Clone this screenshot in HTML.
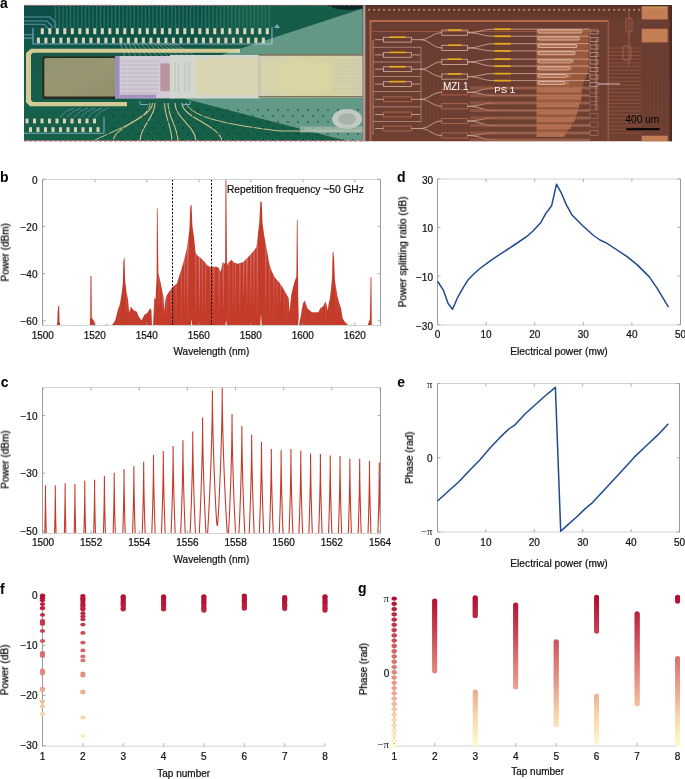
<!DOCTYPE html><html><head><meta charset="utf-8"><style>html,body{margin:0;padding:0;background:#fff;}svg{display:block;}text{will-change:transform;}</style></head><body>
<svg width="685" height="779" viewBox="0 0 685 779" font-family="'Liberation Sans', sans-serif">
<rect width="685" height="779" fill="#fff"/>
<defs>
<linearGradient id="pcbg" x1="0" y1="0" x2="0" y2="1"><stop offset="0" stop-color="#0f4b46"/><stop offset="0.25" stop-color="#10554a"/><stop offset="0.6" stop-color="#18604b"/><stop offset="1" stop-color="#185f4a"/></linearGradient>
<linearGradient id="chipg" x1="0" y1="0" x2="0" y2="1"><stop offset="0" stop-color="#5a3228"/><stop offset="0.12" stop-color="#6a3c31"/><stop offset="1" stop-color="#6d3f32"/></linearGradient>
<linearGradient id="fiberg" x1="0" y1="0" x2="1" y2="0"><stop offset="0" stop-color="#cfcdb9"/><stop offset="0.35" stop-color="#d8d3a6"/><stop offset="0.7" stop-color="#d6d1a2"/><stop offset="1" stop-color="#d2cfb0"/></linearGradient>
<linearGradient id="olive" x1="0" y1="0" x2="1" y2="1"><stop offset="0" stop-color="#939370"/><stop offset="0.5" stop-color="#999772"/><stop offset="1" stop-color="#91906a"/></linearGradient>
<filter id="soft" x="0" y="0" width="1" height="1"><feGaussianBlur stdDeviation="0.55"/></filter>
<clipPath id="pcbclip"><rect x="24" y="5.3" width="338.8" height="135.5"/></clipPath>
<clipPath id="chipclip"><rect x="362.5" y="5.3" width="309.5" height="136"/></clipPath>
</defs>
<g filter="url(#soft)">
<g clip-path="url(#pcbclip)">
<rect x="24" y="5" width="339" height="136.5" fill="url(#pcbg)"/>
<defs><linearGradient id="urg" x1="0" y1="0" x2="1" y2="0"><stop offset="0" stop-color="#175d48" stop-opacity="0"/><stop offset="0.3" stop-color="#175d48" stop-opacity="1"/></linearGradient></defs>
<rect x="200" y="5" width="163" height="50" fill="url(#urg)"/>
<line x1="55.5" y1="5" x2="55.5" y2="28" stroke="#2a7a68" stroke-width="1.3" stroke-opacity="0.8"/>
<line x1="59.2" y1="5" x2="59.2" y2="28" stroke="#2a7a68" stroke-width="1.3" stroke-opacity="0.8"/>
<line x1="63.0" y1="5" x2="63.0" y2="28" stroke="#2a7a68" stroke-width="1.3" stroke-opacity="0.8"/>
<line x1="66.8" y1="5" x2="66.8" y2="28" stroke="#2a7a68" stroke-width="1.3" stroke-opacity="0.8"/>
<line x1="70.5" y1="5" x2="70.5" y2="28" stroke="#2a7a68" stroke-width="1.3" stroke-opacity="0.8"/>
<line x1="74.2" y1="5" x2="74.2" y2="28" stroke="#2a7a68" stroke-width="1.3" stroke-opacity="0.8"/>
<line x1="78.0" y1="5" x2="78.0" y2="28" stroke="#2a7a68" stroke-width="1.3" stroke-opacity="0.8"/>
<line x1="81.8" y1="5" x2="81.8" y2="28" stroke="#2a7a68" stroke-width="1.3" stroke-opacity="0.8"/>
<line x1="85.5" y1="5" x2="85.5" y2="28" stroke="#2a7a68" stroke-width="1.3" stroke-opacity="0.8"/>
<line x1="89.2" y1="5" x2="89.2" y2="28" stroke="#2a7a68" stroke-width="1.3" stroke-opacity="0.8"/>
<line x1="93.0" y1="5" x2="93.0" y2="28" stroke="#2a7a68" stroke-width="1.3" stroke-opacity="0.8"/>
<line x1="96.8" y1="5" x2="96.8" y2="28" stroke="#2a7a68" stroke-width="1.3" stroke-opacity="0.8"/>
<line x1="100.5" y1="5" x2="100.5" y2="28" stroke="#2a7a68" stroke-width="1.3" stroke-opacity="0.8"/>
<line x1="104.2" y1="5" x2="104.2" y2="28" stroke="#2a7a68" stroke-width="1.3" stroke-opacity="0.8"/>
<line x1="108.0" y1="5" x2="108.0" y2="28" stroke="#2a7a68" stroke-width="1.3" stroke-opacity="0.8"/>
<line x1="111.8" y1="5" x2="111.8" y2="28" stroke="#2a7a68" stroke-width="1.3" stroke-opacity="0.8"/>
<line x1="115.5" y1="5" x2="115.5" y2="28" stroke="#2a7a68" stroke-width="1.3" stroke-opacity="0.8"/>
<line x1="119.2" y1="5" x2="119.2" y2="28" stroke="#2a7a68" stroke-width="1.3" stroke-opacity="0.8"/>
<line x1="123.0" y1="5" x2="123.0" y2="28" stroke="#2a7a68" stroke-width="1.3" stroke-opacity="0.8"/>
<line x1="126.8" y1="5" x2="126.8" y2="28" stroke="#2a7a68" stroke-width="1.3" stroke-opacity="0.8"/>
<line x1="130.5" y1="5" x2="130.5" y2="28" stroke="#2a7a68" stroke-width="1.3" stroke-opacity="0.8"/>
<line x1="134.2" y1="5" x2="134.2" y2="28" stroke="#2a7a68" stroke-width="1.3" stroke-opacity="0.8"/>
<line x1="138.0" y1="5" x2="138.0" y2="28" stroke="#2a7a68" stroke-width="1.3" stroke-opacity="0.8"/>
<line x1="141.8" y1="5" x2="141.8" y2="28" stroke="#2a7a68" stroke-width="1.3" stroke-opacity="0.8"/>
<line x1="145.5" y1="5" x2="145.5" y2="28" stroke="#2a7a68" stroke-width="1.3" stroke-opacity="0.8"/>
<line x1="149.2" y1="5" x2="149.2" y2="28" stroke="#2a7a68" stroke-width="1.3" stroke-opacity="0.8"/>
<line x1="153.0" y1="5" x2="153.0" y2="28" stroke="#2a7a68" stroke-width="1.3" stroke-opacity="0.8"/>
<line x1="156.8" y1="5" x2="156.8" y2="28" stroke="#2a7a68" stroke-width="1.3" stroke-opacity="0.8"/>
<line x1="160.5" y1="5" x2="160.5" y2="28" stroke="#2a7a68" stroke-width="1.3" stroke-opacity="0.8"/>
<line x1="164.2" y1="5" x2="164.2" y2="28" stroke="#2a7a68" stroke-width="1.3" stroke-opacity="0.8"/>
<line x1="168.0" y1="5" x2="168.0" y2="28" stroke="#2a7a68" stroke-width="1.3" stroke-opacity="0.8"/>
<line x1="171.8" y1="5" x2="171.8" y2="28" stroke="#2a7a68" stroke-width="1.3" stroke-opacity="0.8"/>
<line x1="175.5" y1="5" x2="175.5" y2="28" stroke="#2a7a68" stroke-width="1.3" stroke-opacity="0.8"/>
<line x1="179.2" y1="5" x2="179.2" y2="28" stroke="#2a7a68" stroke-width="1.3" stroke-opacity="0.8"/>
<line x1="183.0" y1="5" x2="183.0" y2="28" stroke="#2a7a68" stroke-width="1.3" stroke-opacity="0.8"/>
<line x1="186.8" y1="5" x2="186.8" y2="28" stroke="#2a7a68" stroke-width="1.3" stroke-opacity="0.8"/>
<line x1="190.5" y1="5" x2="190.5" y2="28" stroke="#2a7a68" stroke-width="1.3" stroke-opacity="0.8"/>
<line x1="194.2" y1="5" x2="194.2" y2="28" stroke="#2a7a68" stroke-width="1.3" stroke-opacity="0.8"/>
<line x1="198.0" y1="5" x2="198.0" y2="28" stroke="#2a7a68" stroke-width="1.3" stroke-opacity="0.8"/>
<line x1="201.8" y1="5" x2="201.8" y2="28" stroke="#2a7a68" stroke-width="1.3" stroke-opacity="0.8"/>
<line x1="205.5" y1="5" x2="205.5" y2="28" stroke="#2a7a68" stroke-width="1.3" stroke-opacity="0.8"/>
<line x1="209.2" y1="5" x2="209.2" y2="28" stroke="#2a7a68" stroke-width="1.3" stroke-opacity="0.8"/>
<line x1="213.0" y1="5" x2="213.0" y2="28" stroke="#2a7a68" stroke-width="1.3" stroke-opacity="0.8"/>
<line x1="216.8" y1="5" x2="216.8" y2="28" stroke="#2a7a68" stroke-width="1.3" stroke-opacity="0.8"/>
<line x1="220.5" y1="5" x2="220.5" y2="28" stroke="#2a7a68" stroke-width="1.3" stroke-opacity="0.8"/>
<line x1="224.2" y1="5" x2="224.2" y2="28" stroke="#2a7a68" stroke-width="1.3" stroke-opacity="0.8"/>
<line x1="228.0" y1="5" x2="228.0" y2="28" stroke="#2a7a68" stroke-width="1.3" stroke-opacity="0.8"/>
<line x1="231.8" y1="5" x2="231.8" y2="28" stroke="#2a7a68" stroke-width="1.3" stroke-opacity="0.8"/>
<line x1="235.5" y1="5" x2="235.5" y2="28" stroke="#2a7a68" stroke-width="1.3" stroke-opacity="0.8"/>
<line x1="239.2" y1="5" x2="239.2" y2="28" stroke="#2a7a68" stroke-width="1.3" stroke-opacity="0.8"/>
<line x1="243.0" y1="5" x2="243.0" y2="28" stroke="#2a7a68" stroke-width="1.3" stroke-opacity="0.8"/>
<line x1="246.8" y1="5" x2="246.8" y2="28" stroke="#2a7a68" stroke-width="1.3" stroke-opacity="0.8"/>
<line x1="250.5" y1="5" x2="250.5" y2="28" stroke="#2a7a68" stroke-width="1.3" stroke-opacity="0.8"/>
<line x1="254.2" y1="5" x2="254.2" y2="28" stroke="#2a7a68" stroke-width="1.3" stroke-opacity="0.8"/>
<line x1="258.0" y1="5" x2="258.0" y2="28" stroke="#2a7a68" stroke-width="1.3" stroke-opacity="0.8"/>
<line x1="261.8" y1="5" x2="261.8" y2="28" stroke="#2a7a68" stroke-width="1.3" stroke-opacity="0.8"/>
<line x1="265.5" y1="5" x2="265.5" y2="28" stroke="#2a7a68" stroke-width="1.3" stroke-opacity="0.8"/>
<line x1="269.2" y1="5" x2="269.2" y2="28" stroke="#2a7a68" stroke-width="1.3" stroke-opacity="0.8"/>
<polyline points="24,17 50,17 55,22 55,28" fill="none" stroke="#5f8fa8" stroke-width="1.1"/>
<polyline points="24,21 47,21 52,26 52,28" fill="none" stroke="#5f8fa8" stroke-width="1.1"/>
<polyline points="24,24.3 44,24.3 49,29.3 49,28" fill="none" stroke="#5f8fa8" stroke-width="1.1"/>
<polyline points="24,34.8 33,34.8" fill="none" stroke="#5f8fa8" stroke-width="1.1"/>
<polyline points="24,38.1 33,38.1" fill="none" stroke="#5f8fa8" stroke-width="1.1"/>
<polyline points="33,28 33,44 272,44 272,27" fill="none" stroke="#7fa7c4" stroke-width="1.2"/>
<path d="M274,28 l3,-4 l3,4z" fill="#7fa7c4"/>
<rect x="40.8" y="28.2" width="3" height="6" fill="#ddd8bc"/>
<rect x="48.3" y="28.2" width="3" height="6" fill="#ddd8bc"/>
<rect x="55.8" y="28.2" width="3" height="6" fill="#ddd8bc"/>
<rect x="63.3" y="28.2" width="3" height="6" fill="#ddd8bc"/>
<rect x="70.8" y="28.2" width="3" height="6" fill="#ddd8bc"/>
<rect x="78.3" y="28.2" width="3" height="6" fill="#ddd8bc"/>
<rect x="85.8" y="28.2" width="3" height="6" fill="#ddd8bc"/>
<rect x="93.3" y="28.2" width="3" height="6" fill="#ddd8bc"/>
<rect x="100.8" y="28.2" width="3" height="6" fill="#ddd8bc"/>
<rect x="108.3" y="28.2" width="3" height="6" fill="#ddd8bc"/>
<rect x="115.8" y="28.2" width="3" height="6" fill="#ddd8bc"/>
<rect x="123.3" y="28.2" width="3" height="6" fill="#ddd8bc"/>
<rect x="130.8" y="28.2" width="3" height="6" fill="#ddd8bc"/>
<rect x="138.3" y="28.2" width="3" height="6" fill="#ddd8bc"/>
<rect x="145.8" y="28.2" width="3" height="6" fill="#ddd8bc"/>
<rect x="153.3" y="28.2" width="3" height="6" fill="#ddd8bc"/>
<rect x="160.8" y="28.2" width="3" height="6" fill="#ddd8bc"/>
<rect x="168.3" y="28.2" width="3" height="6" fill="#ddd8bc"/>
<rect x="175.8" y="28.2" width="3" height="6" fill="#ddd8bc"/>
<rect x="183.3" y="28.2" width="3" height="6" fill="#ddd8bc"/>
<rect x="190.8" y="28.2" width="3" height="6" fill="#ddd8bc"/>
<rect x="198.3" y="28.2" width="3" height="6" fill="#ddd8bc"/>
<rect x="205.8" y="28.2" width="3" height="6" fill="#ddd8bc"/>
<rect x="213.3" y="28.2" width="3" height="6" fill="#ddd8bc"/>
<rect x="220.8" y="28.2" width="3" height="6" fill="#ddd8bc"/>
<rect x="228.3" y="28.2" width="3" height="6" fill="#ddd8bc"/>
<rect x="235.8" y="28.2" width="3" height="6" fill="#ddd8bc"/>
<rect x="243.3" y="28.2" width="3" height="6" fill="#ddd8bc"/>
<rect x="250.8" y="28.2" width="3" height="6" fill="#ddd8bc"/>
<rect x="258.3" y="28.2" width="3" height="6" fill="#ddd8bc"/>
<rect x="265.8" y="28.2" width="3" height="6" fill="#ddd8bc"/>
<rect x="36.9" y="37.6" width="3" height="5.6" fill="#d9d4b6"/>
<rect x="44.4" y="37.6" width="3" height="5.6" fill="#d9d4b6"/>
<rect x="51.9" y="37.6" width="3" height="5.6" fill="#d9d4b6"/>
<rect x="59.4" y="37.6" width="3" height="5.6" fill="#d9d4b6"/>
<rect x="66.9" y="37.6" width="3" height="5.6" fill="#d9d4b6"/>
<rect x="74.4" y="37.6" width="3" height="5.6" fill="#d9d4b6"/>
<rect x="81.9" y="37.6" width="3" height="5.6" fill="#d9d4b6"/>
<rect x="89.4" y="37.6" width="3" height="5.6" fill="#d9d4b6"/>
<rect x="96.9" y="37.6" width="3" height="5.6" fill="#d9d4b6"/>
<rect x="104.4" y="37.6" width="3" height="5.6" fill="#d9d4b6"/>
<rect x="111.9" y="37.6" width="3" height="5.6" fill="#d9d4b6"/>
<rect x="119.4" y="37.6" width="3" height="5.6" fill="#d9d4b6"/>
<rect x="126.9" y="37.6" width="3" height="5.6" fill="#d9d4b6"/>
<rect x="134.4" y="37.6" width="3" height="5.6" fill="#d9d4b6"/>
<rect x="141.9" y="37.6" width="3" height="5.6" fill="#d9d4b6"/>
<rect x="149.4" y="37.6" width="3" height="5.6" fill="#d9d4b6"/>
<rect x="156.9" y="37.6" width="3" height="5.6" fill="#d9d4b6"/>
<rect x="164.4" y="37.6" width="3" height="5.6" fill="#d9d4b6"/>
<rect x="171.9" y="37.6" width="3" height="5.6" fill="#d9d4b6"/>
<rect x="179.4" y="37.6" width="3" height="5.6" fill="#d9d4b6"/>
<rect x="186.9" y="37.6" width="3" height="5.6" fill="#d9d4b6"/>
<rect x="194.4" y="37.6" width="3" height="5.6" fill="#d9d4b6"/>
<rect x="201.9" y="37.6" width="3" height="5.6" fill="#d9d4b6"/>
<rect x="209.4" y="37.6" width="3" height="5.6" fill="#d9d4b6"/>
<rect x="216.9" y="37.6" width="3" height="5.6" fill="#d9d4b6"/>
<rect x="224.4" y="37.6" width="3" height="5.6" fill="#d9d4b6"/>
<rect x="231.9" y="37.6" width="3" height="5.6" fill="#d9d4b6"/>
<rect x="239.4" y="37.6" width="3" height="5.6" fill="#d9d4b6"/>
<rect x="246.9" y="37.6" width="3" height="5.6" fill="#d9d4b6"/>
<rect x="254.4" y="37.6" width="3" height="5.6" fill="#d9d4b6"/>
<rect x="261.9" y="37.6" width="3" height="5.6" fill="#d9d4b6"/>
<path d="M31,48.8 L240,48.8 L240,52.8 L33,52.8 L31,54.8 L31,100 L33,102 L127,102 L127,106.2 L30,106.2 L26,102.2 L26,53 Z" fill="#d4ca94"/>
<line x1="120.0" y1="42" x2="125.0" y2="57" stroke="#e8e4d0" stroke-width="0.5" stroke-opacity="0.7"/>
<line x1="124.0" y1="42" x2="130.5" y2="57" stroke="#e8e4d0" stroke-width="0.5" stroke-opacity="0.7"/>
<line x1="128.0" y1="42" x2="136.0" y2="57" stroke="#e8e4d0" stroke-width="0.5" stroke-opacity="0.7"/>
<line x1="132.0" y1="42" x2="141.5" y2="57" stroke="#e8e4d0" stroke-width="0.5" stroke-opacity="0.7"/>
<line x1="136.0" y1="42" x2="147.0" y2="57" stroke="#e8e4d0" stroke-width="0.5" stroke-opacity="0.7"/>
<line x1="140.0" y1="42" x2="152.5" y2="57" stroke="#e8e4d0" stroke-width="0.5" stroke-opacity="0.7"/>
<line x1="144.0" y1="42" x2="158.0" y2="57" stroke="#e8e4d0" stroke-width="0.5" stroke-opacity="0.7"/>
<line x1="148.0" y1="42" x2="163.5" y2="57" stroke="#e8e4d0" stroke-width="0.5" stroke-opacity="0.7"/>
<line x1="152.0" y1="42" x2="169.0" y2="57" stroke="#e8e4d0" stroke-width="0.5" stroke-opacity="0.7"/>
<line x1="156.0" y1="42" x2="174.5" y2="57" stroke="#e8e4d0" stroke-width="0.5" stroke-opacity="0.7"/>
<line x1="160.0" y1="42" x2="180.0" y2="57" stroke="#e8e4d0" stroke-width="0.5" stroke-opacity="0.7"/>
<line x1="164.0" y1="42" x2="185.5" y2="57" stroke="#e8e4d0" stroke-width="0.5" stroke-opacity="0.7"/>
<line x1="168.0" y1="42" x2="191.0" y2="57" stroke="#e8e4d0" stroke-width="0.5" stroke-opacity="0.7"/>
<line x1="172.0" y1="42" x2="196.5" y2="57" stroke="#e8e4d0" stroke-width="0.5" stroke-opacity="0.7"/>
<rect x="42.3" y="56.5" width="74" height="42.5" rx="2.5" fill="#262a1c"/>
<rect x="44.3" y="58" width="71" height="38.6" rx="1.5" fill="url(#olive)"/>
<polygon points="200,55 221,55 362.8,8.5 362.8,141 347,141 182,98 182,55" fill="#cfeadb" fill-opacity="0.42"/>
<polygon points="328,5 363,5 363,8.5 350,10 336,9" fill="#0d1d22" fill-opacity="0.85"/>
<rect x="115.1" y="56" width="60" height="42.4" fill="#d2cad6"/>
<rect x="115.1" y="56" width="4.5" height="42.4" fill="#9a8fbb"/>
<line x1="121" y1="61.0" x2="158" y2="61.0" stroke="#b0a8b8" stroke-width="0.6"/>
<line x1="121" y1="65.0" x2="158" y2="65.0" stroke="#b0a8b8" stroke-width="0.6"/>
<line x1="121" y1="69.0" x2="158" y2="69.0" stroke="#b0a8b8" stroke-width="0.6"/>
<line x1="121" y1="73.0" x2="158" y2="73.0" stroke="#b0a8b8" stroke-width="0.6"/>
<line x1="121" y1="77.0" x2="158" y2="77.0" stroke="#b0a8b8" stroke-width="0.6"/>
<line x1="121" y1="81.0" x2="158" y2="81.0" stroke="#b0a8b8" stroke-width="0.6"/>
<line x1="121" y1="85.0" x2="158" y2="85.0" stroke="#b0a8b8" stroke-width="0.6"/>
<line x1="121" y1="89.0" x2="158" y2="89.0" stroke="#b0a8b8" stroke-width="0.6"/>
<line x1="121" y1="93.0" x2="158" y2="93.0" stroke="#b0a8b8" stroke-width="0.6"/>
<rect x="160.4" y="63.4" width="9.5" height="27.7" fill="#b9969e"/>
<rect x="120" y="94.7" width="36" height="3.7" fill="#a890c0"/>
<rect x="170" y="55" width="90" height="43.5" fill="#d3d6cc"/>
<line x1="175" y1="62" x2="175" y2="92" stroke="#a8c0b8" stroke-width="0.8"/>
<line x1="178.5" y1="62" x2="178.5" y2="92" stroke="#a8c0b8" stroke-width="0.8"/>
<line x1="185" y1="62" x2="185" y2="92" stroke="#a8c0b8" stroke-width="0.8"/>
<line x1="189" y1="62" x2="189" y2="92" stroke="#a8c0b8" stroke-width="0.8"/>
<rect x="196" y="58.5" width="62" height="36.5" rx="4" fill="#d9d4ac" fill-opacity="0.85"/>
<rect x="258.6" y="54" width="104.2" height="44" fill="url(#fiberg)"/>
<line x1="258" y1="54.9" x2="363" y2="54.9" stroke="#7d7560" stroke-width="1.6"/>
<line x1="258" y1="96.8" x2="363" y2="96.8" stroke="#7d7560" stroke-width="1.6"/>
<line x1="259" y1="55" x2="259" y2="97" stroke="#bdb9a2" stroke-width="1"/>
<line x1="330" y1="60.0" x2="362" y2="60.0" stroke="#c4c2aa" stroke-width="0.6"/>
<line x1="330" y1="63.6" x2="362" y2="63.6" stroke="#c4c2aa" stroke-width="0.6"/>
<line x1="330" y1="67.2" x2="362" y2="67.2" stroke="#c4c2aa" stroke-width="0.6"/>
<line x1="330" y1="70.8" x2="362" y2="70.8" stroke="#c4c2aa" stroke-width="0.6"/>
<line x1="330" y1="74.4" x2="362" y2="74.4" stroke="#c4c2aa" stroke-width="0.6"/>
<line x1="330" y1="78.0" x2="362" y2="78.0" stroke="#c4c2aa" stroke-width="0.6"/>
<line x1="330" y1="81.6" x2="362" y2="81.6" stroke="#c4c2aa" stroke-width="0.6"/>
<line x1="330" y1="85.2" x2="362" y2="85.2" stroke="#c4c2aa" stroke-width="0.6"/>
<line x1="330" y1="88.8" x2="362" y2="88.8" stroke="#c4c2aa" stroke-width="0.6"/>
<line x1="330" y1="92.4" x2="362" y2="92.4" stroke="#c4c2aa" stroke-width="0.6"/>
<path d="M262,62 Q300,58 330,64 Q340,76 330,92 Q300,95 262,92Z" fill="#ddd7a0" fill-opacity="0.5"/>
<path d="M152.5,103 C152.5,118 113,126 113,142" fill="none" stroke="#cfc08a" stroke-width="1.1"/>
<path d="M155,103 C155,118 140,126 140,142" fill="none" stroke="#cfc08a" stroke-width="1.1"/>
<path d="M164.6,103 C164.6,118 172,126 172,142" fill="none" stroke="#cfc08a" stroke-width="1.1"/>
<path d="M168,103 C168,118 178,126 178,142" fill="none" stroke="#cfc08a" stroke-width="1.1"/>
<path d="M175,103 C175,118 196,126 196,142" fill="none" stroke="#cfc08a" stroke-width="1.1"/>
<path d="M182,103 C182,118 222,126 222,142" fill="none" stroke="#cfc08a" stroke-width="1.1"/>
<path d="M186,103 C192,118 230,125 280,131 L363,131" fill="none" stroke="#cfc08a" stroke-width="1"/>
<path d="M150,103 C150,118 120,128 95,140" fill="none" stroke="#cfc08a" stroke-width="1"/>
<polyline points="140,101 140,104.5 148,104.5" fill="none" stroke="#7fa7c4" stroke-width="1"/>
<polyline points="190,101 190,104.5 182,104.5" fill="none" stroke="#7fa7c4" stroke-width="1"/>
<ellipse cx="108.0" cy="110.0" rx="1.2" ry="0.8" fill="#0b3c30" fill-opacity="0.75"/>
<ellipse cx="118.0" cy="110.0" rx="1.2" ry="0.8" fill="#0b3c30" fill-opacity="0.75"/>
<ellipse cx="128.0" cy="110.0" rx="1.2" ry="0.8" fill="#0b3c30" fill-opacity="0.75"/>
<ellipse cx="138.0" cy="110.0" rx="1.2" ry="0.8" fill="#0b3c30" fill-opacity="0.75"/>
<ellipse cx="148.0" cy="110.0" rx="1.2" ry="0.8" fill="#0b3c30" fill-opacity="0.75"/>
<ellipse cx="158.0" cy="110.0" rx="1.2" ry="0.8" fill="#0b3c30" fill-opacity="0.75"/>
<ellipse cx="168.0" cy="110.0" rx="1.2" ry="0.8" fill="#0b3c30" fill-opacity="0.75"/>
<ellipse cx="178.0" cy="110.0" rx="1.2" ry="0.8" fill="#0b3c30" fill-opacity="0.75"/>
<ellipse cx="188.0" cy="110.0" rx="1.2" ry="0.8" fill="#0b3c30" fill-opacity="0.75"/>
<ellipse cx="198.0" cy="110.0" rx="1.2" ry="0.8" fill="#0b3c30" fill-opacity="0.75"/>
<ellipse cx="208.0" cy="110.0" rx="1.2" ry="0.8" fill="#0b3c30" fill-opacity="0.75"/>
<ellipse cx="218.0" cy="110.0" rx="1.2" ry="0.8" fill="#0b3c30" fill-opacity="0.75"/>
<ellipse cx="228.0" cy="110.0" rx="1.2" ry="0.8" fill="#0b3c30" fill-opacity="0.75"/>
<ellipse cx="238.0" cy="110.0" rx="1.2" ry="0.8" fill="#0b3c30" fill-opacity="0.75"/>
<ellipse cx="248.0" cy="110.0" rx="1.2" ry="0.8" fill="#0b3c30" fill-opacity="0.75"/>
<ellipse cx="258.0" cy="110.0" rx="1.2" ry="0.8" fill="#0b3c30" fill-opacity="0.75"/>
<ellipse cx="268.0" cy="110.0" rx="1.2" ry="0.8" fill="#0b3c30" fill-opacity="0.75"/>
<ellipse cx="278.0" cy="110.0" rx="1.2" ry="0.8" fill="#0b3c30" fill-opacity="0.75"/>
<ellipse cx="288.0" cy="110.0" rx="1.2" ry="0.8" fill="#0b3c30" fill-opacity="0.75"/>
<ellipse cx="298.0" cy="110.0" rx="1.2" ry="0.8" fill="#0b3c30" fill-opacity="0.75"/>
<ellipse cx="308.0" cy="110.0" rx="1.2" ry="0.8" fill="#0b3c30" fill-opacity="0.75"/>
<ellipse cx="318.0" cy="110.0" rx="1.2" ry="0.8" fill="#0b3c30" fill-opacity="0.75"/>
<ellipse cx="328.0" cy="110.0" rx="1.2" ry="0.8" fill="#0b3c30" fill-opacity="0.75"/>
<ellipse cx="338.0" cy="110.0" rx="1.2" ry="0.8" fill="#0b3c30" fill-opacity="0.75"/>
<ellipse cx="348.0" cy="110.0" rx="1.2" ry="0.8" fill="#0b3c30" fill-opacity="0.75"/>
<ellipse cx="358.0" cy="110.0" rx="1.2" ry="0.8" fill="#0b3c30" fill-opacity="0.75"/>
<ellipse cx="113.0" cy="116.0" rx="1.2" ry="0.8" fill="#0b3c30" fill-opacity="0.75"/>
<ellipse cx="123.0" cy="116.0" rx="1.2" ry="0.8" fill="#0b3c30" fill-opacity="0.75"/>
<ellipse cx="133.0" cy="116.0" rx="1.2" ry="0.8" fill="#0b3c30" fill-opacity="0.75"/>
<ellipse cx="143.0" cy="116.0" rx="1.2" ry="0.8" fill="#0b3c30" fill-opacity="0.75"/>
<ellipse cx="153.0" cy="116.0" rx="1.2" ry="0.8" fill="#0b3c30" fill-opacity="0.75"/>
<ellipse cx="163.0" cy="116.0" rx="1.2" ry="0.8" fill="#0b3c30" fill-opacity="0.75"/>
<ellipse cx="173.0" cy="116.0" rx="1.2" ry="0.8" fill="#0b3c30" fill-opacity="0.75"/>
<ellipse cx="183.0" cy="116.0" rx="1.2" ry="0.8" fill="#0b3c30" fill-opacity="0.75"/>
<ellipse cx="193.0" cy="116.0" rx="1.2" ry="0.8" fill="#0b3c30" fill-opacity="0.75"/>
<ellipse cx="203.0" cy="116.0" rx="1.2" ry="0.8" fill="#0b3c30" fill-opacity="0.75"/>
<ellipse cx="213.0" cy="116.0" rx="1.2" ry="0.8" fill="#0b3c30" fill-opacity="0.75"/>
<ellipse cx="223.0" cy="116.0" rx="1.2" ry="0.8" fill="#0b3c30" fill-opacity="0.75"/>
<ellipse cx="233.0" cy="116.0" rx="1.2" ry="0.8" fill="#0b3c30" fill-opacity="0.75"/>
<ellipse cx="243.0" cy="116.0" rx="1.2" ry="0.8" fill="#0b3c30" fill-opacity="0.75"/>
<ellipse cx="253.0" cy="116.0" rx="1.2" ry="0.8" fill="#0b3c30" fill-opacity="0.75"/>
<ellipse cx="263.0" cy="116.0" rx="1.2" ry="0.8" fill="#0b3c30" fill-opacity="0.75"/>
<ellipse cx="273.0" cy="116.0" rx="1.2" ry="0.8" fill="#0b3c30" fill-opacity="0.75"/>
<ellipse cx="283.0" cy="116.0" rx="1.2" ry="0.8" fill="#0b3c30" fill-opacity="0.75"/>
<ellipse cx="293.0" cy="116.0" rx="1.2" ry="0.8" fill="#0b3c30" fill-opacity="0.75"/>
<ellipse cx="303.0" cy="116.0" rx="1.2" ry="0.8" fill="#0b3c30" fill-opacity="0.75"/>
<ellipse cx="313.0" cy="116.0" rx="1.2" ry="0.8" fill="#0b3c30" fill-opacity="0.75"/>
<ellipse cx="323.0" cy="116.0" rx="1.2" ry="0.8" fill="#0b3c30" fill-opacity="0.75"/>
<ellipse cx="333.0" cy="116.0" rx="1.2" ry="0.8" fill="#0b3c30" fill-opacity="0.75"/>
<ellipse cx="343.0" cy="116.0" rx="1.2" ry="0.8" fill="#0b3c30" fill-opacity="0.75"/>
<ellipse cx="353.0" cy="116.0" rx="1.2" ry="0.8" fill="#0b3c30" fill-opacity="0.75"/>
<ellipse cx="108.0" cy="122.0" rx="1.2" ry="0.8" fill="#0b3c30" fill-opacity="0.75"/>
<ellipse cx="118.0" cy="122.0" rx="1.2" ry="0.8" fill="#0b3c30" fill-opacity="0.75"/>
<ellipse cx="128.0" cy="122.0" rx="1.2" ry="0.8" fill="#0b3c30" fill-opacity="0.75"/>
<ellipse cx="138.0" cy="122.0" rx="1.2" ry="0.8" fill="#0b3c30" fill-opacity="0.75"/>
<ellipse cx="148.0" cy="122.0" rx="1.2" ry="0.8" fill="#0b3c30" fill-opacity="0.75"/>
<ellipse cx="158.0" cy="122.0" rx="1.2" ry="0.8" fill="#0b3c30" fill-opacity="0.75"/>
<ellipse cx="168.0" cy="122.0" rx="1.2" ry="0.8" fill="#0b3c30" fill-opacity="0.75"/>
<ellipse cx="178.0" cy="122.0" rx="1.2" ry="0.8" fill="#0b3c30" fill-opacity="0.75"/>
<ellipse cx="188.0" cy="122.0" rx="1.2" ry="0.8" fill="#0b3c30" fill-opacity="0.75"/>
<ellipse cx="198.0" cy="122.0" rx="1.2" ry="0.8" fill="#0b3c30" fill-opacity="0.75"/>
<ellipse cx="208.0" cy="122.0" rx="1.2" ry="0.8" fill="#0b3c30" fill-opacity="0.75"/>
<ellipse cx="218.0" cy="122.0" rx="1.2" ry="0.8" fill="#0b3c30" fill-opacity="0.75"/>
<ellipse cx="228.0" cy="122.0" rx="1.2" ry="0.8" fill="#0b3c30" fill-opacity="0.75"/>
<ellipse cx="238.0" cy="122.0" rx="1.2" ry="0.8" fill="#0b3c30" fill-opacity="0.75"/>
<ellipse cx="248.0" cy="122.0" rx="1.2" ry="0.8" fill="#0b3c30" fill-opacity="0.75"/>
<ellipse cx="258.0" cy="122.0" rx="1.2" ry="0.8" fill="#0b3c30" fill-opacity="0.75"/>
<ellipse cx="268.0" cy="122.0" rx="1.2" ry="0.8" fill="#0b3c30" fill-opacity="0.75"/>
<ellipse cx="278.0" cy="122.0" rx="1.2" ry="0.8" fill="#0b3c30" fill-opacity="0.75"/>
<ellipse cx="288.0" cy="122.0" rx="1.2" ry="0.8" fill="#0b3c30" fill-opacity="0.75"/>
<ellipse cx="298.0" cy="122.0" rx="1.2" ry="0.8" fill="#0b3c30" fill-opacity="0.75"/>
<ellipse cx="308.0" cy="122.0" rx="1.2" ry="0.8" fill="#0b3c30" fill-opacity="0.75"/>
<ellipse cx="318.0" cy="122.0" rx="1.2" ry="0.8" fill="#0b3c30" fill-opacity="0.75"/>
<ellipse cx="328.0" cy="122.0" rx="1.2" ry="0.8" fill="#0b3c30" fill-opacity="0.75"/>
<ellipse cx="338.0" cy="122.0" rx="1.2" ry="0.8" fill="#0b3c30" fill-opacity="0.75"/>
<ellipse cx="348.0" cy="122.0" rx="1.2" ry="0.8" fill="#0b3c30" fill-opacity="0.75"/>
<ellipse cx="358.0" cy="122.0" rx="1.2" ry="0.8" fill="#0b3c30" fill-opacity="0.75"/>
<ellipse cx="113.0" cy="128.0" rx="1.2" ry="0.8" fill="#0b3c30" fill-opacity="0.75"/>
<ellipse cx="123.0" cy="128.0" rx="1.2" ry="0.8" fill="#0b3c30" fill-opacity="0.75"/>
<ellipse cx="133.0" cy="128.0" rx="1.2" ry="0.8" fill="#0b3c30" fill-opacity="0.75"/>
<ellipse cx="143.0" cy="128.0" rx="1.2" ry="0.8" fill="#0b3c30" fill-opacity="0.75"/>
<ellipse cx="153.0" cy="128.0" rx="1.2" ry="0.8" fill="#0b3c30" fill-opacity="0.75"/>
<ellipse cx="163.0" cy="128.0" rx="1.2" ry="0.8" fill="#0b3c30" fill-opacity="0.75"/>
<ellipse cx="173.0" cy="128.0" rx="1.2" ry="0.8" fill="#0b3c30" fill-opacity="0.75"/>
<ellipse cx="183.0" cy="128.0" rx="1.2" ry="0.8" fill="#0b3c30" fill-opacity="0.75"/>
<ellipse cx="193.0" cy="128.0" rx="1.2" ry="0.8" fill="#0b3c30" fill-opacity="0.75"/>
<ellipse cx="203.0" cy="128.0" rx="1.2" ry="0.8" fill="#0b3c30" fill-opacity="0.75"/>
<ellipse cx="213.0" cy="128.0" rx="1.2" ry="0.8" fill="#0b3c30" fill-opacity="0.75"/>
<ellipse cx="223.0" cy="128.0" rx="1.2" ry="0.8" fill="#0b3c30" fill-opacity="0.75"/>
<ellipse cx="233.0" cy="128.0" rx="1.2" ry="0.8" fill="#0b3c30" fill-opacity="0.75"/>
<ellipse cx="243.0" cy="128.0" rx="1.2" ry="0.8" fill="#0b3c30" fill-opacity="0.75"/>
<ellipse cx="253.0" cy="128.0" rx="1.2" ry="0.8" fill="#0b3c30" fill-opacity="0.75"/>
<ellipse cx="263.0" cy="128.0" rx="1.2" ry="0.8" fill="#0b3c30" fill-opacity="0.75"/>
<ellipse cx="273.0" cy="128.0" rx="1.2" ry="0.8" fill="#0b3c30" fill-opacity="0.75"/>
<ellipse cx="283.0" cy="128.0" rx="1.2" ry="0.8" fill="#0b3c30" fill-opacity="0.75"/>
<ellipse cx="293.0" cy="128.0" rx="1.2" ry="0.8" fill="#0b3c30" fill-opacity="0.75"/>
<ellipse cx="303.0" cy="128.0" rx="1.2" ry="0.8" fill="#0b3c30" fill-opacity="0.75"/>
<ellipse cx="313.0" cy="128.0" rx="1.2" ry="0.8" fill="#0b3c30" fill-opacity="0.75"/>
<ellipse cx="323.0" cy="128.0" rx="1.2" ry="0.8" fill="#0b3c30" fill-opacity="0.75"/>
<ellipse cx="333.0" cy="128.0" rx="1.2" ry="0.8" fill="#0b3c30" fill-opacity="0.75"/>
<ellipse cx="343.0" cy="128.0" rx="1.2" ry="0.8" fill="#0b3c30" fill-opacity="0.75"/>
<ellipse cx="353.0" cy="128.0" rx="1.2" ry="0.8" fill="#0b3c30" fill-opacity="0.75"/>
<ellipse cx="108.0" cy="134.0" rx="1.2" ry="0.8" fill="#0b3c30" fill-opacity="0.75"/>
<ellipse cx="118.0" cy="134.0" rx="1.2" ry="0.8" fill="#0b3c30" fill-opacity="0.75"/>
<ellipse cx="128.0" cy="134.0" rx="1.2" ry="0.8" fill="#0b3c30" fill-opacity="0.75"/>
<ellipse cx="138.0" cy="134.0" rx="1.2" ry="0.8" fill="#0b3c30" fill-opacity="0.75"/>
<ellipse cx="148.0" cy="134.0" rx="1.2" ry="0.8" fill="#0b3c30" fill-opacity="0.75"/>
<ellipse cx="158.0" cy="134.0" rx="1.2" ry="0.8" fill="#0b3c30" fill-opacity="0.75"/>
<ellipse cx="168.0" cy="134.0" rx="1.2" ry="0.8" fill="#0b3c30" fill-opacity="0.75"/>
<ellipse cx="178.0" cy="134.0" rx="1.2" ry="0.8" fill="#0b3c30" fill-opacity="0.75"/>
<ellipse cx="188.0" cy="134.0" rx="1.2" ry="0.8" fill="#0b3c30" fill-opacity="0.75"/>
<ellipse cx="198.0" cy="134.0" rx="1.2" ry="0.8" fill="#0b3c30" fill-opacity="0.75"/>
<ellipse cx="208.0" cy="134.0" rx="1.2" ry="0.8" fill="#0b3c30" fill-opacity="0.75"/>
<ellipse cx="218.0" cy="134.0" rx="1.2" ry="0.8" fill="#0b3c30" fill-opacity="0.75"/>
<ellipse cx="228.0" cy="134.0" rx="1.2" ry="0.8" fill="#0b3c30" fill-opacity="0.75"/>
<ellipse cx="238.0" cy="134.0" rx="1.2" ry="0.8" fill="#0b3c30" fill-opacity="0.75"/>
<ellipse cx="248.0" cy="134.0" rx="1.2" ry="0.8" fill="#0b3c30" fill-opacity="0.75"/>
<ellipse cx="258.0" cy="134.0" rx="1.2" ry="0.8" fill="#0b3c30" fill-opacity="0.75"/>
<ellipse cx="268.0" cy="134.0" rx="1.2" ry="0.8" fill="#0b3c30" fill-opacity="0.75"/>
<ellipse cx="278.0" cy="134.0" rx="1.2" ry="0.8" fill="#0b3c30" fill-opacity="0.75"/>
<ellipse cx="288.0" cy="134.0" rx="1.2" ry="0.8" fill="#0b3c30" fill-opacity="0.75"/>
<ellipse cx="298.0" cy="134.0" rx="1.2" ry="0.8" fill="#0b3c30" fill-opacity="0.75"/>
<ellipse cx="308.0" cy="134.0" rx="1.2" ry="0.8" fill="#0b3c30" fill-opacity="0.75"/>
<ellipse cx="318.0" cy="134.0" rx="1.2" ry="0.8" fill="#0b3c30" fill-opacity="0.75"/>
<ellipse cx="328.0" cy="134.0" rx="1.2" ry="0.8" fill="#0b3c30" fill-opacity="0.75"/>
<ellipse cx="338.0" cy="134.0" rx="1.2" ry="0.8" fill="#0b3c30" fill-opacity="0.75"/>
<ellipse cx="348.0" cy="134.0" rx="1.2" ry="0.8" fill="#0b3c30" fill-opacity="0.75"/>
<ellipse cx="358.0" cy="134.0" rx="1.2" ry="0.8" fill="#0b3c30" fill-opacity="0.75"/>
<ellipse cx="113.0" cy="140.0" rx="1.2" ry="0.8" fill="#0b3c30" fill-opacity="0.75"/>
<ellipse cx="123.0" cy="140.0" rx="1.2" ry="0.8" fill="#0b3c30" fill-opacity="0.75"/>
<ellipse cx="133.0" cy="140.0" rx="1.2" ry="0.8" fill="#0b3c30" fill-opacity="0.75"/>
<ellipse cx="143.0" cy="140.0" rx="1.2" ry="0.8" fill="#0b3c30" fill-opacity="0.75"/>
<ellipse cx="153.0" cy="140.0" rx="1.2" ry="0.8" fill="#0b3c30" fill-opacity="0.75"/>
<ellipse cx="163.0" cy="140.0" rx="1.2" ry="0.8" fill="#0b3c30" fill-opacity="0.75"/>
<ellipse cx="173.0" cy="140.0" rx="1.2" ry="0.8" fill="#0b3c30" fill-opacity="0.75"/>
<ellipse cx="183.0" cy="140.0" rx="1.2" ry="0.8" fill="#0b3c30" fill-opacity="0.75"/>
<ellipse cx="193.0" cy="140.0" rx="1.2" ry="0.8" fill="#0b3c30" fill-opacity="0.75"/>
<ellipse cx="203.0" cy="140.0" rx="1.2" ry="0.8" fill="#0b3c30" fill-opacity="0.75"/>
<ellipse cx="213.0" cy="140.0" rx="1.2" ry="0.8" fill="#0b3c30" fill-opacity="0.75"/>
<ellipse cx="223.0" cy="140.0" rx="1.2" ry="0.8" fill="#0b3c30" fill-opacity="0.75"/>
<ellipse cx="233.0" cy="140.0" rx="1.2" ry="0.8" fill="#0b3c30" fill-opacity="0.75"/>
<ellipse cx="243.0" cy="140.0" rx="1.2" ry="0.8" fill="#0b3c30" fill-opacity="0.75"/>
<ellipse cx="253.0" cy="140.0" rx="1.2" ry="0.8" fill="#0b3c30" fill-opacity="0.75"/>
<ellipse cx="263.0" cy="140.0" rx="1.2" ry="0.8" fill="#0b3c30" fill-opacity="0.75"/>
<ellipse cx="273.0" cy="140.0" rx="1.2" ry="0.8" fill="#0b3c30" fill-opacity="0.75"/>
<ellipse cx="283.0" cy="140.0" rx="1.2" ry="0.8" fill="#0b3c30" fill-opacity="0.75"/>
<ellipse cx="293.0" cy="140.0" rx="1.2" ry="0.8" fill="#0b3c30" fill-opacity="0.75"/>
<ellipse cx="303.0" cy="140.0" rx="1.2" ry="0.8" fill="#0b3c30" fill-opacity="0.75"/>
<ellipse cx="313.0" cy="140.0" rx="1.2" ry="0.8" fill="#0b3c30" fill-opacity="0.75"/>
<ellipse cx="323.0" cy="140.0" rx="1.2" ry="0.8" fill="#0b3c30" fill-opacity="0.75"/>
<ellipse cx="333.0" cy="140.0" rx="1.2" ry="0.8" fill="#0b3c30" fill-opacity="0.75"/>
<ellipse cx="343.0" cy="140.0" rx="1.2" ry="0.8" fill="#0b3c30" fill-opacity="0.75"/>
<ellipse cx="353.0" cy="140.0" rx="1.2" ry="0.8" fill="#0b3c30" fill-opacity="0.75"/>
<rect x="25.5" y="118.6" width="3" height="4.8" fill="#d9d4b6"/>
<rect x="29.0" y="127.2" width="3" height="4.8" fill="#d9d4b6"/>
<rect x="33.0" y="118.6" width="3" height="4.8" fill="#d9d4b6"/>
<rect x="36.5" y="127.2" width="3" height="4.8" fill="#d9d4b6"/>
<rect x="40.5" y="118.6" width="3" height="4.8" fill="#d9d4b6"/>
<rect x="44.0" y="127.2" width="3" height="4.8" fill="#d9d4b6"/>
<rect x="48.0" y="118.6" width="3" height="4.8" fill="#d9d4b6"/>
<rect x="51.5" y="127.2" width="3" height="4.8" fill="#d9d4b6"/>
<rect x="55.5" y="118.6" width="3" height="4.8" fill="#d9d4b6"/>
<rect x="59.0" y="127.2" width="3" height="4.8" fill="#d9d4b6"/>
<rect x="63.0" y="118.6" width="3" height="4.8" fill="#d9d4b6"/>
<rect x="66.5" y="127.2" width="3" height="4.8" fill="#d9d4b6"/>
<rect x="70.5" y="118.6" width="3" height="4.8" fill="#d9d4b6"/>
<rect x="74.0" y="127.2" width="3" height="4.8" fill="#d9d4b6"/>
<rect x="78.0" y="118.6" width="3" height="4.8" fill="#d9d4b6"/>
<rect x="81.5" y="127.2" width="3" height="4.8" fill="#d9d4b6"/>
<rect x="85.5" y="118.6" width="3" height="4.8" fill="#d9d4b6"/>
<rect x="89.0" y="127.2" width="3" height="4.8" fill="#d9d4b6"/>
<rect x="93.0" y="118.6" width="3" height="4.8" fill="#d9d4b6"/>
<rect x="96.5" y="127.2" width="3" height="4.8" fill="#d9d4b6"/>
<polyline points="24,133.2 104,133.2 104,117" fill="none" stroke="#7fa7c4" stroke-width="1.1"/>
<path d="M60,117 Q66,110 74,108" fill="none" stroke="#5f8fa8" stroke-width="0.8"/>
<path d="M67,117 Q73,110 81,108" fill="none" stroke="#5f8fa8" stroke-width="0.8"/>
<path d="M74,117 Q80,110 88,108" fill="none" stroke="#5f8fa8" stroke-width="0.8"/>
<path d="M81,117 Q87,110 95,108" fill="none" stroke="#5f8fa8" stroke-width="0.8"/>
<path d="M88,117 Q94,110 102,108" fill="none" stroke="#5f8fa8" stroke-width="0.8"/>
<path d="M95,117 Q101,110 109,108" fill="none" stroke="#5f8fa8" stroke-width="0.8"/>
<ellipse cx="347" cy="119" rx="15" ry="10" fill="#c3cac4"/>
<ellipse cx="347" cy="119" rx="9" ry="6" fill="#a9b3ad"/>
<rect x="300" y="126.5" width="63" height="6" fill="#b9c6bd" fill-opacity="0.6"/>
</g>
<g clip-path="url(#chipclip)">
<rect x="362.5" y="5" width="310" height="137" fill="url(#chipg)"/>
<line x1="366" y1="6" x2="366" y2="141" stroke="#7a4636" stroke-width="1" stroke-opacity="0.35"/>
<line x1="370" y1="6" x2="370" y2="141" stroke="#7a4636" stroke-width="1" stroke-opacity="0.35"/>
<line x1="374" y1="6" x2="374" y2="141" stroke="#7a4636" stroke-width="1" stroke-opacity="0.35"/>
<line x1="378" y1="6" x2="378" y2="141" stroke="#7a4636" stroke-width="1" stroke-opacity="0.35"/>
<line x1="382" y1="6" x2="382" y2="141" stroke="#7a4636" stroke-width="1" stroke-opacity="0.35"/>
<line x1="386" y1="6" x2="386" y2="141" stroke="#7a4636" stroke-width="1" stroke-opacity="0.35"/>
<line x1="390" y1="6" x2="390" y2="141" stroke="#7a4636" stroke-width="1" stroke-opacity="0.35"/>
<line x1="394" y1="6" x2="394" y2="141" stroke="#7a4636" stroke-width="1" stroke-opacity="0.35"/>
<line x1="398" y1="6" x2="398" y2="141" stroke="#7a4636" stroke-width="1" stroke-opacity="0.35"/>
<line x1="402" y1="6" x2="402" y2="141" stroke="#7a4636" stroke-width="1" stroke-opacity="0.35"/>
<line x1="406" y1="6" x2="406" y2="141" stroke="#7a4636" stroke-width="1" stroke-opacity="0.35"/>
<line x1="410" y1="6" x2="410" y2="141" stroke="#7a4636" stroke-width="1" stroke-opacity="0.35"/>
<line x1="414" y1="6" x2="414" y2="141" stroke="#7a4636" stroke-width="1" stroke-opacity="0.35"/>
<line x1="418" y1="6" x2="418" y2="141" stroke="#7a4636" stroke-width="1" stroke-opacity="0.35"/>
<line x1="422" y1="6" x2="422" y2="141" stroke="#7a4636" stroke-width="1" stroke-opacity="0.35"/>
<line x1="426" y1="6" x2="426" y2="141" stroke="#7a4636" stroke-width="1" stroke-opacity="0.35"/>
<line x1="430" y1="6" x2="430" y2="141" stroke="#7a4636" stroke-width="1" stroke-opacity="0.35"/>
<line x1="434" y1="6" x2="434" y2="141" stroke="#7a4636" stroke-width="1" stroke-opacity="0.35"/>
<line x1="438" y1="6" x2="438" y2="141" stroke="#7a4636" stroke-width="1" stroke-opacity="0.35"/>
<line x1="442" y1="6" x2="442" y2="141" stroke="#7a4636" stroke-width="1" stroke-opacity="0.35"/>
<line x1="446" y1="6" x2="446" y2="141" stroke="#7a4636" stroke-width="1" stroke-opacity="0.35"/>
<line x1="450" y1="6" x2="450" y2="141" stroke="#7a4636" stroke-width="1" stroke-opacity="0.35"/>
<line x1="454" y1="6" x2="454" y2="141" stroke="#7a4636" stroke-width="1" stroke-opacity="0.35"/>
<line x1="458" y1="6" x2="458" y2="141" stroke="#7a4636" stroke-width="1" stroke-opacity="0.35"/>
<line x1="462" y1="6" x2="462" y2="141" stroke="#7a4636" stroke-width="1" stroke-opacity="0.35"/>
<line x1="466" y1="6" x2="466" y2="141" stroke="#7a4636" stroke-width="1" stroke-opacity="0.35"/>
<line x1="470" y1="6" x2="470" y2="141" stroke="#7a4636" stroke-width="1" stroke-opacity="0.35"/>
<line x1="474" y1="6" x2="474" y2="141" stroke="#7a4636" stroke-width="1" stroke-opacity="0.35"/>
<line x1="478" y1="6" x2="478" y2="141" stroke="#7a4636" stroke-width="1" stroke-opacity="0.35"/>
<line x1="482" y1="6" x2="482" y2="141" stroke="#7a4636" stroke-width="1" stroke-opacity="0.35"/>
<line x1="486" y1="6" x2="486" y2="141" stroke="#7a4636" stroke-width="1" stroke-opacity="0.35"/>
<line x1="490" y1="6" x2="490" y2="141" stroke="#7a4636" stroke-width="1" stroke-opacity="0.35"/>
<line x1="494" y1="6" x2="494" y2="141" stroke="#7a4636" stroke-width="1" stroke-opacity="0.35"/>
<line x1="498" y1="6" x2="498" y2="141" stroke="#7a4636" stroke-width="1" stroke-opacity="0.35"/>
<line x1="502" y1="6" x2="502" y2="141" stroke="#7a4636" stroke-width="1" stroke-opacity="0.35"/>
<line x1="506" y1="6" x2="506" y2="141" stroke="#7a4636" stroke-width="1" stroke-opacity="0.35"/>
<line x1="510" y1="6" x2="510" y2="141" stroke="#7a4636" stroke-width="1" stroke-opacity="0.35"/>
<line x1="514" y1="6" x2="514" y2="141" stroke="#7a4636" stroke-width="1" stroke-opacity="0.35"/>
<line x1="518" y1="6" x2="518" y2="141" stroke="#7a4636" stroke-width="1" stroke-opacity="0.35"/>
<line x1="522" y1="6" x2="522" y2="141" stroke="#7a4636" stroke-width="1" stroke-opacity="0.35"/>
<line x1="526" y1="6" x2="526" y2="141" stroke="#7a4636" stroke-width="1" stroke-opacity="0.35"/>
<line x1="530" y1="6" x2="530" y2="141" stroke="#7a4636" stroke-width="1" stroke-opacity="0.35"/>
<line x1="534" y1="6" x2="534" y2="141" stroke="#7a4636" stroke-width="1" stroke-opacity="0.35"/>
<line x1="538" y1="6" x2="538" y2="141" stroke="#7a4636" stroke-width="1" stroke-opacity="0.35"/>
<line x1="542" y1="6" x2="542" y2="141" stroke="#7a4636" stroke-width="1" stroke-opacity="0.35"/>
<line x1="546" y1="6" x2="546" y2="141" stroke="#7a4636" stroke-width="1" stroke-opacity="0.35"/>
<line x1="550" y1="6" x2="550" y2="141" stroke="#7a4636" stroke-width="1" stroke-opacity="0.35"/>
<line x1="554" y1="6" x2="554" y2="141" stroke="#7a4636" stroke-width="1" stroke-opacity="0.35"/>
<line x1="558" y1="6" x2="558" y2="141" stroke="#7a4636" stroke-width="1" stroke-opacity="0.35"/>
<line x1="562" y1="6" x2="562" y2="141" stroke="#7a4636" stroke-width="1" stroke-opacity="0.35"/>
<line x1="566" y1="6" x2="566" y2="141" stroke="#7a4636" stroke-width="1" stroke-opacity="0.35"/>
<line x1="570" y1="6" x2="570" y2="141" stroke="#7a4636" stroke-width="1" stroke-opacity="0.35"/>
<line x1="574" y1="6" x2="574" y2="141" stroke="#7a4636" stroke-width="1" stroke-opacity="0.35"/>
<line x1="578" y1="6" x2="578" y2="141" stroke="#7a4636" stroke-width="1" stroke-opacity="0.35"/>
<line x1="582" y1="6" x2="582" y2="141" stroke="#7a4636" stroke-width="1" stroke-opacity="0.35"/>
<line x1="586" y1="6" x2="586" y2="141" stroke="#7a4636" stroke-width="1" stroke-opacity="0.35"/>
<line x1="590" y1="6" x2="590" y2="141" stroke="#7a4636" stroke-width="1" stroke-opacity="0.35"/>
<line x1="594" y1="6" x2="594" y2="141" stroke="#7a4636" stroke-width="1" stroke-opacity="0.35"/>
<line x1="598" y1="6" x2="598" y2="141" stroke="#7a4636" stroke-width="1" stroke-opacity="0.35"/>
<line x1="602" y1="6" x2="602" y2="141" stroke="#7a4636" stroke-width="1" stroke-opacity="0.35"/>
<line x1="606" y1="6" x2="606" y2="141" stroke="#7a4636" stroke-width="1" stroke-opacity="0.35"/>
<line x1="610" y1="6" x2="610" y2="141" stroke="#7a4636" stroke-width="1" stroke-opacity="0.35"/>
<line x1="614" y1="6" x2="614" y2="141" stroke="#7a4636" stroke-width="1" stroke-opacity="0.35"/>
<line x1="618" y1="6" x2="618" y2="141" stroke="#7a4636" stroke-width="1" stroke-opacity="0.35"/>
<line x1="622" y1="6" x2="622" y2="141" stroke="#7a4636" stroke-width="1" stroke-opacity="0.35"/>
<line x1="626" y1="6" x2="626" y2="141" stroke="#7a4636" stroke-width="1" stroke-opacity="0.35"/>
<line x1="630" y1="6" x2="630" y2="141" stroke="#7a4636" stroke-width="1" stroke-opacity="0.35"/>
<line x1="634" y1="6" x2="634" y2="141" stroke="#7a4636" stroke-width="1" stroke-opacity="0.35"/>
<line x1="638" y1="6" x2="638" y2="141" stroke="#7a4636" stroke-width="1" stroke-opacity="0.35"/>
<line x1="642" y1="6" x2="642" y2="141" stroke="#7a4636" stroke-width="1" stroke-opacity="0.35"/>
<line x1="646" y1="6" x2="646" y2="141" stroke="#7a4636" stroke-width="1" stroke-opacity="0.35"/>
<line x1="650" y1="6" x2="650" y2="141" stroke="#7a4636" stroke-width="1" stroke-opacity="0.35"/>
<line x1="654" y1="6" x2="654" y2="141" stroke="#7a4636" stroke-width="1" stroke-opacity="0.35"/>
<line x1="658" y1="6" x2="658" y2="141" stroke="#7a4636" stroke-width="1" stroke-opacity="0.35"/>
<line x1="662" y1="6" x2="662" y2="141" stroke="#7a4636" stroke-width="1" stroke-opacity="0.35"/>
<line x1="666" y1="6" x2="666" y2="141" stroke="#7a4636" stroke-width="1" stroke-opacity="0.35"/>
<line x1="670" y1="6" x2="670" y2="141" stroke="#7a4636" stroke-width="1" stroke-opacity="0.35"/>
<line x1="674" y1="6" x2="674" y2="141" stroke="#7a4636" stroke-width="1" stroke-opacity="0.35"/>
<rect x="362.5" y="5" width="310" height="1.2" fill="#3d2218"/>
<rect x="362.9" y="5" width="2.5" height="137" fill="#a99c98"/>
<rect x="368.0" y="8.8" width="2.2" height="2" fill="#b07a60"/>
<rect x="373.0" y="8.8" width="2.2" height="2" fill="#b07a60"/>
<rect x="378.0" y="8.8" width="2.2" height="2" fill="#b07a60"/>
<rect x="383.0" y="8.8" width="2.2" height="2" fill="#b07a60"/>
<rect x="388.0" y="8.8" width="2.2" height="2" fill="#b07a60"/>
<rect x="393.0" y="8.8" width="2.2" height="2" fill="#b07a60"/>
<rect x="398.0" y="8.8" width="2.2" height="2" fill="#b07a60"/>
<rect x="403.0" y="8.8" width="2.2" height="2" fill="#b07a60"/>
<rect x="408.0" y="8.8" width="2.2" height="2" fill="#b07a60"/>
<rect x="413.0" y="8.8" width="2.2" height="2" fill="#b07a60"/>
<rect x="418.0" y="8.8" width="2.2" height="2" fill="#b07a60"/>
<rect x="423.0" y="8.8" width="2.2" height="2" fill="#b07a60"/>
<rect x="428.0" y="8.8" width="2.2" height="2" fill="#b07a60"/>
<rect x="433.0" y="8.8" width="2.2" height="2" fill="#b07a60"/>
<rect x="438.0" y="8.8" width="2.2" height="2" fill="#b07a60"/>
<rect x="443.0" y="8.8" width="2.2" height="2" fill="#b07a60"/>
<rect x="448.0" y="8.8" width="2.2" height="2" fill="#b07a60"/>
<rect x="453.0" y="8.8" width="2.2" height="2" fill="#b07a60"/>
<rect x="458.0" y="8.8" width="2.2" height="2" fill="#b07a60"/>
<rect x="463.0" y="8.8" width="2.2" height="2" fill="#b07a60"/>
<rect x="468.0" y="8.8" width="2.2" height="2" fill="#b07a60"/>
<rect x="473.0" y="8.8" width="2.2" height="2" fill="#b07a60"/>
<rect x="478.0" y="8.8" width="2.2" height="2" fill="#b07a60"/>
<rect x="483.0" y="8.8" width="2.2" height="2" fill="#b07a60"/>
<rect x="488.0" y="8.8" width="2.2" height="2" fill="#b07a60"/>
<rect x="493.0" y="8.8" width="2.2" height="2" fill="#b07a60"/>
<rect x="498.0" y="8.8" width="2.2" height="2" fill="#b07a60"/>
<rect x="503.0" y="8.8" width="2.2" height="2" fill="#b07a60"/>
<rect x="508.0" y="8.8" width="2.2" height="2" fill="#b07a60"/>
<rect x="513.0" y="8.8" width="2.2" height="2" fill="#b07a60"/>
<rect x="518.0" y="8.8" width="2.2" height="2" fill="#b07a60"/>
<rect x="523.0" y="8.8" width="2.2" height="2" fill="#b07a60"/>
<rect x="528.0" y="8.8" width="2.2" height="2" fill="#b07a60"/>
<rect x="533.0" y="8.8" width="2.2" height="2" fill="#b07a60"/>
<rect x="538.0" y="8.8" width="2.2" height="2" fill="#b07a60"/>
<rect x="543.0" y="8.8" width="2.2" height="2" fill="#b07a60"/>
<rect x="548.0" y="8.8" width="2.2" height="2" fill="#b07a60"/>
<rect x="553.0" y="8.8" width="2.2" height="2" fill="#b07a60"/>
<rect x="558.0" y="8.8" width="2.2" height="2" fill="#b07a60"/>
<rect x="563.0" y="8.8" width="2.2" height="2" fill="#b07a60"/>
<rect x="568.0" y="8.8" width="2.2" height="2" fill="#b07a60"/>
<rect x="573.0" y="8.8" width="2.2" height="2" fill="#b07a60"/>
<rect x="578.0" y="8.8" width="2.2" height="2" fill="#b07a60"/>
<rect x="583.0" y="8.8" width="2.2" height="2" fill="#b07a60"/>
<rect x="588.0" y="8.8" width="2.2" height="2" fill="#b07a60"/>
<rect x="593.0" y="8.8" width="2.2" height="2" fill="#b07a60"/>
<rect x="598.0" y="8.8" width="2.2" height="2" fill="#b07a60"/>
<rect x="603.0" y="8.8" width="2.2" height="2" fill="#b07a60"/>
<rect x="608.0" y="8.8" width="2.2" height="2" fill="#b07a60"/>
<rect x="613.0" y="8.8" width="2.2" height="2" fill="#b07a60"/>
<rect x="618.0" y="8.8" width="2.2" height="2" fill="#b07a60"/>
<rect x="623.0" y="8.8" width="2.2" height="2" fill="#b07a60"/>
<rect x="628.0" y="8.8" width="2.2" height="2" fill="#b07a60"/>
<rect x="633.0" y="8.8" width="2.2" height="2" fill="#b07a60"/>
<rect x="638.0" y="8.8" width="2.2" height="2" fill="#b07a60"/>
<line x1="369.5" y1="21" x2="600" y2="21" stroke="#b4674a" stroke-width="1.8"/>
<line x1="370.5" y1="21" x2="370.5" y2="141" stroke="#b4674a" stroke-width="1.8"/>
<line x1="372" y1="31.5" x2="600" y2="31.5" stroke="#a45a40" stroke-width="0.8"/>
<line x1="608.2" y1="20" x2="608.2" y2="141" stroke="#a65d44" stroke-width="1.2"/>
<line x1="600" y1="21" x2="608" y2="21" stroke="#b4674a" stroke-width="1.8"/>
<polygon points="536.3,28.5 588.6,28.5 588.6,70 583,84 581.4,100 575,119.5 563.7,137 536.3,137" fill="#a9613f" fill-opacity="0.75"/>
<rect x="537" y="29.0" width="44" height="4" fill="#c98664" fill-opacity="0.55"/>
<rect x="537" y="36.4" width="42" height="4" fill="#c98664" fill-opacity="0.55"/>
<rect x="537" y="43.8" width="40" height="4" fill="#c98664" fill-opacity="0.55"/>
<rect x="537" y="51.2" width="39" height="4" fill="#c98664" fill-opacity="0.55"/>
<rect x="537" y="58.6" width="37" height="4" fill="#c98664" fill-opacity="0.55"/>
<rect x="537" y="66.0" width="35" height="4" fill="#c98664" fill-opacity="0.55"/>
<rect x="537" y="73.4" width="34" height="4" fill="#c98664" fill-opacity="0.55"/>
<rect x="537" y="80.8" width="32" height="4" fill="#c98664" fill-opacity="0.55"/>
<rect x="537" y="88.2" width="44" height="4" fill="#c98664" fill-opacity="0.55"/>
<rect x="537" y="95.6" width="44" height="4" fill="#c98664" fill-opacity="0.55"/>
<rect x="537" y="103.0" width="42" height="4" fill="#c98664" fill-opacity="0.55"/>
<rect x="537" y="110.4" width="40" height="4" fill="#c98664" fill-opacity="0.55"/>
<rect x="537" y="117.8" width="38" height="4" fill="#c98664" fill-opacity="0.55"/>
<rect x="537" y="125.2" width="34" height="4" fill="#c98664" fill-opacity="0.55"/>
<rect x="537" y="132.6" width="28" height="4" fill="#c98664" fill-opacity="0.55"/>
<rect x="383.4" y="37.3" width="28.0" height="4.8" fill="none" stroke="#caa497" stroke-width="0.9"/>
<rect x="389.4" y="36.4" width="16.0" height="1.6" fill="#e8ac18"/>
<line x1="375" y1="39.7" x2="383.4" y2="39.7" stroke="#caa497" stroke-width="0.9"/>
<line x1="411.4" y1="39.7" x2="420" y2="39.7" stroke="#caa497" stroke-width="0.9"/>
<rect x="383.4" y="52.5" width="28.0" height="4.8" fill="none" stroke="#caa497" stroke-width="0.9"/>
<rect x="389.4" y="51.6" width="16.0" height="1.6" fill="#e8ac18"/>
<line x1="375" y1="54.9" x2="383.4" y2="54.9" stroke="#caa497" stroke-width="0.9"/>
<line x1="411.4" y1="54.9" x2="420" y2="54.9" stroke="#caa497" stroke-width="0.9"/>
<rect x="383.4" y="66.8" width="28.0" height="4.8" fill="none" stroke="#caa497" stroke-width="0.9"/>
<rect x="389.4" y="65.9" width="16.0" height="1.6" fill="#e8ac18"/>
<line x1="375" y1="69.2" x2="383.4" y2="69.2" stroke="#caa497" stroke-width="0.9"/>
<line x1="411.4" y1="69.2" x2="420" y2="69.2" stroke="#caa497" stroke-width="0.9"/>
<rect x="383.4" y="81.7" width="28.0" height="4.8" fill="none" stroke="#caa497" stroke-width="0.9"/>
<rect x="389.4" y="80.8" width="16.0" height="1.6" fill="#e8ac18"/>
<line x1="375" y1="84.1" x2="383.4" y2="84.1" stroke="#caa497" stroke-width="0.9"/>
<line x1="411.4" y1="84.1" x2="420" y2="84.1" stroke="#caa497" stroke-width="0.9"/>
<rect x="383.4" y="96.9" width="28.0" height="4.8" fill="none" stroke="#b5694d" stroke-width="0.9"/>
<line x1="375" y1="99.3" x2="383.4" y2="99.3" stroke="#caa497" stroke-width="0.9"/>
<line x1="411.4" y1="99.3" x2="420" y2="99.3" stroke="#caa497" stroke-width="0.9"/>
<rect x="383.4" y="112.1" width="28.0" height="4.8" fill="none" stroke="#b5694d" stroke-width="0.9"/>
<line x1="375" y1="114.5" x2="383.4" y2="114.5" stroke="#caa497" stroke-width="0.9"/>
<line x1="411.4" y1="114.5" x2="420" y2="114.5" stroke="#caa497" stroke-width="0.9"/>
<rect x="383.4" y="126.1" width="28.0" height="4.8" fill="none" stroke="#b5694d" stroke-width="0.9"/>
<line x1="375" y1="128.5" x2="383.4" y2="128.5" stroke="#caa497" stroke-width="0.9"/>
<line x1="411.4" y1="128.5" x2="420" y2="128.5" stroke="#caa497" stroke-width="0.9"/>
<line x1="373" y1="47.3" x2="421" y2="47.3" stroke="#caa497" stroke-width="0.8" stroke-opacity="0.8"/>
<line x1="373" y1="62" x2="421" y2="62" stroke="#caa497" stroke-width="0.8" stroke-opacity="0.8"/>
<line x1="373" y1="76.5" x2="421" y2="76.5" stroke="#caa497" stroke-width="0.8" stroke-opacity="0.8"/>
<line x1="373" y1="91.5" x2="421" y2="91.5" stroke="#caa497" stroke-width="0.8" stroke-opacity="0.8"/>
<line x1="373" y1="106.8" x2="421" y2="106.8" stroke="#caa497" stroke-width="0.8" stroke-opacity="0.8"/>
<line x1="373" y1="121.5" x2="421" y2="121.5" stroke="#caa497" stroke-width="0.8" stroke-opacity="0.8"/>
<line x1="373" y1="40" x2="373" y2="135" stroke="#caa497" stroke-width="0.8" stroke-opacity="0.8"/>
<line x1="421" y1="47" x2="421" y2="122" stroke="#caa497" stroke-width="0.8" stroke-opacity="0.7"/>
<rect x="441.8" y="30.1" width="25.7" height="5.2" fill="none" stroke="#caa497" stroke-width="0.9"/>
<rect x="447.8" y="29.2" width="13.7" height="1.6" fill="#e8ac18"/>
<rect x="441.8" y="45.3" width="25.7" height="5.2" fill="none" stroke="#caa497" stroke-width="0.9"/>
<rect x="447.8" y="44.4" width="13.7" height="1.6" fill="#e8ac18"/>
<rect x="441.8" y="59.3" width="25.7" height="5.2" fill="none" stroke="#caa497" stroke-width="0.9"/>
<rect x="447.8" y="58.4" width="13.7" height="1.6" fill="#e8ac18"/>
<rect x="441.8" y="74.0" width="25.7" height="5.2" fill="none" stroke="#caa497" stroke-width="0.9"/>
<rect x="447.8" y="73.1" width="13.7" height="1.6" fill="#e8ac18"/>
<rect x="441.8" y="89.7" width="25.7" height="5.2" fill="none" stroke="#b5694d" stroke-width="0.9"/>
<rect x="441.8" y="103.7" width="25.7" height="5.2" fill="none" stroke="#b5694d" stroke-width="0.9"/>
<rect x="441.8" y="118.4" width="25.7" height="5.2" fill="none" stroke="#b5694d" stroke-width="0.9"/>
<rect x="441.8" y="132.9" width="25.7" height="5.2" fill="none" stroke="#b5694d" stroke-width="0.9"/>
<path d="M420,39.7 C430,39.7 432,32.7 441.8,32.7" fill="none" stroke="#caa497" stroke-width="0.9"/>
<path d="M420,39.7 C430,39.7 432,47.9 441.8,47.9" fill="none" stroke="#caa497" stroke-width="0.9"/>
<path d="M420,69.2 C430,69.2 432,61.9 441.8,61.9" fill="none" stroke="#caa497" stroke-width="0.9"/>
<path d="M420,69.2 C430,69.2 432,76.6 441.8,76.6" fill="none" stroke="#caa497" stroke-width="0.9"/>
<path d="M420,99.3 C430,99.3 432,92.3 441.8,92.3" fill="none" stroke="#caa497" stroke-width="0.9"/>
<path d="M420,99.3 C430,99.3 432,106.3 441.8,106.3" fill="none" stroke="#caa497" stroke-width="0.9"/>
<path d="M420,128.5 C430,128.5 432,121 441.8,121" fill="none" stroke="#caa497" stroke-width="0.9"/>
<path d="M420,128.5 C430,128.5 432,135.5 441.8,135.5" fill="none" stroke="#caa497" stroke-width="0.9"/>
<path d="M467.5,32.7 C480,32.7 482,29.2 494,29.2" fill="none" stroke="#caa497" stroke-width="0.9"/>
<path d="M467.5,32.7 C480,32.7 482,36.2 494,36.2" fill="none" stroke="#caa497" stroke-width="0.9"/>
<path d="M467.5,47.9 C480,47.9 482,43.7 494,43.7" fill="none" stroke="#caa497" stroke-width="0.9"/>
<path d="M467.5,47.9 C480,47.9 482,50.9 494,50.9" fill="none" stroke="#caa497" stroke-width="0.9"/>
<path d="M467.5,61.9 C480,61.9 482,59.1 494,59.1" fill="none" stroke="#caa497" stroke-width="0.9"/>
<path d="M467.5,61.9 C480,61.9 482,66.1 494,66.1" fill="none" stroke="#caa497" stroke-width="0.9"/>
<path d="M467.5,76.6 C480,76.6 482,73.6 494,73.6" fill="none" stroke="#caa497" stroke-width="0.9"/>
<path d="M467.5,76.6 C480,76.6 482,80.6 494,80.6" fill="none" stroke="#caa497" stroke-width="0.9"/>
<path d="M467.5,92.3 C480,92.3 482,88 494,88" fill="none" stroke="#caa497" stroke-width="0.9"/>
<path d="M467.5,92.3 C480,92.3 482,95.5 494,95.5" fill="none" stroke="#caa497" stroke-width="0.9"/>
<path d="M467.5,106.3 C480,106.3 482,103 494,103" fill="none" stroke="#caa497" stroke-width="0.9"/>
<path d="M467.5,106.3 C480,106.3 482,110.5 494,110.5" fill="none" stroke="#caa497" stroke-width="0.9"/>
<path d="M467.5,121 C480,121 482,118 494,118" fill="none" stroke="#caa497" stroke-width="0.9"/>
<path d="M467.5,121 C480,121 482,125.5 494,125.5" fill="none" stroke="#caa497" stroke-width="0.9"/>
<path d="M467.5,135.5 C480,135.5 482,133 494,133" fill="none" stroke="#caa497" stroke-width="0.9"/>
<path d="M467.5,135.5 C480,135.5 482,140 494,140" fill="none" stroke="#caa497" stroke-width="0.9"/>
<line x1="494" y1="29.2" x2="590" y2="29.2" stroke="#caa497" stroke-width="0.9" stroke-opacity="0.95"/>
<line x1="494" y1="36.2" x2="590" y2="36.2" stroke="#caa497" stroke-width="0.9" stroke-opacity="0.95"/>
<line x1="494" y1="43.7" x2="590" y2="43.7" stroke="#caa497" stroke-width="0.9" stroke-opacity="0.95"/>
<line x1="494" y1="50.9" x2="590" y2="50.9" stroke="#caa497" stroke-width="0.9" stroke-opacity="0.95"/>
<line x1="494" y1="59.1" x2="590" y2="59.1" stroke="#caa497" stroke-width="0.9" stroke-opacity="0.95"/>
<line x1="494" y1="66.1" x2="590" y2="66.1" stroke="#caa497" stroke-width="0.9" stroke-opacity="0.95"/>
<line x1="494" y1="73.6" x2="590" y2="73.6" stroke="#caa497" stroke-width="0.9" stroke-opacity="0.95"/>
<line x1="494" y1="80.6" x2="590" y2="80.6" stroke="#caa497" stroke-width="0.9" stroke-opacity="0.95"/>
<rect x="470" y="86.4" width="120" height="3.2" fill="#a8654a" fill-opacity="0.55"/>
<line x1="494" y1="88" x2="590" y2="88" stroke="#caa497" stroke-width="0.9" stroke-opacity="0.35"/>
<rect x="470" y="93.9" width="120" height="3.2" fill="#a8654a" fill-opacity="0.55"/>
<line x1="494" y1="95.5" x2="590" y2="95.5" stroke="#caa497" stroke-width="0.9" stroke-opacity="0.35"/>
<rect x="470" y="101.4" width="120" height="3.2" fill="#a8654a" fill-opacity="0.55"/>
<line x1="494" y1="103" x2="590" y2="103" stroke="#caa497" stroke-width="0.9" stroke-opacity="0.35"/>
<rect x="470" y="108.9" width="120" height="3.2" fill="#a8654a" fill-opacity="0.55"/>
<line x1="494" y1="110.5" x2="590" y2="110.5" stroke="#caa497" stroke-width="0.9" stroke-opacity="0.35"/>
<rect x="470" y="116.4" width="120" height="3.2" fill="#a8654a" fill-opacity="0.55"/>
<line x1="494" y1="118" x2="590" y2="118" stroke="#caa497" stroke-width="0.9" stroke-opacity="0.35"/>
<rect x="470" y="123.9" width="120" height="3.2" fill="#a8654a" fill-opacity="0.55"/>
<line x1="494" y1="125.5" x2="590" y2="125.5" stroke="#caa497" stroke-width="0.9" stroke-opacity="0.35"/>
<rect x="470" y="131.4" width="120" height="3.2" fill="#a8654a" fill-opacity="0.55"/>
<line x1="494" y1="133" x2="590" y2="133" stroke="#caa497" stroke-width="0.9" stroke-opacity="0.35"/>
<rect x="470" y="138.4" width="120" height="3.2" fill="#a8654a" fill-opacity="0.55"/>
<line x1="494" y1="140" x2="590" y2="140" stroke="#caa497" stroke-width="0.9" stroke-opacity="0.35"/>
<rect x="494.3" y="28.4" width="16.5" height="1.7" fill="#e8ac18"/>
<rect x="494.3" y="35.4" width="16.5" height="1.7" fill="#e8ac18"/>
<rect x="494.3" y="42.9" width="16.5" height="1.7" fill="#e8ac18"/>
<rect x="494.3" y="50.1" width="16.5" height="1.7" fill="#e8ac18"/>
<rect x="494.3" y="58.3" width="16.5" height="1.7" fill="#e8ac18"/>
<rect x="494.3" y="65.3" width="16.5" height="1.7" fill="#e8ac18"/>
<rect x="494.3" y="72.8" width="16.5" height="1.7" fill="#e8ac18"/>
<rect x="494.3" y="79.8" width="16.5" height="1.7" fill="#e8ac18"/>
<rect x="538" y="30.0" width="44.0" height="3" rx="1.5" fill="none" stroke="#e6cfc6" stroke-width="0.7"/>
<rect x="538" y="37.0" width="41.5" height="3" rx="1.5" fill="none" stroke="#e6cfc6" stroke-width="0.7"/>
<rect x="538" y="44.5" width="39.0" height="3" rx="1.5" fill="none" stroke="#e6cfc6" stroke-width="0.7"/>
<rect x="538" y="51.7" width="36.5" height="3" rx="1.5" fill="none" stroke="#e6cfc6" stroke-width="0.7"/>
<rect x="538" y="59.9" width="34.0" height="3" rx="1.5" fill="none" stroke="#e6cfc6" stroke-width="0.7"/>
<rect x="538" y="66.9" width="31.5" height="3" rx="1.5" fill="none" stroke="#e6cfc6" stroke-width="0.7"/>
<rect x="538" y="74.4" width="29.0" height="3" rx="1.5" fill="none" stroke="#e6cfc6" stroke-width="0.7"/>
<rect x="538" y="81.4" width="26.5" height="3" rx="1.5" fill="none" stroke="#e6cfc6" stroke-width="0.7"/>
<rect x="590" y="30.0" width="8" height="4" fill="none" stroke="#caa497" stroke-width="0.7"/>
<rect x="590" y="37.5" width="8" height="4" fill="none" stroke="#caa497" stroke-width="0.7"/>
<rect x="590" y="45.0" width="8" height="4" fill="none" stroke="#caa497" stroke-width="0.7"/>
<rect x="590" y="52.5" width="8" height="4" fill="none" stroke="#caa497" stroke-width="0.7"/>
<rect x="590" y="60.0" width="8" height="4" fill="none" stroke="#caa497" stroke-width="0.7"/>
<rect x="590" y="67.5" width="8" height="4" fill="none" stroke="#caa497" stroke-width="0.7"/>
<rect x="590" y="75.0" width="8" height="4" fill="none" stroke="#caa497" stroke-width="0.7"/>
<rect x="590" y="82.5" width="8" height="4" fill="none" stroke="#caa497" stroke-width="0.7"/>
<rect x="590" y="88.0" width="8" height="5" fill="none" stroke="#caa497" stroke-width="0.6" stroke-opacity="0.6"/>
<rect x="590" y="96.5" width="8" height="5" fill="none" stroke="#caa497" stroke-width="0.6" stroke-opacity="0.6"/>
<rect x="590" y="105.0" width="8" height="5" fill="none" stroke="#caa497" stroke-width="0.6" stroke-opacity="0.6"/>
<rect x="590" y="113.5" width="8" height="5" fill="none" stroke="#caa497" stroke-width="0.6" stroke-opacity="0.6"/>
<rect x="590" y="122.0" width="8" height="5" fill="none" stroke="#caa497" stroke-width="0.6" stroke-opacity="0.6"/>
<rect x="590" y="130.5" width="8" height="5" fill="none" stroke="#caa497" stroke-width="0.6" stroke-opacity="0.6"/>
<line x1="598" y1="84" x2="620" y2="84" stroke="#e0c8c0" stroke-width="1"/>
<line x1="596" y1="39" x2="596" y2="110" stroke="#caa497" stroke-width="0.7"/>
<line x1="609" y1="48.0" x2="641" y2="48.0" stroke="#9a5a44" stroke-width="0.7"/>
<line x1="609" y1="51.7" x2="641" y2="51.7" stroke="#9a5a44" stroke-width="0.7"/>
<line x1="609" y1="55.4" x2="641" y2="55.4" stroke="#9a5a44" stroke-width="0.7"/>
<line x1="609" y1="59.1" x2="641" y2="59.1" stroke="#9a5a44" stroke-width="0.7"/>
<line x1="609" y1="62.8" x2="641" y2="62.8" stroke="#9a5a44" stroke-width="0.7"/>
<line x1="609" y1="66.5" x2="641" y2="66.5" stroke="#9a5a44" stroke-width="0.7"/>
<line x1="609" y1="70.2" x2="641" y2="70.2" stroke="#9a5a44" stroke-width="0.7"/>
<line x1="609" y1="73.9" x2="641" y2="73.9" stroke="#9a5a44" stroke-width="0.7"/>
<line x1="609" y1="77.6" x2="641" y2="77.6" stroke="#9a5a44" stroke-width="0.7"/>
<line x1="609" y1="81.3" x2="641" y2="81.3" stroke="#9a5a44" stroke-width="0.7"/>
<line x1="609" y1="85.0" x2="641" y2="85.0" stroke="#9a5a44" stroke-width="0.7"/>
<line x1="609" y1="88.7" x2="641" y2="88.7" stroke="#9a5a44" stroke-width="0.7"/>
<line x1="609" y1="92.4" x2="641" y2="92.4" stroke="#9a5a44" stroke-width="0.7"/>
<line x1="609" y1="96.1" x2="641" y2="96.1" stroke="#9a5a44" stroke-width="0.7"/>
<line x1="609" y1="99.8" x2="641" y2="99.8" stroke="#9a5a44" stroke-width="0.7"/>
<line x1="609" y1="103.5" x2="641" y2="103.5" stroke="#9a5a44" stroke-width="0.7"/>
<line x1="609" y1="107.2" x2="641" y2="107.2" stroke="#9a5a44" stroke-width="0.7"/>
<line x1="609" y1="110.9" x2="641" y2="110.9" stroke="#9a5a44" stroke-width="0.7"/>
<line x1="609" y1="114.6" x2="641" y2="114.6" stroke="#9a5a44" stroke-width="0.7"/>
<line x1="609" y1="118.3" x2="641" y2="118.3" stroke="#9a5a44" stroke-width="0.7"/>
<line x1="609" y1="122.0" x2="641" y2="122.0" stroke="#9a5a44" stroke-width="0.7"/>
<line x1="609" y1="125.7" x2="641" y2="125.7" stroke="#9a5a44" stroke-width="0.7"/>
<line x1="609" y1="129.4" x2="641" y2="129.4" stroke="#9a5a44" stroke-width="0.7"/>
<line x1="609" y1="133.1" x2="641" y2="133.1" stroke="#9a5a44" stroke-width="0.7"/>
<rect x="626" y="18" width="6" height="14" rx="2" fill="none" stroke="#a66048" stroke-width="1"/>
<rect x="623" y="46" width="8" height="14" rx="2" fill="none" stroke="#a66048" stroke-width="1"/>
<line x1="629" y1="10" x2="629" y2="66" stroke="#a66048" stroke-width="0.9"/>
<rect x="641.7" y="6.5" width="26" height="13" fill="#c47e56"/>
<rect x="641.7" y="28.8" width="26" height="13.6" fill="#c47e56"/>
<rect x="641.7" y="135.7" width="26" height="7" fill="#c47e56"/>
<rect x="641.7" y="6.5" width="26" height="2" fill="#c9a050" fill-opacity="0.7"/>
<rect x="669.6" y="5" width="3" height="137" fill="#4d2c22"/>
</g>
</g>
<line x1="24" y1="5.2" x2="363" y2="5.2" stroke="#e07070" stroke-width="0.8" stroke-dasharray="2.5 2"/>
<line x1="24" y1="141" x2="363" y2="141" stroke="#e05050" stroke-width="1" stroke-dasharray="3 2"/>
<text x="442.9" y="90" font-size="10" fill="#fff">MZI 1</text>
<text x="494.3" y="93.4" font-size="9.6" fill="#fff">PS 1</text>
<text x="625.3" y="122.7" font-size="10.2" fill="#000">400 um</text>
<rect x="626.3" y="128.2" width="33.2" height="2" fill="#000"/>
<text x="0.0" y="7.6" font-size="14" text-anchor="start" fill="#000" font-weight="bold" >a</text>
<text x="0.0" y="182.0" font-size="14" text-anchor="start" fill="#000" font-weight="bold" >b</text>
<text x="397.0" y="182.2" font-size="14" text-anchor="start" fill="#000" font-weight="bold" >d</text>
<text x="0.7" y="386.8" font-size="14" text-anchor="start" fill="#000" font-weight="bold" >c</text>
<text x="397.3" y="386.8" font-size="14" text-anchor="start" fill="#000" font-weight="bold" >e</text>
<text x="0.0" y="593.8" font-size="14" text-anchor="start" fill="#000" font-weight="bold" >f</text>
<text x="358.0" y="593.2" font-size="14" text-anchor="start" fill="#000" font-weight="bold" >g</text>
<defs><clipPath id="cb"><rect x="42.5" y="179" width="338" height="146.5"/></clipPath></defs>
<g clip-path="url(#cb)"><polygon points="42.80,325.60 56.80,325.60 57.30,322.00 57.60,313.00 58.20,306.00 59.20,306.00 59.60,322.00 60.50,325.30 89.90,325.60 90.30,276.00 91.60,276.00 92.00,318.00 94.70,322.00 95.50,325.60 104.00,325.60 106.00,324.60 109.00,325.00 111.70,325.40 115.20,320.60 118.10,308.90 119.90,304.20 121.60,293.70 122.80,283.20 123.40,261.00 124.50,256.40 125.10,279.70 126.30,290.20 128.00,299.60 129.20,312.40 131.00,306.60 133.30,310.00 136.80,311.80 138.50,315.90 141.50,320.60 144.40,314.70 147.30,313.00 150.20,308.30 151.40,310.00 152.00,325.30 153.10,324.70 154.30,297.20 155.50,299.60 156.60,278.50 156.90,208.50 157.60,208.50 158.40,272.70 160.10,280.30 161.90,289.00 163.60,297.20 164.20,311.20 165.40,299.60 166.60,295.50 170.10,290.20 173.00,286.70 177.10,283.20 178.60,278.10 183.10,263.70 186.70,249.30 189.40,229.50 190.30,206.20 191.50,204.40 192.40,225.90 193.90,236.70 195.70,252.90 197.50,255.60 200.20,257.40 203.80,261.00 207.40,265.50 210.90,267.30 213.60,266.40 218.10,267.30 220.80,271.80 222.60,261.90 225.00,263.70 225.40,179.30 226.40,179.30 227.10,265.50 228.90,261.90 231.60,260.10 234.30,262.80 237.90,263.70 243.30,261.90 248.70,256.50 253.60,251.10 256.30,247.50 258.10,233.10 259.30,222.40 260.40,200.80 261.70,202.60 262.60,224.10 264.40,236.70 267.10,251.10 268.90,261.90 271.60,270.90 275.20,278.10 278.80,281.70 282.40,287.00 285.90,293.30 288.60,297.80 289.50,312.20 291.30,294.20 294.00,283.50 296.40,276.30 296.90,219.70 297.60,219.70 298.20,296.00 298.90,324.80 300.30,318.50 303.00,303.20 304.80,300.50 307.50,308.60 312.00,312.20 315.60,312.20 318.50,312.20 320.20,308.20 323.10,306.40 325.40,301.20 326.60,304.70 327.70,310.50 328.60,304.10 330.00,297.80 331.20,287.40 332.10,276.40 332.60,252.10 333.40,252.10 334.10,258.50 334.90,279.90 336.40,289.70 337.50,296.60 339.30,303.00 341.00,308.20 342.70,318.60 345.00,322.00 348.50,325.50 351.00,325.60 352.00,324.60 353.00,325.60 367.60,325.60 369.90,319.10 370.60,277.00 371.40,277.00 371.80,325.60 380.50,325.60" fill="#c43b2c"/>
<defs><linearGradient id="stg" gradientUnits="userSpaceOnUse" x1="0" y1="200" x2="0" y2="326"><stop offset="0" stop-color="#fff" stop-opacity="0.5"/><stop offset="0.65" stop-color="#fff" stop-opacity="0.28"/><stop offset="1" stop-color="#fff" stop-opacity="0.05"/></linearGradient></defs>
<polygon points="111.8,180 114.2,180 113.4,305.7 112.8,305.7" fill="url(#stg)" opacity="0.66"/>
<polygon points="116.1,180 117.9,180 117.7,295.4 117.1,295.4" fill="url(#stg)" opacity="0.83"/>
<polygon points="119.0,180 121.0,180 120.3,323.9 119.7,323.9" fill="url(#stg)" opacity="0.67"/>
<polygon points="125.8,180 128.2,180 126.9,313.5 126.3,313.5" fill="url(#stg)" opacity="0.93"/>
<polygon points="128.5,180 131.5,180 130.6,310.2 130.0,310.2" fill="url(#stg)" opacity="0.84"/>
<polygon points="133.1,180 134.9,180 134.4,317.0 133.8,317.0" fill="url(#stg)" opacity="0.85"/>
<polygon points="138.2,180 139.8,180 139.3,320.1 138.7,320.1" fill="url(#stg)" opacity="0.69"/>
<polygon points="141.5,180 144.5,180 143.8,315.7 143.2,315.7" fill="url(#stg)" opacity="0.87"/>
<polygon points="144.6,180 147.4,180 146.8,307.9 146.2,307.9" fill="url(#stg)" opacity="0.73"/>
<polygon points="148.1,180 149.9,180 149.0,298.9 148.4,298.9" fill="url(#stg)" opacity="0.95"/>
<polygon points="153.9,180 156.1,180 155.1,313.2 154.5,313.2" fill="url(#stg)" opacity="0.98"/>
<polygon points="157.9,180 160.1,180 159.4,305.2 158.8,305.2" fill="url(#stg)" opacity="0.78"/>
<polygon points="160.5,180 163.5,180 162.8,314.8 162.2,314.8" fill="url(#stg)" opacity="0.81"/>
<polygon points="165.4,180 168.6,180 166.9,314.5 166.3,314.5" fill="url(#stg)" opacity="0.94"/>
<polygon points="169.4,180 172.6,180 171.4,321.2 170.8,321.2" fill="url(#stg)" opacity="0.94"/>
<polygon points="175.0,180 177.0,180 176.4,319.1 175.8,319.1" fill="url(#stg)" opacity="0.87"/>
<polygon points="180.1,180 181.9,180 181.9,319.8 181.3,319.8" fill="url(#stg)" opacity="0.68"/>
<polygon points="183.6,180 186.4,180 184.9,306.9 184.3,306.9" fill="url(#stg)" opacity="0.59"/>
<polygon points="186.6,180 189.4,180 187.8,320.3 187.2,320.3" fill="url(#stg)" opacity="0.68"/>
<polygon points="195.2,180 196.8,180 196.1,315.8 195.5,315.8" fill="url(#stg)" opacity="0.83"/>
<polygon points="197.4,180 200.6,180 199.9,309.7 199.3,309.7" fill="url(#stg)" opacity="0.95"/>
<polygon points="202.1,180 203.9,180 202.7,312.4 202.1,312.4" fill="url(#stg)" opacity="0.69"/>
<polygon points="204.9,180 207.1,180 205.9,312.7 205.3,312.7" fill="url(#stg)" opacity="0.64"/>
<polygon points="208.5,180 211.5,180 210.9,304.1 210.3,304.1" fill="url(#stg)" opacity="0.57"/>
<polygon points="212.9,180 215.1,180 214.3,308.4 213.7,308.4" fill="url(#stg)" opacity="0.95"/>
<polygon points="217.7,180 220.3,180 219.4,311.2 218.8,311.2" fill="url(#stg)" opacity="0.84"/>
<polygon points="221.8,180 224.2,180 223.6,307.5 223.0,307.5" fill="url(#stg)" opacity="0.97"/>
<polygon points="228.0,180 230.0,180 229.3,323.4 228.7,323.4" fill="url(#stg)" opacity="0.66"/>
<polygon points="232.2,180 233.8,180 233.4,307.0 232.8,307.0" fill="url(#stg)" opacity="0.80"/>
<polygon points="234.7,180 237.3,180 235.8,313.3 235.2,313.3" fill="url(#stg)" opacity="0.56"/>
<polygon points="238.8,180 241.2,180 240.1,314.7 239.5,314.7" fill="url(#stg)" opacity="0.83"/>
<polygon points="242.6,180 245.4,180 243.8,295.6 243.2,295.6" fill="url(#stg)" opacity="0.87"/>
<polygon points="245.4,180 248.6,180 247.2,302.3 246.6,302.3" fill="url(#stg)" opacity="0.85"/>
<polygon points="249.9,180 252.1,180 251.1,305.6 250.5,305.6" fill="url(#stg)" opacity="0.82"/>
<polygon points="252.7,180 255.3,180 254.2,303.7 253.6,303.7" fill="url(#stg)" opacity="0.72"/>
<polygon points="256.2,180 257.8,180 257.6,311.5 257.0,311.5" fill="url(#stg)" opacity="0.90"/>
<polygon points="265.0,180 267.0,180 266.0,318.3 265.4,318.3" fill="url(#stg)" opacity="0.69"/>
<polygon points="268.9,180 271.1,180 269.8,315.2 269.2,315.2" fill="url(#stg)" opacity="0.63"/>
<polygon points="272.9,180 275.1,180 274.2,319.2 273.6,319.2" fill="url(#stg)" opacity="0.69"/>
<polygon points="276.1,180 277.9,180 277.5,304.8 276.9,304.8" fill="url(#stg)" opacity="0.93"/>
<polygon points="279.8,180 282.2,180 280.8,301.5 280.2,301.5" fill="url(#stg)" opacity="0.95"/>
<polygon points="283.0,180 285.0,180 284.7,318.4 284.1,318.4" fill="url(#stg)" opacity="0.79"/>
<polygon points="286.0,180 288.0,180 287.5,318.4 286.9,318.4" fill="url(#stg)" opacity="0.63"/>
<polygon points="290.9,180 293.1,180 292.1,298.8 291.5,298.8" fill="url(#stg)" opacity="0.91"/>
<polygon points="301.0,180 303.0,180 302.2,305.0 301.6,305.0" fill="url(#stg)" opacity="0.91"/>
<polygon points="304.9,180 307.1,180 305.9,321.7 305.3,321.7" fill="url(#stg)" opacity="0.74"/>
<polygon points="308.4,180 311.6,180 310.9,320.5 310.3,320.5" fill="url(#stg)" opacity="0.55"/>
<polygon points="312.4,180 315.6,180 314.0,321.9 313.4,321.9" fill="url(#stg)" opacity="0.75"/>
<polygon points="315.5,180 318.5,180 317.3,314.2 316.7,314.2" fill="url(#stg)" opacity="0.89"/>
<polygon points="317.9,180 320.1,180 318.8,301.6 318.2,301.6" fill="url(#stg)" opacity="0.68"/>
<polygon points="321.0,180 323.0,180 321.8,318.5 321.2,318.5" fill="url(#stg)" opacity="0.81"/>
<polygon points="323.6,180 326.4,180 325.8,321.8 325.2,321.8" fill="url(#stg)" opacity="0.96"/>
<polygon points="327.7,180 330.3,180 329.6,295.4 329.0,295.4" fill="url(#stg)" opacity="0.95"/>
<polygon points="335.0,180 337.0,180 336.3,314.2 335.7,314.2" fill="url(#stg)" opacity="0.63"/>
<polygon points="337.4,180 340.6,180 339.1,312.8 338.5,312.8" fill="url(#stg)" opacity="0.74"/>
<polygon points="341.5,180 344.5,180 343.6,308.8 343.0,308.8" fill="url(#stg)" opacity="0.66"/>
<rect x="90.2" y="275.5" width="1.5" height="43" fill="#fff" fill-opacity="0.3"/>
<rect x="225.3" y="179" width="1.2" height="84" fill="#fff" fill-opacity="0.22"/>
<polygon points="190.8,325.6 191.5,319 192.2,325.6" fill="#fff"/>
<polygon points="225.4,325.6 226.1,320 226.79999999999998,325.6" fill="#fff"/>
<polygon points="260.3,325.6 261,314 261.7,325.6" fill="#fff"/>
<polygon points="297.90000000000003,325.6 298.6,318 299.3,325.6" fill="#fff"/>
</g>
<line x1="172.5" y1="179.5" x2="172.5" y2="325.5" stroke="#000" stroke-width="1" stroke-dasharray="2 1.6"/>
<line x1="211.5" y1="179.5" x2="211.5" y2="325.5" stroke="#000" stroke-width="1" stroke-dasharray="2 1.6"/>
<line x1="42.5" y1="179.5" x2="42.5" y2="325.5" stroke="#9c9c9c" stroke-width="1"/>
<line x1="42.5" y1="325.5" x2="380.5" y2="325.5" stroke="#d2d2d2" stroke-width="1"/>
<line x1="42.5" y1="179.5" x2="380.5" y2="179.5" stroke="#d2d2d2" stroke-width="1"/>
<line x1="380.5" y1="179.5" x2="380.5" y2="325.5" stroke="#9c9c9c" stroke-width="1"/>
<line x1="42.8" y1="325.5" x2="42.8" y2="322.5" stroke="#999" stroke-width="0.8"/>
<line x1="42.8" y1="179.5" x2="42.8" y2="182.5" stroke="#999" stroke-width="0.8"/>
<text x="42.8" y="338.6" font-size="10" text-anchor="middle" fill="#111" stroke="#111" stroke-width="0.22" >1500</text>
<line x1="94.8" y1="325.5" x2="94.8" y2="322.5" stroke="#999" stroke-width="0.8"/>
<line x1="94.8" y1="179.5" x2="94.8" y2="182.5" stroke="#999" stroke-width="0.8"/>
<text x="94.8" y="338.6" font-size="10" text-anchor="middle" fill="#111" stroke="#111" stroke-width="0.22" >1520</text>
<line x1="146.8" y1="325.5" x2="146.8" y2="322.5" stroke="#999" stroke-width="0.8"/>
<line x1="146.8" y1="179.5" x2="146.8" y2="182.5" stroke="#999" stroke-width="0.8"/>
<text x="146.8" y="338.6" font-size="10" text-anchor="middle" fill="#111" stroke="#111" stroke-width="0.22" >1540</text>
<line x1="198.8" y1="325.5" x2="198.8" y2="322.5" stroke="#999" stroke-width="0.8"/>
<line x1="198.8" y1="179.5" x2="198.8" y2="182.5" stroke="#999" stroke-width="0.8"/>
<text x="198.8" y="338.6" font-size="10" text-anchor="middle" fill="#111" stroke="#111" stroke-width="0.22" >1560</text>
<line x1="250.8" y1="325.5" x2="250.8" y2="322.5" stroke="#999" stroke-width="0.8"/>
<line x1="250.8" y1="179.5" x2="250.8" y2="182.5" stroke="#999" stroke-width="0.8"/>
<text x="250.8" y="338.6" font-size="10" text-anchor="middle" fill="#111" stroke="#111" stroke-width="0.22" >1580</text>
<line x1="302.8" y1="325.5" x2="302.8" y2="322.5" stroke="#999" stroke-width="0.8"/>
<line x1="302.8" y1="179.5" x2="302.8" y2="182.5" stroke="#999" stroke-width="0.8"/>
<text x="302.8" y="338.6" font-size="10" text-anchor="middle" fill="#111" stroke="#111" stroke-width="0.22" >1600</text>
<line x1="354.8" y1="325.5" x2="354.8" y2="322.5" stroke="#999" stroke-width="0.8"/>
<line x1="354.8" y1="179.5" x2="354.8" y2="182.5" stroke="#999" stroke-width="0.8"/>
<text x="354.8" y="338.6" font-size="10" text-anchor="middle" fill="#111" stroke="#111" stroke-width="0.22" >1620</text>
<line x1="42.5" y1="179.2" x2="45.5" y2="179.2" stroke="#999" stroke-width="0.8"/>
<line x1="380.5" y1="179.2" x2="377.5" y2="179.2" stroke="#999" stroke-width="0.8"/>
<text x="37.5" y="183.8" font-size="10" text-anchor="end" fill="#111" stroke="#111" stroke-width="0.22" >0</text>
<line x1="42.5" y1="226.4" x2="45.5" y2="226.4" stroke="#999" stroke-width="0.8"/>
<line x1="380.5" y1="226.4" x2="377.5" y2="226.4" stroke="#999" stroke-width="0.8"/>
<text x="37.5" y="231.0" font-size="10" text-anchor="end" fill="#111" stroke="#111" stroke-width="0.22" >−20</text>
<line x1="42.5" y1="273.6" x2="45.5" y2="273.6" stroke="#999" stroke-width="0.8"/>
<line x1="380.5" y1="273.6" x2="377.5" y2="273.6" stroke="#999" stroke-width="0.8"/>
<text x="37.5" y="278.2" font-size="10" text-anchor="end" fill="#111" stroke="#111" stroke-width="0.22" >−40</text>
<line x1="42.5" y1="320.8" x2="45.5" y2="320.8" stroke="#999" stroke-width="0.8"/>
<line x1="380.5" y1="320.8" x2="377.5" y2="320.8" stroke="#999" stroke-width="0.8"/>
<text x="37.5" y="325.4" font-size="10" text-anchor="end" fill="#111" stroke="#111" stroke-width="0.22" >−60</text>
<text x="227.0" y="192.8" font-size="10.2" text-anchor="start" fill="#111" stroke="#111" stroke-width="0.22" >Repetition frequency ~50 GHz</text>
<text x="211.4" y="355.0" font-size="10" text-anchor="middle" fill="#111" stroke="#111" stroke-width="0.22" >Wavelength (nm)</text>
<text class="v" x="0" y="0" font-size="10" text-anchor="middle" fill="#000" stroke="#000" stroke-width="0.22" transform="translate(8.7,252.3) rotate(-90)">Power (dBm)</text>
<defs><clipPath id="cc"><rect x="42.5" y="387" width="338" height="146.3"/></clipPath></defs>
<polyline clip-path="url(#cc)" points="42.00,540.00 42.25,540.00 42.50,540.00 42.75,540.00 42.85,540.00 42.95,540.00 43.05,540.00 43.15,540.00 43.25,540.00 43.35,540.00 43.45,540.00 43.55,540.00 43.65,540.00 43.75,540.00 43.85,540.00 43.95,540.00 44.05,540.00 44.15,540.00 44.25,540.00 44.35,540.00 44.45,540.00 44.55,540.00 44.59,539.83 44.63,538.42 44.67,536.99 44.71,535.53 44.75,534.03 44.79,532.50 44.83,530.94 44.87,529.34 44.91,527.69 44.95,525.99 44.99,524.25 45.03,522.44 45.07,520.57 45.11,518.62 45.15,516.59 45.19,514.45 45.23,512.20 45.27,509.80 45.31,507.22 45.35,504.40 45.39,501.24 45.43,497.54 45.47,492.75 45.50,485.20 45.51,489.19 45.55,495.35 45.59,499.48 45.63,502.87 45.67,505.85 45.71,508.54 45.75,511.02 45.79,513.34 45.83,515.53 45.87,517.61 45.91,519.60 45.95,521.51 45.99,523.35 46.03,525.13 46.07,526.85 46.11,528.52 46.15,530.14 46.19,531.73 46.23,533.27 46.27,534.78 46.31,536.26 46.35,537.71 46.39,539.13 46.43,540.00 46.47,540.00 46.51,540.00 46.61,540.00 46.71,540.00 46.81,540.00 46.91,540.00 47.01,540.00 47.11,540.00 47.21,540.00 47.31,540.00 47.41,540.00 47.51,540.00 47.61,540.00 47.71,540.00 47.81,540.00 47.91,540.00 48.01,540.00 48.11,540.00 48.21,540.00 48.31,540.00 48.41,540.00 48.51,540.00 48.76,540.00 49.01,540.00 49.26,540.00 49.51,540.00 49.76,540.00 50.01,540.00 50.26,540.00 50.51,540.00 50.76,540.00 51.01,540.00 51.26,540.00 51.51,540.00 51.76,540.00 52.01,540.00 52.26,540.00 52.51,540.00 52.61,540.00 52.71,540.00 52.81,540.00 52.91,540.00 53.01,540.00 53.11,540.00 53.21,540.00 53.31,540.00 53.41,540.00 53.51,540.00 53.61,540.00 53.71,540.00 53.81,540.00 53.91,540.00 54.01,540.00 54.11,540.00 54.21,540.00 54.31,540.00 54.41,539.76 54.45,538.35 54.49,536.92 54.53,535.45 54.57,533.96 54.61,532.43 54.65,530.86 54.69,529.25 54.73,527.60 54.77,525.91 54.81,524.16 54.85,522.35 54.89,520.47 54.93,518.52 54.97,516.48 55.01,514.34 55.05,512.08 55.09,509.68 55.13,507.09 55.17,504.25 55.21,501.07 55.25,497.33 55.29,492.45 55.32,485.20 55.33,489.64 55.37,495.59 55.41,499.66 55.45,503.03 55.49,505.99 55.53,508.67 55.57,511.14 55.61,513.46 55.65,515.64 55.69,517.72 55.73,519.70 55.77,521.60 55.81,523.44 55.85,525.21 55.89,526.93 55.93,528.60 55.97,530.22 56.01,531.81 56.05,533.35 56.09,534.86 56.13,536.33 56.17,537.78 56.21,539.20 56.25,540.00 56.29,540.00 56.33,540.00 56.43,540.00 56.53,540.00 56.63,540.00 56.73,540.00 56.83,540.00 56.93,540.00 57.03,540.00 57.13,540.00 57.23,540.00 57.33,540.00 57.43,540.00 57.53,540.00 57.63,540.00 57.73,540.00 57.83,540.00 57.93,540.00 58.03,540.00 58.13,540.00 58.23,540.00 58.33,540.00 58.58,540.00 58.83,540.00 59.08,540.00 59.33,540.00 59.58,540.00 59.83,540.00 60.08,540.00 60.33,540.00 60.58,540.00 60.83,540.00 61.08,540.00 61.33,540.00 61.58,540.00 61.83,540.00 62.08,540.00 62.33,540.00 62.43,540.00 62.53,540.00 62.63,540.00 62.73,540.00 62.83,540.00 62.93,540.00 63.03,540.00 63.13,540.00 63.23,540.00 63.33,540.00 63.43,540.00 63.53,540.00 63.63,540.00 63.73,540.00 63.83,540.00 63.93,540.00 64.03,540.00 64.13,540.00 64.23,537.79 64.27,536.38 64.31,534.94 64.35,533.48 64.39,531.98 64.43,530.45 64.47,528.88 64.51,527.27 64.55,525.62 64.59,523.92 64.63,522.17 64.67,520.35 64.71,518.47 64.75,516.52 64.79,514.48 64.83,512.33 64.87,510.07 64.91,507.65 64.95,505.05 64.99,502.20 65.03,499.00 65.07,495.23 65.11,490.25 65.14,483.30 65.15,488.15 65.19,493.92 65.23,497.94 65.27,501.28 65.31,504.23 65.35,506.89 65.39,509.36 65.43,511.67 65.47,513.85 65.51,515.92 65.55,517.90 65.59,519.80 65.63,521.63 65.67,523.40 65.71,525.12 65.75,526.78 65.79,528.40 65.83,529.98 65.87,531.53 65.91,533.03 65.95,534.51 65.99,535.95 66.03,537.37 66.07,538.76 66.11,540.00 66.15,540.00 66.25,540.00 66.35,540.00 66.45,540.00 66.55,540.00 66.65,540.00 66.75,540.00 66.85,540.00 66.95,540.00 67.05,540.00 67.15,540.00 67.25,540.00 67.35,540.00 67.45,540.00 67.55,540.00 67.65,540.00 67.75,540.00 67.85,540.00 67.95,540.00 68.05,540.00 68.15,540.00 68.40,540.00 68.65,540.00 68.90,540.00 69.15,540.00 69.40,540.00 69.65,540.00 69.90,540.00 70.15,540.00 70.40,540.00 70.65,540.00 70.90,540.00 71.15,540.00 71.40,540.00 71.65,540.00 71.90,540.00 72.15,540.00 72.25,540.00 72.35,540.00 72.45,540.00 72.55,540.00 72.65,540.00 72.75,540.00 72.85,540.00 72.95,540.00 73.05,540.00 73.15,540.00 73.25,540.00 73.35,540.00 73.45,540.00 73.55,540.00 73.65,540.00 73.75,540.00 73.85,540.00 73.95,540.00 74.05,538.42 74.09,537.01 74.13,535.57 74.17,534.10 74.21,532.61 74.25,531.07 74.29,529.50 74.33,527.89 74.37,526.24 74.41,524.53 74.45,522.78 74.49,520.96 74.53,519.08 74.57,517.12 74.61,515.07 74.65,512.92 74.69,510.65 74.73,508.23 74.77,505.62 74.81,502.75 74.85,499.53 74.89,495.72 74.93,490.63 74.95,484.00 74.97,489.24 75.01,494.84 75.05,498.82 75.09,502.14 75.13,505.07 75.17,507.72 75.21,510.18 75.25,512.48 75.29,514.65 75.33,516.72 75.37,518.69 75.41,520.59 75.45,522.42 75.49,524.19 75.53,525.90 75.57,527.56 75.61,529.18 75.65,530.76 75.69,532.30 75.73,533.81 75.77,535.28 75.81,536.72 75.85,538.14 75.89,539.53 75.93,540.00 75.97,540.00 76.07,540.00 76.17,540.00 76.27,540.00 76.37,540.00 76.47,540.00 76.57,540.00 76.67,540.00 76.77,540.00 76.87,540.00 76.97,540.00 77.07,540.00 77.17,540.00 77.27,540.00 77.37,540.00 77.47,540.00 77.57,540.00 77.67,540.00 77.77,540.00 77.87,540.00 77.97,540.00 78.22,540.00 78.47,540.00 78.72,540.00 78.97,540.00 79.22,540.00 79.47,540.00 79.72,540.00 79.97,540.00 80.22,540.00 80.47,540.00 80.72,540.00 80.97,540.00 81.22,540.00 81.47,540.00 81.72,540.00 81.97,540.00 82.07,540.00 82.17,540.00 82.27,540.00 82.37,540.00 82.47,540.00 82.57,540.00 82.67,540.00 82.77,540.00 82.87,540.00 82.97,540.00 83.07,540.00 83.17,540.00 83.27,540.00 83.37,540.00 83.47,540.00 83.57,540.00 83.67,540.00 83.77,538.57 83.87,535.15 83.91,533.74 83.95,532.30 83.99,530.83 84.03,529.33 84.07,527.79 84.11,526.22 84.15,524.61 84.19,522.95 84.23,521.25 84.27,519.49 84.31,517.67 84.35,515.78 84.39,513.82 84.43,511.77 84.47,509.61 84.51,507.33 84.55,504.90 84.59,502.28 84.63,499.40 84.67,496.15 84.71,492.30 84.75,487.11 84.77,480.80 84.79,486.41 84.83,491.87 84.87,495.80 84.91,499.09 84.95,502.00 84.99,504.65 85.03,507.10 85.07,509.39 85.11,511.56 85.15,513.62 85.19,515.59 85.23,517.48 85.27,519.31 85.31,521.07 85.35,522.78 85.39,524.45 85.43,526.06 85.47,527.64 85.51,529.18 85.55,530.68 85.59,532.15 85.63,533.60 85.67,535.01 85.71,536.40 85.75,537.76 85.79,539.10 85.89,540.00 85.99,540.00 86.09,540.00 86.19,540.00 86.29,540.00 86.39,540.00 86.49,540.00 86.59,540.00 86.69,540.00 86.79,540.00 86.89,540.00 86.99,540.00 87.09,540.00 87.19,540.00 87.29,540.00 87.39,540.00 87.49,540.00 87.59,540.00 87.69,540.00 87.79,540.00 88.04,540.00 88.29,540.00 88.54,540.00 88.79,540.00 89.04,540.00 89.29,540.00 89.54,540.00 89.79,540.00 90.04,540.00 90.29,540.00 90.54,540.00 90.79,540.00 91.04,540.00 91.29,540.00 91.54,540.00 91.79,540.00 91.89,540.00 91.99,540.00 92.09,540.00 92.19,540.00 92.29,540.00 92.39,540.00 92.49,540.00 92.59,540.00 92.69,540.00 92.79,540.00 92.89,540.00 92.99,540.00 93.09,540.00 93.19,540.00 93.29,540.00 93.39,540.00 93.49,540.00 93.59,537.50 93.63,536.15 93.67,534.78 93.71,533.38 93.75,531.95 93.79,530.50 93.83,529.01 93.87,527.49 93.91,525.94 93.95,524.34 93.99,522.70 94.03,521.02 94.07,519.29 94.11,517.50 94.15,515.64 94.19,513.71 94.23,511.70 94.27,509.60 94.31,507.38 94.35,505.02 94.39,502.49 94.43,499.73 94.47,496.67 94.51,493.13 94.55,488.72 94.59,479.80 94.59,479.80 94.63,488.72 94.67,493.13 94.71,496.67 94.75,499.73 94.79,502.49 94.83,505.02 94.87,507.38 94.91,509.60 94.95,511.70 94.99,513.71 95.03,515.64 95.07,517.50 95.11,519.29 95.15,521.02 95.19,522.70 95.23,524.34 95.27,525.93 95.31,527.49 95.35,529.01 95.39,530.50 95.43,531.95 95.47,533.38 95.51,534.78 95.55,536.15 95.59,537.50 95.69,540.00 95.79,540.00 95.89,540.00 95.99,540.00 96.09,540.00 96.19,540.00 96.29,540.00 96.39,540.00 96.49,540.00 96.59,540.00 96.69,540.00 96.79,540.00 96.89,540.00 96.99,540.00 97.09,540.00 97.19,540.00 97.29,540.00 97.39,540.00 97.49,540.00 97.59,540.00 97.84,540.00 98.09,540.00 98.34,540.00 98.59,540.00 98.84,540.00 99.09,540.00 99.34,540.00 99.59,540.00 99.84,540.00 100.09,540.00 100.34,540.00 100.59,540.00 100.84,540.00 101.09,540.00 101.34,540.00 101.59,540.00 101.69,540.00 101.79,540.00 101.89,540.00 101.99,540.00 102.09,540.00 102.19,540.00 102.29,540.00 102.39,540.00 102.49,540.00 102.59,540.00 102.69,540.00 102.79,540.00 102.89,540.00 102.99,540.00 103.09,540.00 103.19,540.00 103.29,537.56 103.39,534.30 103.49,530.91 103.53,529.51 103.57,528.08 103.61,526.62 103.65,525.13 103.69,523.61 103.73,522.06 103.77,520.46 103.81,518.82 103.85,517.14 103.89,515.40 103.93,513.60 103.97,511.75 104.01,509.81 104.05,507.80 104.09,505.69 104.13,503.46 104.17,501.10 104.21,498.55 104.25,495.79 104.29,492.71 104.33,489.14 104.37,484.66 104.41,476.00 104.41,477.57 104.45,485.18 104.49,489.53 104.53,493.03 104.57,496.08 104.61,498.82 104.65,501.34 104.69,503.69 104.73,505.90 104.77,508.01 104.81,510.01 104.85,511.94 104.89,513.79 104.93,515.58 104.97,517.31 105.01,518.99 105.05,520.62 105.09,522.21 105.13,523.77 105.17,525.28 105.21,526.77 105.25,528.22 105.29,529.65 105.33,531.05 105.37,532.42 105.41,533.77 105.51,537.04 105.61,540.00 105.71,540.00 105.81,540.00 105.91,540.00 106.01,540.00 106.11,540.00 106.21,540.00 106.31,540.00 106.41,540.00 106.51,540.00 106.61,540.00 106.71,540.00 106.81,540.00 106.91,540.00 107.01,540.00 107.11,540.00 107.21,540.00 107.31,540.00 107.41,540.00 107.66,540.00 107.91,540.00 108.16,540.00 108.41,540.00 108.66,540.00 108.91,540.00 109.16,540.00 109.41,540.00 109.66,540.00 109.91,540.00 110.16,540.00 110.41,540.00 110.66,540.00 110.91,540.00 111.16,540.00 111.41,540.00 111.51,540.00 111.61,540.00 111.71,540.00 111.81,540.00 111.91,540.00 112.01,540.00 112.11,540.00 112.21,540.00 112.31,540.00 112.41,540.00 112.51,540.00 112.61,540.00 112.71,540.00 112.81,540.00 112.91,540.00 113.01,537.43 113.11,534.29 113.21,531.03 113.31,527.64 113.35,526.24 113.39,524.81 113.43,523.35 113.47,521.86 113.51,520.34 113.55,518.78 113.59,517.18 113.63,515.54 113.67,513.85 113.71,512.11 113.75,510.31 113.79,508.45 113.83,506.52 113.87,504.50 113.91,502.38 113.95,500.15 113.99,497.77 114.03,495.22 114.07,492.44 114.11,489.34 114.15,485.74 114.19,481.19 114.23,472.80 114.23,475.15 114.27,482.23 114.31,486.52 114.35,489.99 114.39,493.02 114.43,495.75 114.47,498.26 114.51,500.60 114.55,502.81 114.59,504.91 114.63,506.91 114.67,508.83 114.71,510.68 114.75,512.46 114.79,514.19 114.83,515.87 114.87,517.50 114.91,519.09 114.95,520.64 114.99,522.16 115.03,523.64 115.07,525.09 115.11,526.52 115.15,527.91 115.19,529.29 115.23,530.63 115.33,533.91 115.43,537.06 115.53,540.00 115.63,540.00 115.73,540.00 115.83,540.00 115.93,540.00 116.03,540.00 116.13,540.00 116.23,540.00 116.33,540.00 116.43,540.00 116.53,540.00 116.63,540.00 116.73,540.00 116.83,540.00 116.93,540.00 117.03,540.00 117.13,540.00 117.23,540.00 117.48,540.00 117.73,540.00 117.98,540.00 118.23,540.00 118.48,540.00 118.73,540.00 118.98,540.00 119.23,540.00 119.48,540.00 119.73,540.00 119.98,540.00 120.23,540.00 120.48,540.00 120.73,540.00 120.98,540.00 121.23,540.00 121.33,540.00 121.43,540.00 121.53,540.00 121.63,540.00 121.73,540.00 121.83,540.00 121.93,540.00 122.03,540.00 122.13,540.00 122.23,540.00 122.33,540.00 122.43,540.00 122.53,540.00 122.63,539.54 122.73,536.60 122.83,533.57 122.93,530.43 123.03,527.17 123.13,523.77 123.17,522.36 123.21,520.93 123.25,519.47 123.29,517.98 123.33,516.46 123.37,514.90 123.41,513.30 123.45,511.66 123.49,509.96 123.53,508.22 123.57,506.42 123.61,504.56 123.65,502.62 123.69,500.59 123.73,498.47 123.77,496.23 123.81,493.85 123.85,491.29 123.89,488.50 123.93,485.37 123.97,481.74 124.01,477.12 124.04,469.00 124.05,471.97 124.09,478.67 124.13,482.91 124.17,486.35 124.21,489.36 124.25,492.08 124.29,494.58 124.33,496.92 124.37,499.12 124.41,501.21 124.45,503.21 124.49,505.12 124.53,506.97 124.57,508.75 124.61,510.48 124.65,512.15 124.69,513.78 124.73,515.37 124.77,516.92 124.81,518.43 124.85,519.92 124.89,521.37 124.93,522.79 124.97,524.18 125.01,525.55 125.05,526.90 125.15,530.17 125.25,533.32 125.35,536.36 125.45,539.31 125.55,540.00 125.65,540.00 125.75,540.00 125.85,540.00 125.95,540.00 126.05,540.00 126.15,540.00 126.25,540.00 126.35,540.00 126.45,540.00 126.55,540.00 126.65,540.00 126.75,540.00 126.85,540.00 126.95,540.00 127.05,540.00 127.30,540.00 127.55,540.00 127.80,540.00 128.05,540.00 128.30,540.00 128.55,540.00 128.80,540.00 129.05,540.00 129.30,540.00 129.55,540.00 129.80,540.00 130.05,540.00 130.30,540.00 130.55,540.00 130.80,540.00 131.05,540.00 131.15,540.00 131.25,540.00 131.35,540.00 131.45,540.00 131.55,540.00 131.65,540.00 131.75,540.00 131.85,540.00 131.95,540.00 132.05,540.00 132.15,540.00 132.25,540.00 132.35,539.54 132.45,536.68 132.55,533.74 132.65,530.71 132.75,527.56 132.85,524.30 132.95,520.90 132.99,519.49 133.03,518.06 133.07,516.60 133.11,515.11 133.15,513.58 133.19,512.02 133.23,510.42 133.27,508.77 133.31,507.08 133.35,505.33 133.39,503.53 133.43,501.66 133.47,499.72 133.51,497.69 133.55,495.56 133.59,493.32 133.63,490.93 133.67,488.36 133.71,485.55 133.75,482.41 133.79,478.74 133.83,474.04 133.86,466.20 133.87,469.71 133.91,476.12 133.95,480.29 133.99,483.71 134.03,486.70 134.07,489.41 134.11,491.90 134.15,494.23 134.19,496.43 134.23,498.51 134.27,500.51 134.31,502.42 134.35,504.26 134.39,506.04 134.43,507.76 134.47,509.44 134.51,511.06 134.55,512.65 134.59,514.20 134.63,515.71 134.67,517.19 134.71,518.64 134.75,520.06 134.79,521.45 134.83,522.82 134.87,524.17 134.97,527.44 135.07,530.58 135.17,533.62 135.27,536.57 135.37,539.42 135.47,540.00 135.57,540.00 135.67,540.00 135.77,540.00 135.87,540.00 135.97,540.00 136.07,540.00 136.17,540.00 136.27,540.00 136.37,540.00 136.47,540.00 136.57,540.00 136.67,540.00 136.77,540.00 136.87,540.00 137.12,540.00 137.37,540.00 137.62,540.00 137.87,540.00 138.12,540.00 138.37,540.00 138.62,540.00 138.87,540.00 139.12,540.00 139.37,540.00 139.62,540.00 139.87,540.00 140.12,540.00 140.37,540.00 140.62,540.00 140.87,540.00 140.97,540.00 141.07,540.00 141.17,540.00 141.27,540.00 141.37,540.00 141.47,540.00 141.57,540.00 141.67,540.00 141.77,540.00 141.87,540.00 141.97,540.00 142.07,537.76 142.17,534.98 142.27,532.12 142.37,529.18 142.47,526.15 142.57,523.00 142.67,519.73 142.77,516.33 142.81,514.92 142.85,513.49 142.89,512.03 142.93,510.53 142.97,509.00 143.01,507.44 143.05,505.84 143.09,504.19 143.13,502.49 143.17,500.75 143.21,498.94 143.25,497.07 143.29,495.12 143.33,493.09 143.37,490.95 143.41,488.70 143.45,486.30 143.49,483.72 143.53,480.90 143.57,477.74 143.61,474.04 143.65,469.25 143.68,461.70 143.69,465.69 143.73,471.85 143.77,475.98 143.81,479.37 143.85,482.35 143.89,485.04 143.93,487.52 143.97,489.84 144.01,492.03 144.05,494.11 144.09,496.10 144.13,498.01 144.17,499.85 144.21,501.63 144.25,503.35 144.29,505.02 144.33,506.64 144.37,508.23 144.41,509.77 144.45,511.28 144.49,512.76 144.53,514.21 144.57,515.63 144.61,517.02 144.65,518.39 144.69,519.73 144.79,523.00 144.89,526.14 144.99,529.18 145.09,532.12 145.19,534.98 145.29,537.75 145.39,540.00 145.49,540.00 145.59,540.00 145.69,540.00 145.79,540.00 145.89,540.00 145.99,540.00 146.09,540.00 146.19,540.00 146.29,540.00 146.39,540.00 146.49,540.00 146.59,540.00 146.69,540.00 146.94,540.00 147.19,540.00 147.44,540.00 147.69,540.00 147.94,540.00 148.19,540.00 148.44,540.00 148.69,540.00 148.94,540.00 149.19,540.00 149.44,540.00 149.69,540.00 149.94,540.00 150.19,540.00 150.44,540.00 150.69,540.00 150.79,540.00 150.89,540.00 150.99,540.00 151.09,540.00 151.19,540.00 151.29,540.00 151.39,540.00 151.49,540.00 151.59,538.93 151.69,536.35 151.79,533.71 151.89,531.00 151.99,528.22 152.09,525.37 152.19,522.42 152.29,519.38 152.39,516.24 152.49,512.97 152.59,509.56 152.63,508.15 152.67,506.72 152.71,505.25 152.75,503.76 152.79,502.23 152.83,500.66 152.87,499.05 152.91,497.40 152.95,495.71 152.99,493.96 153.03,492.15 153.07,490.27 153.11,488.32 153.15,486.28 153.19,484.14 153.23,481.88 153.27,479.48 153.31,476.89 153.35,474.05 153.39,470.87 153.43,467.13 153.47,462.25 153.50,455.00 153.51,459.44 153.55,465.39 153.59,469.46 153.63,472.83 153.67,475.79 153.71,478.47 153.75,480.94 153.79,483.26 153.83,485.44 153.87,487.52 153.91,489.50 153.95,491.40 153.99,493.24 154.03,495.01 154.07,496.73 154.11,498.40 154.15,500.02 154.19,501.61 154.23,503.15 154.27,504.66 154.31,506.13 154.35,507.58 154.39,509.00 154.43,510.39 154.47,511.76 154.51,513.10 154.61,516.36 154.71,519.51 154.81,522.54 154.91,525.48 155.01,528.33 155.11,531.11 155.21,533.81 155.31,536.45 155.41,539.03 155.51,540.00 155.61,540.00 155.71,540.00 155.81,540.00 155.91,540.00 156.01,540.00 156.11,540.00 156.21,540.00 156.31,540.00 156.41,540.00 156.51,540.00 156.76,540.00 157.01,540.00 157.26,540.00 157.51,540.00 157.76,540.00 158.01,540.00 158.26,540.00 158.51,540.00 158.76,540.00 159.01,540.00 159.26,540.00 159.51,540.00 159.76,540.00 160.01,540.00 160.26,540.00 160.51,540.00 160.61,540.00 160.71,540.00 160.81,540.00 160.91,540.00 161.01,540.00 161.11,540.00 161.21,539.77 161.31,537.30 161.41,534.78 161.51,532.20 161.61,529.55 161.71,526.85 161.81,524.07 161.91,521.21 162.01,518.26 162.11,515.22 162.21,512.07 162.31,508.80 162.41,505.39 162.45,503.98 162.49,502.54 162.53,501.08 162.57,499.58 162.61,498.05 162.65,496.48 162.69,494.87 162.73,493.22 162.77,491.52 162.81,489.77 162.85,487.95 162.89,486.07 162.93,484.12 162.97,482.08 163.01,479.93 163.05,477.67 163.09,475.25 163.13,472.65 163.17,469.80 163.21,466.60 163.25,462.83 163.29,457.85 163.32,450.90 163.33,455.75 163.37,461.52 163.41,465.54 163.45,468.88 163.49,471.83 163.53,474.49 163.57,476.96 163.61,479.27 163.65,481.45 163.69,483.52 163.73,485.50 163.77,487.40 163.81,489.23 163.85,491.00 163.89,492.72 163.93,494.38 163.97,496.00 164.01,497.58 164.05,499.13 164.09,500.63 164.13,502.11 164.17,503.55 164.21,504.97 164.25,506.36 164.29,507.72 164.33,509.07 164.43,512.33 164.53,515.47 164.63,518.50 164.73,521.44 164.83,524.29 164.93,527.06 165.03,529.77 165.13,532.40 165.23,534.98 165.33,537.50 165.43,539.96 165.53,540.00 165.63,540.00 165.73,540.00 165.83,540.00 165.93,540.00 166.03,540.00 166.13,540.00 166.23,540.00 166.33,540.00 166.58,540.00 166.83,540.00 167.08,540.00 167.33,540.00 167.58,540.00 167.83,540.00 168.08,540.00 168.33,540.00 168.58,540.00 168.83,540.00 169.08,540.00 169.33,540.00 169.58,540.00 169.83,540.00 170.08,540.00 170.33,540.00 170.43,540.00 170.53,540.00 170.63,540.00 170.73,540.00 170.83,539.62 170.93,537.25 171.03,534.82 171.13,532.35 171.23,529.83 171.33,527.24 171.43,524.60 171.53,521.89 171.63,519.11 171.73,516.25 171.83,513.30 171.93,510.26 172.03,507.11 172.13,503.83 172.23,500.42 172.27,499.01 172.31,497.57 172.35,496.10 172.39,494.61 172.43,493.07 172.47,491.50 172.51,489.89 172.55,488.24 172.59,486.53 172.63,484.78 172.67,482.96 172.71,481.08 172.75,479.12 172.79,477.07 172.83,474.92 172.87,472.65 172.91,470.23 172.95,467.62 172.99,464.75 173.03,461.53 173.07,457.72 173.11,452.63 173.13,446.00 173.15,451.24 173.19,456.84 173.23,460.82 173.27,464.14 173.31,467.07 173.35,469.72 173.39,472.18 173.43,474.48 173.47,476.65 173.51,478.72 173.55,480.69 173.59,482.59 173.63,484.42 173.67,486.19 173.71,487.90 173.75,489.56 173.79,491.18 173.83,492.76 173.87,494.30 173.91,495.81 173.95,497.28 173.99,498.72 174.03,500.14 174.07,501.53 174.11,502.89 174.15,504.23 174.25,507.49 174.35,510.63 174.45,513.66 174.55,516.60 174.65,519.45 174.75,522.22 174.85,524.92 174.95,527.55 175.05,530.13 175.15,532.65 175.25,535.11 175.35,537.53 175.45,539.90 175.55,540.00 175.65,540.00 175.75,540.00 175.85,540.00 175.95,540.00 176.05,540.00 176.15,540.00 176.40,540.00 176.65,540.00 176.90,540.00 177.15,540.00 177.40,540.00 177.65,540.00 177.90,540.00 178.15,540.00 178.40,540.00 178.65,540.00 178.90,540.00 179.15,540.00 179.40,540.00 179.65,540.00 179.90,540.00 180.15,540.00 180.25,540.00 180.35,540.00 180.45,538.51 180.55,536.21 180.65,533.88 180.75,531.50 180.85,529.07 180.95,526.60 181.05,524.07 181.15,521.49 181.25,518.85 181.35,516.14 181.45,513.35 181.55,510.49 181.65,507.54 181.75,504.50 181.85,501.34 181.95,498.07 182.05,494.65 182.09,493.24 182.13,491.80 182.17,490.33 182.21,488.83 182.25,487.29 182.29,485.72 182.33,484.11 182.37,482.45 182.41,480.75 182.45,478.99 182.49,477.17 182.53,475.28 182.57,473.32 182.61,471.27 182.65,469.11 182.69,466.83 182.73,464.40 182.77,461.78 182.81,458.90 182.85,455.65 182.89,451.80 182.93,446.61 182.95,440.30 182.97,445.91 183.01,451.37 183.05,455.30 183.09,458.59 183.13,461.50 183.17,464.15 183.21,466.60 183.25,468.89 183.29,471.06 183.33,473.12 183.37,475.09 183.41,476.98 183.45,478.81 183.49,480.57 183.53,482.28 183.57,483.95 183.61,485.56 183.65,487.14 183.69,488.68 183.73,490.18 183.77,491.65 183.81,493.10 183.85,494.51 183.89,495.90 183.93,497.26 183.97,498.60 184.07,501.86 184.17,504.99 184.27,508.02 184.37,510.95 184.47,513.80 184.57,516.57 184.67,519.27 184.77,521.91 184.87,524.48 184.97,527.00 185.07,529.46 185.17,531.87 185.27,534.24 185.37,536.57 185.47,538.85 185.57,540.00 185.67,540.00 185.77,540.00 185.87,540.00 185.97,540.00 186.22,540.00 186.47,540.00 186.72,540.00 186.97,540.00 187.22,540.00 187.47,540.00 187.72,540.00 187.97,540.00 188.22,540.00 188.47,540.00 188.72,540.00 188.97,540.00 189.22,540.00 189.47,540.00 189.72,540.00 189.97,536.32 190.07,534.14 190.17,531.92 190.27,529.66 190.37,527.37 190.47,525.03 190.57,522.65 190.67,520.23 190.77,517.75 190.87,515.22 190.97,512.64 191.07,509.99 191.17,507.28 191.27,504.50 191.37,501.63 191.47,498.68 191.57,495.64 191.67,492.48 191.77,489.20 191.87,485.78 191.91,484.37 191.95,482.93 191.99,481.46 192.03,479.95 192.07,478.42 192.11,476.84 192.15,475.23 192.19,473.57 192.23,471.86 192.27,470.10 192.31,468.28 192.35,466.39 192.39,464.42 192.43,462.36 192.47,460.20 192.51,457.92 192.55,455.48 192.59,452.84 192.63,449.95 192.67,446.68 192.71,442.79 192.75,437.47 192.77,431.50 192.79,437.47 192.83,442.79 192.87,446.68 192.91,449.95 192.95,452.84 192.99,455.48 193.03,457.92 193.07,460.20 193.11,462.36 193.15,464.42 193.19,466.39 193.23,468.28 193.27,470.10 193.31,471.86 193.35,473.57 193.39,475.23 193.43,476.84 193.47,478.42 193.51,479.95 193.55,481.46 193.59,482.93 193.63,484.37 193.67,485.78 193.71,487.17 193.75,488.53 193.79,489.87 193.89,493.12 193.99,496.25 194.09,499.28 194.19,502.21 194.29,505.06 194.39,507.83 194.49,510.52 194.59,513.16 194.69,515.73 194.79,518.24 194.89,520.70 194.99,523.12 195.09,525.48 195.19,527.80 195.29,530.08 195.39,532.31 195.49,534.51 195.59,536.66 195.69,538.77 195.79,540.00 196.04,540.00 196.29,540.00 196.54,540.00 196.79,540.00 197.04,540.00 197.29,540.00 197.54,540.00 197.79,540.00 198.04,540.00 198.29,540.00 198.54,540.00 198.79,540.00 199.04,537.77 199.29,532.83 199.54,527.71 199.79,522.38 199.89,520.20 199.99,517.98 200.09,515.72 200.19,513.42 200.29,511.09 200.39,508.70 200.49,506.28 200.59,503.80 200.69,501.27 200.79,498.69 200.89,496.04 200.99,493.33 201.09,490.54 201.19,487.68 201.29,484.72 201.39,481.67 201.49,478.51 201.59,475.23 201.63,473.88 201.67,472.51 201.71,471.11 201.75,469.68 201.79,468.22 201.83,466.73 201.87,465.21 201.91,463.66 201.95,462.06 201.99,460.42 202.03,458.74 202.07,457.00 202.11,455.20 202.15,453.35 202.19,451.41 202.23,449.40 202.27,447.29 202.31,445.06 202.35,442.70 202.39,440.15 202.43,437.39 202.47,434.31 202.51,430.74 202.55,426.26 202.59,417.60 202.59,419.17 202.63,426.78 202.67,431.13 202.71,434.63 202.75,437.68 202.79,440.42 202.83,442.94 202.87,445.29 202.91,447.50 202.95,449.61 202.99,451.61 203.03,453.54 203.07,455.39 203.11,457.18 203.15,458.91 203.19,460.59 203.23,462.22 203.27,463.81 203.31,465.37 203.35,466.88 203.39,468.37 203.43,469.82 203.47,471.25 203.51,472.64 203.55,474.02 203.59,475.37 203.69,478.64 203.79,481.80 203.89,484.84 203.99,487.79 204.09,490.65 204.19,493.43 204.29,496.14 204.39,498.78 204.49,501.36 204.59,503.88 204.69,506.34 204.79,508.75 204.89,511.11 204.99,513.43 205.09,515.69 205.19,517.91 205.29,520.07 205.39,522.19 205.49,524.24 205.59,526.24 205.84,530.90 206.09,534.92 206.34,538.02 206.59,539.82 206.84,540.00 207.09,538.87 207.34,536.42 207.59,533.11 207.84,529.27 208.09,525.07 208.34,520.62 208.59,515.99 208.84,511.19 209.09,506.23 209.34,501.10 209.59,495.78 209.69,493.60 209.79,491.38 209.89,489.13 209.99,486.84 210.09,484.51 210.19,482.14 210.29,479.72 210.39,477.25 210.49,474.73 210.59,472.16 210.69,469.52 210.79,466.82 210.89,464.05 210.99,461.20 211.09,458.26 211.19,455.23 211.29,452.09 211.39,448.83 211.49,445.44 211.53,444.04 211.57,442.61 211.61,441.15 211.65,439.66 211.69,438.14 211.73,436.58 211.77,434.98 211.81,433.34 211.85,431.65 211.89,429.91 211.93,428.11 211.97,426.25 212.01,424.32 212.05,422.30 212.09,420.18 212.13,417.95 212.17,415.57 212.21,413.02 212.25,410.24 212.29,407.14 212.33,403.54 212.37,398.99 212.41,390.60 212.41,392.95 212.45,400.03 212.49,404.32 212.53,407.79 212.57,410.82 212.61,413.55 212.65,416.06 212.69,418.40 212.73,420.61 212.77,422.71 212.81,424.71 212.85,426.63 212.89,428.48 212.93,430.26 212.97,431.99 213.01,433.67 213.05,435.30 213.09,436.89 213.13,438.44 213.17,439.96 213.21,441.44 213.25,442.89 213.29,444.32 213.33,445.71 213.37,447.09 213.41,448.43 213.51,451.71 213.61,454.86 213.71,457.90 213.81,460.85 213.91,463.71 214.01,466.49 214.11,469.20 214.21,471.84 214.31,474.42 214.41,476.95 214.51,479.42 214.61,481.84 214.71,484.22 214.81,486.55 214.91,488.84 215.01,491.09 215.11,493.31 215.21,495.48 215.31,497.62 215.41,499.73 215.66,504.83 215.91,509.68 216.16,514.23 216.41,518.35 216.66,521.83 216.91,524.34 217.16,525.54 217.41,525.22 217.66,523.44 217.91,520.52 218.16,516.79 218.41,512.55 218.66,507.95 218.91,503.09 219.16,498.01 219.41,492.72 219.51,490.54 219.61,488.33 219.71,486.08 219.81,483.79 219.91,481.46 220.01,479.09 220.11,476.67 220.21,474.20 220.31,471.68 220.41,469.10 220.51,466.47 220.61,463.77 220.71,460.99 220.81,458.14 220.91,455.20 221.01,452.17 221.11,449.03 221.21,445.77 221.31,442.37 221.35,440.96 221.39,439.53 221.43,438.07 221.47,436.58 221.51,435.06 221.55,433.50 221.59,431.90 221.63,430.26 221.67,428.56 221.71,426.82 221.75,425.02 221.79,423.16 221.83,421.22 221.87,419.19 221.91,417.07 221.95,414.83 221.99,412.45 222.03,409.89 222.07,407.10 222.11,403.97 222.15,400.34 222.19,395.72 222.22,387.60 222.23,390.57 222.27,397.27 222.31,401.51 222.35,404.95 222.39,407.96 222.43,410.68 222.47,413.18 222.51,415.52 222.55,417.72 222.59,419.81 222.63,421.81 222.67,423.72 222.71,425.57 222.75,427.35 222.79,429.08 222.83,430.75 222.87,432.38 222.91,433.97 222.95,435.52 222.99,437.03 223.03,438.52 223.07,439.97 223.11,441.39 223.15,442.78 223.19,444.15 223.23,445.50 223.33,448.77 223.43,451.92 223.53,454.96 223.63,457.91 223.73,460.77 223.83,463.55 223.93,466.25 224.03,468.90 224.13,471.48 224.23,474.00 224.33,476.47 224.43,478.90 224.53,481.28 224.63,483.61 224.73,485.91 224.83,488.16 224.93,490.38 225.03,492.57 225.13,494.72 225.23,496.84 225.48,502.01 225.73,507.01 225.98,511.85 226.23,516.52 226.48,521.01 226.73,525.27 226.98,529.20 227.23,532.62 227.48,535.26 227.73,536.74 227.98,536.76 228.23,535.23 228.48,532.35 228.73,528.48 228.98,523.92 229.23,518.91 229.33,516.80 229.43,514.63 229.53,512.42 229.63,510.16 229.73,507.85 229.83,505.49 229.93,503.09 230.03,500.63 230.13,498.11 230.23,495.54 230.33,492.90 230.43,490.20 230.53,487.43 230.63,484.58 230.73,481.64 230.83,478.61 230.93,475.46 231.03,472.20 231.13,468.80 231.17,467.39 231.21,465.96 231.25,464.50 231.29,463.01 231.33,461.48 231.37,459.92 231.41,458.32 231.45,456.67 231.49,454.98 231.53,453.23 231.57,451.43 231.61,449.56 231.65,447.62 231.69,445.59 231.73,443.46 231.77,441.22 231.81,438.83 231.85,436.26 231.89,433.45 231.93,430.31 231.97,426.64 232.01,421.94 232.04,414.10 232.05,417.61 232.09,424.02 232.13,428.19 232.17,431.61 232.21,434.60 232.25,437.31 232.29,439.80 232.33,442.13 232.37,444.33 232.41,446.41 232.45,448.41 232.49,450.32 232.53,452.16 232.57,453.94 232.61,455.66 232.65,457.34 232.69,458.96 232.73,460.55 232.77,462.10 232.81,463.61 232.85,465.09 232.89,466.54 232.93,467.96 232.97,469.35 233.01,470.72 233.05,472.07 233.15,475.34 233.25,478.48 233.35,481.52 233.45,484.47 233.55,487.32 233.65,490.10 233.75,492.81 233.85,495.45 233.95,498.03 234.05,500.55 234.15,503.02 234.25,505.44 234.35,507.82 234.45,510.15 234.55,512.45 234.65,514.70 234.75,516.92 234.85,519.10 234.95,521.25 235.05,523.36 235.30,528.52 235.55,533.48 235.80,538.25 236.05,540.00 236.30,540.00 236.55,540.00 236.80,540.00 237.05,540.00 237.30,540.00 237.55,540.00 237.80,540.00 238.05,540.00 238.30,540.00 238.55,540.00 238.80,536.19 239.05,530.97 239.15,528.80 239.25,526.60 239.35,524.36 239.45,522.08 239.55,519.75 239.65,517.38 239.75,514.96 239.85,512.49 239.95,509.97 240.05,507.40 240.15,504.76 240.25,502.05 240.35,499.28 240.45,496.42 240.55,493.48 240.65,490.44 240.75,487.30 240.85,484.03 240.95,480.63 240.99,479.22 241.03,477.79 241.07,476.33 241.11,474.83 241.15,473.30 241.19,471.74 241.23,470.14 241.27,468.49 241.31,466.79 241.35,465.05 241.39,463.24 241.43,461.37 241.47,459.42 241.51,457.39 241.55,455.25 241.59,453.00 241.63,450.60 241.67,448.02 241.71,445.20 241.75,442.04 241.79,438.34 241.83,433.55 241.86,426.00 241.87,429.99 241.91,436.15 241.95,440.28 241.99,443.67 242.03,446.65 242.07,449.34 242.11,451.82 242.15,454.14 242.19,456.33 242.23,458.41 242.27,460.40 242.31,462.31 242.35,464.15 242.39,465.93 242.43,467.65 242.47,469.32 242.51,470.94 242.55,472.53 242.59,474.07 242.63,475.58 242.67,477.06 242.71,478.51 242.75,479.93 242.79,481.32 242.83,482.69 242.87,484.03 242.97,487.30 243.07,490.45 243.17,493.48 243.27,496.42 243.37,499.28 243.47,502.06 243.57,504.76 243.67,507.40 243.77,509.98 243.87,512.50 243.97,514.97 244.07,517.39 244.17,519.77 244.27,522.10 244.37,524.39 244.47,526.64 244.57,528.86 244.67,531.04 244.77,533.19 244.87,535.30 245.12,540.00 245.37,540.00 245.62,540.00 245.87,540.00 246.12,540.00 246.37,540.00 246.62,540.00 246.87,540.00 247.12,540.00 247.37,540.00 247.62,540.00 247.87,540.00 248.12,540.00 248.37,540.00 248.62,540.00 248.87,539.74 248.97,537.57 249.07,535.37 249.17,533.12 249.27,530.84 249.37,528.51 249.47,526.14 249.57,523.72 249.67,521.25 249.77,518.72 249.87,516.15 249.97,513.51 250.07,510.80 250.17,508.02 250.27,505.17 250.37,502.22 250.47,499.18 250.57,496.04 250.67,492.77 250.77,489.36 250.81,487.95 250.85,486.52 250.89,485.05 250.93,483.56 250.97,482.03 251.01,480.46 251.05,478.85 251.09,477.20 251.13,475.51 251.17,473.76 251.21,471.95 251.25,470.07 251.29,468.12 251.33,466.08 251.37,463.94 251.41,461.68 251.45,459.28 251.49,456.69 251.53,453.85 251.57,450.67 251.61,446.93 251.65,442.05 251.68,434.80 251.69,439.24 251.73,445.19 251.77,449.26 251.81,452.63 251.85,455.59 251.89,458.27 251.93,460.74 251.97,463.06 252.01,465.24 252.05,467.32 252.09,469.30 252.13,471.20 252.17,473.04 252.21,474.81 252.25,476.53 252.29,478.20 252.33,479.82 252.37,481.41 252.41,482.95 252.45,484.46 252.49,485.93 252.53,487.38 252.57,488.80 252.61,490.19 252.65,491.56 252.69,492.90 252.79,496.16 252.89,499.31 252.99,502.34 253.09,505.28 253.19,508.14 253.29,510.91 253.39,513.61 253.49,516.25 253.59,518.83 253.69,521.35 253.79,523.82 253.89,526.24 253.99,528.61 254.09,530.94 254.19,533.23 254.29,535.49 254.39,537.70 254.49,539.88 254.59,540.00 254.69,540.00 254.94,540.00 255.19,540.00 255.44,540.00 255.69,540.00 255.94,540.00 256.19,540.00 256.44,540.00 256.69,540.00 256.94,540.00 257.19,540.00 257.44,540.00 257.69,540.00 257.94,540.00 258.19,540.00 258.44,540.00 258.69,540.00 258.79,540.00 258.89,540.00 258.99,540.00 259.09,537.89 259.19,535.56 259.29,533.19 259.39,530.77 259.49,528.30 259.59,525.77 259.69,523.19 259.79,520.55 259.89,517.84 259.99,515.07 260.09,512.21 260.19,509.26 260.29,506.22 260.39,503.07 260.49,499.80 260.59,496.39 260.63,494.98 260.67,493.54 260.71,492.08 260.75,490.58 260.79,489.05 260.83,487.48 260.87,485.87 260.91,484.22 260.95,482.52 260.99,480.77 261.03,478.95 261.07,477.07 261.11,475.12 261.15,473.08 261.19,470.93 261.23,468.67 261.27,466.25 261.31,463.65 261.35,460.80 261.39,457.60 261.43,453.83 261.47,448.85 261.50,441.90 261.51,446.75 261.55,452.52 261.59,456.54 261.63,459.88 261.67,462.83 261.71,465.49 261.75,467.96 261.79,470.27 261.83,472.45 261.87,474.52 261.91,476.50 261.95,478.40 261.99,480.23 262.03,482.00 262.07,483.72 262.11,485.38 262.15,487.00 262.19,488.58 262.23,490.13 262.27,491.63 262.31,493.11 262.35,494.55 262.39,495.97 262.43,497.36 262.47,498.72 262.51,500.07 262.61,503.33 262.71,506.47 262.81,509.50 262.91,512.44 263.01,515.29 263.11,518.07 263.21,520.77 263.31,523.40 263.41,525.98 263.51,528.50 263.61,530.97 263.71,533.39 263.81,535.76 263.91,538.09 264.01,540.00 264.11,540.00 264.21,540.00 264.31,540.00 264.41,540.00 264.51,540.00 264.76,540.00 265.01,540.00 265.26,540.00 265.51,540.00 265.76,540.00 266.01,540.00 266.26,540.00 266.51,540.00 266.76,540.00 267.01,540.00 267.26,540.00 267.51,540.00 267.76,540.00 268.01,540.00 268.26,540.00 268.51,540.00 268.61,540.00 268.71,540.00 268.81,540.00 268.91,540.00 269.01,540.00 269.11,540.00 269.21,537.92 269.31,535.45 269.41,532.92 269.51,530.34 269.61,527.70 269.71,524.99 269.81,522.21 269.91,519.35 270.01,516.40 270.11,513.36 270.21,510.21 270.31,506.93 270.41,503.52 270.45,502.11 270.49,500.67 270.53,499.20 270.57,497.71 270.61,496.17 270.65,494.60 270.69,492.99 270.73,491.34 270.77,489.63 270.81,487.88 270.85,486.06 270.89,484.18 270.93,482.22 270.97,480.17 271.01,478.02 271.05,475.75 271.09,473.33 271.13,470.72 271.17,467.85 271.21,464.63 271.25,460.82 271.29,455.73 271.31,449.10 271.33,454.34 271.37,459.94 271.41,463.92 271.45,467.24 271.49,470.17 271.53,472.82 271.57,475.28 271.61,477.58 271.65,479.75 271.69,481.82 271.73,483.79 271.77,485.69 271.81,487.52 271.85,489.29 271.89,491.00 271.93,492.66 271.97,494.28 272.01,495.86 272.05,497.40 272.09,498.91 272.13,500.38 272.17,501.82 272.21,503.24 272.25,504.63 272.29,505.99 272.33,507.33 272.43,510.59 272.53,513.73 272.63,516.76 272.73,519.70 272.83,522.55 272.93,525.32 273.03,528.02 273.13,530.66 273.23,533.23 273.33,535.75 273.43,538.22 273.53,540.00 273.63,540.00 273.73,540.00 273.83,540.00 273.93,540.00 274.03,540.00 274.13,540.00 274.23,540.00 274.33,540.00 274.58,540.00 274.83,540.00 275.08,540.00 275.33,540.00 275.58,540.00 275.83,540.00 276.08,540.00 276.33,540.00 276.58,540.00 276.83,540.00 277.08,540.00 277.33,540.00 277.58,540.00 277.83,540.00 278.08,540.00 278.33,540.00 278.43,540.00 278.53,540.00 278.63,540.00 278.73,540.00 278.83,540.00 278.93,540.00 279.03,538.97 279.13,536.50 279.23,533.97 279.33,531.39 279.43,528.75 279.53,526.04 279.63,523.25 279.73,520.39 279.83,517.44 279.93,514.40 280.03,511.24 280.13,507.97 280.23,504.55 280.27,503.14 280.31,501.70 280.35,500.23 280.39,498.73 280.43,497.19 280.47,495.62 280.51,494.01 280.55,492.35 280.59,490.65 280.63,488.89 280.67,487.07 280.71,485.18 280.75,483.22 280.79,481.17 280.83,479.01 280.87,476.73 280.91,474.30 280.95,471.68 280.99,468.80 281.03,465.55 281.07,461.70 281.11,456.51 281.13,450.20 281.15,455.81 281.19,461.27 281.23,465.20 281.27,468.49 281.31,471.40 281.35,474.05 281.39,476.50 281.43,478.79 281.47,480.96 281.51,483.02 281.55,484.99 281.59,486.88 281.63,488.71 281.67,490.47 281.71,492.18 281.75,493.85 281.79,495.46 281.83,497.04 281.87,498.58 281.91,500.08 281.95,501.55 281.99,503.00 282.03,504.41 282.07,505.80 282.11,507.16 282.15,508.50 282.25,511.76 282.35,514.89 282.45,517.92 282.55,520.86 282.65,523.70 282.75,526.47 282.85,529.17 282.95,531.81 283.05,534.38 283.15,536.90 283.25,539.36 283.35,540.00 283.45,540.00 283.55,540.00 283.65,540.00 283.75,540.00 283.85,540.00 283.95,540.00 284.05,540.00 284.15,540.00 284.40,540.00 284.65,540.00 284.90,540.00 285.15,540.00 285.40,540.00 285.65,540.00 285.90,540.00 286.15,540.00 286.40,540.00 286.65,540.00 286.90,540.00 287.15,540.00 287.40,540.00 287.65,540.00 287.90,540.00 288.15,540.00 288.25,540.00 288.35,540.00 288.45,540.00 288.55,540.00 288.65,540.00 288.75,540.00 288.85,537.82 288.95,535.35 289.05,532.82 289.15,530.24 289.25,527.59 289.35,524.88 289.45,522.10 289.55,519.23 289.65,516.28 289.75,513.24 289.85,510.08 289.95,506.80 290.05,503.38 290.09,501.97 290.13,500.53 290.17,499.06 290.21,497.55 290.25,496.02 290.29,494.44 290.33,492.83 290.37,491.17 290.41,489.46 290.45,487.70 290.49,485.88 290.53,483.99 290.57,482.02 290.61,479.96 290.65,477.80 290.69,475.52 290.73,473.08 290.77,470.44 290.81,467.55 290.85,464.28 290.89,460.39 290.93,455.07 290.95,449.10 290.97,455.07 291.01,460.39 291.05,464.28 291.09,467.55 291.13,470.44 291.17,473.08 291.21,475.52 291.25,477.80 291.29,479.96 291.33,482.02 291.37,483.99 291.41,485.88 291.45,487.70 291.49,489.46 291.53,491.17 291.57,492.83 291.61,494.44 291.65,496.02 291.69,497.55 291.73,499.06 291.77,500.53 291.81,501.97 291.85,503.38 291.89,504.77 291.93,506.13 291.97,507.47 292.07,510.72 292.17,513.85 292.27,516.88 292.37,519.81 292.47,522.66 292.57,525.43 292.67,528.13 292.77,530.76 292.87,533.33 292.97,535.85 293.07,538.31 293.17,540.00 293.27,540.00 293.37,540.00 293.47,540.00 293.57,540.00 293.67,540.00 293.77,540.00 293.87,540.00 293.97,540.00 294.22,540.00 294.47,540.00 294.72,540.00 294.97,540.00 295.22,540.00 295.47,540.00 295.72,540.00 295.97,540.00 296.22,540.00 296.47,540.00 296.72,540.00 296.97,540.00 297.22,540.00 297.47,540.00 297.72,540.00 297.97,540.00 298.07,540.00 298.17,540.00 298.27,540.00 298.37,540.00 298.47,540.00 298.57,540.00 298.67,539.47 298.77,537.00 298.87,534.47 298.97,531.89 299.07,529.24 299.17,526.53 299.27,523.74 299.37,520.88 299.47,517.92 299.57,514.87 299.67,511.71 299.77,508.43 299.81,507.08 299.85,505.71 299.89,504.31 299.93,502.88 299.97,501.42 300.01,499.93 300.05,498.41 300.09,496.86 300.13,495.26 300.17,493.62 300.21,491.94 300.25,490.20 300.29,488.40 300.33,486.55 300.37,484.61 300.41,482.60 300.45,480.49 300.49,478.26 300.53,475.90 300.57,473.35 300.61,470.59 300.65,467.51 300.69,463.94 300.73,459.46 300.77,450.80 300.77,452.37 300.81,459.98 300.85,464.33 300.89,467.83 300.93,470.88 300.97,473.62 301.01,476.14 301.05,478.49 301.09,480.70 301.13,482.81 301.17,484.81 301.21,486.74 301.25,488.59 301.29,490.38 301.33,492.11 301.37,493.79 301.41,495.42 301.45,497.01 301.49,498.57 301.53,500.08 301.57,501.57 301.61,503.02 301.65,504.45 301.69,505.85 301.73,507.22 301.77,508.57 301.87,511.84 301.97,515.00 302.07,518.04 302.17,520.99 302.27,523.85 302.37,526.64 302.47,529.35 302.57,531.99 302.67,534.57 302.77,537.10 302.87,539.57 302.97,540.00 303.07,540.00 303.17,540.00 303.27,540.00 303.37,540.00 303.47,540.00 303.57,540.00 303.67,540.00 303.77,540.00 304.02,540.00 304.27,540.00 304.52,540.00 304.77,540.00 305.02,540.00 305.27,540.00 305.52,540.00 305.77,540.00 306.02,540.00 306.27,540.00 306.52,540.00 306.77,540.00 307.02,540.00 307.27,540.00 307.52,540.00 307.77,540.00 307.87,540.00 307.97,540.00 308.07,540.00 308.17,540.00 308.27,540.00 308.37,540.00 308.47,540.00 308.57,540.00 308.67,537.73 308.77,535.16 308.87,532.52 308.97,529.82 309.07,527.05 309.17,524.20 309.27,521.26 309.37,518.23 309.47,515.09 309.57,511.83 309.67,508.44 309.71,507.04 309.75,505.61 309.79,504.15 309.83,502.66 309.87,501.14 309.91,499.58 309.95,497.98 309.99,496.34 310.03,494.65 310.07,492.91 310.11,491.11 310.15,489.25 310.19,487.32 310.23,485.30 310.27,483.18 310.31,480.95 310.35,478.57 310.39,476.02 310.43,473.24 310.47,470.14 310.51,466.54 310.55,461.99 310.59,453.60 310.59,455.95 310.63,463.03 310.67,467.32 310.71,470.79 310.75,473.82 310.79,476.55 310.83,479.06 310.87,481.40 310.91,483.61 310.95,485.71 310.99,487.71 311.03,489.63 311.07,491.48 311.11,493.26 311.15,494.99 311.19,496.67 311.23,498.30 311.27,499.89 311.31,501.44 311.35,502.96 311.39,504.44 311.43,505.89 311.47,507.32 311.51,508.71 311.55,510.09 311.59,511.43 311.69,514.71 311.79,517.86 311.89,520.90 311.99,523.85 312.09,526.71 312.19,529.49 312.29,532.20 312.39,534.84 312.49,537.42 312.59,539.95 312.69,540.00 312.79,540.00 312.89,540.00 312.99,540.00 313.09,540.00 313.19,540.00 313.29,540.00 313.39,540.00 313.49,540.00 313.59,540.00 313.84,540.00 314.09,540.00 314.34,540.00 314.59,540.00 314.84,540.00 315.09,540.00 315.34,540.00 315.59,540.00 315.84,540.00 316.09,540.00 316.34,540.00 316.59,540.00 316.84,540.00 317.09,540.00 317.34,540.00 317.59,540.00 317.69,540.00 317.79,540.00 317.89,540.00 317.99,540.00 318.09,540.00 318.19,540.00 318.29,540.00 318.39,540.00 318.49,538.08 318.59,535.50 318.69,532.87 318.79,530.16 318.89,527.39 318.99,524.54 319.09,521.60 319.19,518.57 319.29,515.43 319.39,512.17 319.49,508.77 319.53,507.36 319.57,505.93 319.61,504.47 319.65,502.98 319.69,501.46 319.73,499.90 319.77,498.30 319.81,496.66 319.85,494.96 319.89,493.22 319.93,491.42 319.97,489.56 320.01,487.62 320.05,485.59 320.09,483.47 320.13,481.23 320.17,478.85 320.21,476.29 320.25,473.50 320.29,470.37 320.33,466.74 320.37,462.12 320.40,454.00 320.41,456.97 320.45,463.67 320.49,467.91 320.53,471.35 320.57,474.36 320.61,477.08 320.65,479.58 320.69,481.92 320.73,484.12 320.77,486.21 320.81,488.21 320.85,490.12 320.89,491.97 320.93,493.75 320.97,495.48 321.01,497.15 321.05,498.78 321.09,500.37 321.13,501.92 321.17,503.43 321.21,504.92 321.25,506.37 321.29,507.79 321.33,509.18 321.37,510.55 321.41,511.90 321.51,515.17 321.61,518.32 321.71,521.36 321.81,524.31 321.91,527.17 322.01,529.95 322.11,532.65 322.21,535.29 322.31,537.88 322.41,540.00 322.51,540.00 322.61,540.00 322.71,540.00 322.81,540.00 322.91,540.00 323.01,540.00 323.11,540.00 323.21,540.00 323.31,540.00 323.41,540.00 323.66,540.00 323.91,540.00 324.16,540.00 324.41,540.00 324.66,540.00 324.91,540.00 325.16,540.00 325.41,540.00 325.66,540.00 325.91,540.00 326.16,540.00 326.41,540.00 326.66,540.00 326.91,540.00 327.16,540.00 327.41,540.00 327.51,540.00 327.61,540.00 327.71,540.00 327.81,540.00 327.91,540.00 328.01,540.00 328.11,540.00 328.21,540.00 328.31,539.53 328.41,536.95 328.51,534.31 328.61,531.61 328.71,528.84 328.81,525.98 328.91,523.04 329.01,520.01 329.11,516.86 329.21,513.60 329.31,510.20 329.35,508.79 329.39,507.36 329.43,505.90 329.47,504.41 329.51,502.88 329.55,501.32 329.59,499.72 329.63,498.07 329.67,496.38 329.71,494.63 329.75,492.83 329.79,490.96 329.83,489.02 329.87,486.99 329.91,484.86 329.95,482.62 329.99,480.23 330.03,477.66 330.07,474.85 330.11,471.71 330.15,468.04 330.19,463.34 330.22,455.50 330.23,459.01 330.27,465.42 330.31,469.59 330.35,473.01 330.39,476.00 330.43,478.71 330.47,481.20 330.51,483.53 330.55,485.73 330.59,487.81 330.63,489.81 330.67,491.72 330.71,493.56 330.75,495.34 330.79,497.06 330.83,498.74 330.87,500.36 330.91,501.95 330.95,503.50 330.99,505.01 331.03,506.49 331.07,507.94 331.11,509.36 331.15,510.75 331.19,512.12 331.23,513.47 331.33,516.74 331.43,519.88 331.53,522.92 331.63,525.87 331.73,528.72 331.83,531.50 331.93,534.21 332.03,536.85 332.13,539.43 332.23,540.00 332.33,540.00 332.43,540.00 332.53,540.00 332.63,540.00 332.73,540.00 332.83,540.00 332.93,540.00 333.03,540.00 333.13,540.00 333.23,540.00 333.48,540.00 333.73,540.00 333.98,540.00 334.23,540.00 334.48,540.00 334.73,540.00 334.98,540.00 335.23,540.00 335.48,540.00 335.73,540.00 335.98,540.00 336.23,540.00 336.48,540.00 336.73,540.00 336.98,540.00 337.23,540.00 337.33,540.00 337.43,540.00 337.53,540.00 337.63,540.00 337.73,540.00 337.83,540.00 337.93,540.00 338.03,540.00 338.13,540.00 338.23,537.50 338.33,534.86 338.43,532.16 338.53,529.38 338.63,526.52 338.73,523.58 338.83,520.55 338.93,517.40 339.03,514.13 339.13,510.73 339.17,509.32 339.21,507.89 339.25,506.43 339.29,504.93 339.33,503.40 339.37,501.84 339.41,500.24 339.45,498.59 339.49,496.89 339.53,495.15 339.57,493.34 339.61,491.47 339.65,489.52 339.69,487.49 339.73,485.35 339.77,483.10 339.81,480.70 339.85,478.12 339.89,475.30 339.93,472.14 339.97,468.44 340.01,463.65 340.04,456.10 340.05,460.09 340.09,466.25 340.13,470.38 340.17,473.77 340.21,476.75 340.25,479.44 340.29,481.92 340.33,484.24 340.37,486.43 340.41,488.51 340.45,490.50 340.49,492.41 340.53,494.25 340.57,496.03 340.61,497.75 340.65,499.42 340.69,501.04 340.73,502.63 340.77,504.17 340.81,505.68 340.85,507.16 340.89,508.61 340.93,510.03 340.97,511.42 341.01,512.79 341.05,514.13 341.15,517.40 341.25,520.55 341.35,523.58 341.45,526.52 341.55,529.38 341.65,532.16 341.75,534.86 341.85,537.50 341.95,540.00 342.05,540.00 342.15,540.00 342.25,540.00 342.35,540.00 342.45,540.00 342.55,540.00 342.65,540.00 342.75,540.00 342.85,540.00 342.95,540.00 343.05,540.00 343.30,540.00 343.55,540.00 343.80,540.00 344.05,540.00 344.30,540.00 344.55,540.00 344.80,540.00 345.05,540.00 345.30,540.00 345.55,540.00 345.80,540.00 346.05,540.00 346.30,540.00 346.55,540.00 346.80,540.00 347.05,540.00 347.15,540.00 347.25,540.00 347.35,540.00 347.45,540.00 347.55,540.00 347.65,540.00 347.75,540.00 347.85,540.00 347.95,540.00 348.05,540.00 348.15,537.51 348.25,534.80 348.35,532.02 348.45,529.17 348.55,526.22 348.65,523.18 348.75,520.04 348.85,516.77 348.95,513.36 348.99,511.95 349.03,510.52 349.07,509.05 349.11,507.56 349.15,506.03 349.19,504.46 349.23,502.85 349.27,501.20 349.31,499.51 349.35,497.76 349.39,495.95 349.43,494.07 349.47,492.12 349.51,490.08 349.55,487.94 349.59,485.68 349.63,483.28 349.67,480.69 349.71,477.85 349.75,474.67 349.79,470.93 349.83,466.05 349.86,458.80 349.87,463.24 349.91,469.19 349.95,473.26 349.99,476.63 350.03,479.59 350.07,482.27 350.11,484.74 350.15,487.06 350.19,489.24 350.23,491.32 350.27,493.30 350.31,495.20 350.35,497.04 350.39,498.81 350.43,500.53 350.47,502.20 350.51,503.82 350.55,505.41 350.59,506.95 350.63,508.46 350.67,509.93 350.71,511.38 350.75,512.80 350.79,514.19 350.83,515.56 350.87,516.90 350.97,520.16 351.07,523.31 351.17,526.34 351.27,529.28 351.37,532.14 351.47,534.91 351.57,537.61 351.67,540.00 351.77,540.00 351.87,540.00 351.97,540.00 352.07,540.00 352.17,540.00 352.27,540.00 352.37,540.00 352.47,540.00 352.57,540.00 352.67,540.00 352.77,540.00 352.87,540.00 353.12,540.00 353.37,540.00 353.62,540.00 353.87,540.00 354.12,540.00 354.37,540.00 354.62,540.00 354.87,540.00 355.12,540.00 355.37,540.00 355.62,540.00 355.87,540.00 356.12,540.00 356.37,540.00 356.62,540.00 356.87,540.00 356.97,540.00 357.07,540.00 357.17,540.00 357.27,540.00 357.37,540.00 357.47,540.00 357.57,540.00 357.67,540.00 357.77,540.00 357.87,540.00 357.97,537.45 358.07,534.75 358.17,531.97 358.27,529.11 358.37,526.16 358.47,523.12 358.57,519.97 358.67,516.70 358.77,513.29 358.81,511.88 358.85,510.44 358.89,508.98 358.93,507.48 358.97,505.95 359.01,504.38 359.05,502.77 359.09,501.12 359.13,499.42 359.17,497.67 359.21,495.85 359.25,493.97 359.29,492.02 359.33,489.98 359.37,487.83 359.41,485.57 359.45,483.15 359.49,480.55 359.53,477.70 359.57,474.50 359.61,470.73 359.65,465.75 359.68,458.80 359.69,463.65 359.73,469.42 359.77,473.44 359.81,476.78 359.85,479.73 359.89,482.39 359.93,484.86 359.97,487.17 360.01,489.35 360.05,491.42 360.09,493.40 360.13,495.30 360.17,497.13 360.21,498.90 360.25,500.62 360.29,502.28 360.33,503.90 360.37,505.48 360.41,507.03 360.45,508.53 360.49,510.01 360.53,511.45 360.57,512.87 360.61,514.26 360.65,515.62 360.69,516.97 360.79,520.23 360.89,523.37 360.99,526.40 361.09,529.34 361.19,532.19 361.29,534.96 361.39,537.67 361.49,540.00 361.59,540.00 361.69,540.00 361.79,540.00 361.89,540.00 361.99,540.00 362.09,540.00 362.19,540.00 362.29,540.00 362.39,540.00 362.49,540.00 362.59,540.00 362.69,540.00 362.94,540.00 363.19,540.00 363.44,540.00 363.69,540.00 363.94,540.00 364.19,540.00 364.44,540.00 364.69,540.00 364.94,540.00 365.19,540.00 365.44,540.00 365.69,540.00 365.94,540.00 366.19,540.00 366.44,540.00 366.69,540.00 366.79,540.00 366.89,540.00 366.99,540.00 367.09,540.00 367.19,540.00 367.29,540.00 367.39,540.00 367.49,540.00 367.59,540.00 367.69,540.00 367.79,539.60 367.89,536.89 367.99,534.11 368.09,531.25 368.19,528.30 368.29,525.26 368.39,522.11 368.49,518.83 368.59,515.42 368.63,514.01 368.67,512.57 368.71,511.10 368.75,509.61 368.79,508.07 368.83,506.50 368.87,504.89 368.91,503.24 368.95,501.53 368.99,499.78 369.03,497.96 369.07,496.08 369.11,494.12 369.15,492.07 369.19,489.92 369.23,487.65 369.27,485.23 369.31,482.62 369.35,479.75 369.39,476.53 369.43,472.72 369.47,467.63 369.49,461.00 369.51,466.24 369.55,471.84 369.59,475.82 369.63,479.14 369.67,482.07 369.71,484.72 369.75,487.18 369.79,489.48 369.83,491.65 369.87,493.72 369.91,495.69 369.95,497.59 369.99,499.42 370.03,501.19 370.07,502.90 370.11,504.56 370.15,506.18 370.19,507.76 370.23,509.30 370.27,510.81 370.31,512.28 370.35,513.72 370.39,515.14 370.43,516.53 370.47,517.89 370.51,519.23 370.61,522.49 370.71,525.63 370.81,528.66 370.91,531.60 371.01,534.45 371.11,537.22 371.21,539.92 371.31,540.00 371.41,540.00 371.51,540.00 371.61,540.00 371.71,540.00 371.81,540.00 371.91,540.00 372.01,540.00 372.11,540.00 372.21,540.00 372.31,540.00 372.41,540.00 372.51,540.00 372.76,540.00 373.01,540.00 373.26,540.00 373.51,540.00 373.76,540.00 374.01,540.00 374.26,540.00 374.51,540.00 374.76,540.00 375.01,540.00 375.26,540.00 375.51,540.00 375.76,540.00 376.01,540.00 376.26,540.00 376.51,540.00 376.61,540.00 376.71,540.00 376.81,540.00 376.91,540.00 377.01,540.00 377.11,540.00 377.21,540.00 377.31,540.00 377.41,540.00 377.51,540.00 377.61,540.00 377.71,538.24 377.81,535.45 377.91,532.59 378.01,529.64 378.11,526.60 378.21,523.44 378.31,520.17 378.41,516.75 378.45,515.34 378.49,513.90 378.53,512.43 378.57,510.93 378.61,509.39 378.65,507.82 378.69,506.21 378.73,504.55 378.77,502.85 378.81,501.09 378.85,499.27 378.89,497.38 378.93,495.42 378.97,493.37 379.01,491.21 379.05,488.93 379.09,486.50 379.13,483.88 379.17,481.00 379.21,477.75 379.25,473.90 379.29,468.71 379.31,462.40 379.33,468.01 379.37,473.47 379.41,477.40 379.45,480.69 379.49,483.60 379.53,486.25 379.57,488.70 379.61,490.99 379.65,493.16 379.69,495.22 379.73,497.19 379.77,499.08 379.81,500.91 379.85,502.67 379.89,504.38 379.93,506.05 379.97,507.66 380.01,509.24 380.05,510.78 380.09,512.28 380.13,513.75 380.17,515.20 380.21,516.61 380.25,518.00 380.29,519.36 380.33,520.70 380.43,523.96 380.53,527.09 380.63,530.12 380.73,533.06 380.83,535.90 380.93,538.68" fill="none" stroke="#c43b2c" stroke-width="1.1" stroke-linejoin="miter" stroke-miterlimit="1.5"/>
<line x1="42.5" y1="387.5" x2="42.5" y2="533.5" stroke="#9c9c9c" stroke-width="1"/>
<line x1="42.5" y1="533.5" x2="380.5" y2="533.5" stroke="#d2d2d2" stroke-width="1"/>
<line x1="42.5" y1="387.5" x2="380.5" y2="387.5" stroke="#d2d2d2" stroke-width="1"/>
<line x1="380.5" y1="387.5" x2="380.5" y2="533.5" stroke="#9c9c9c" stroke-width="1"/>
<line x1="43.0" y1="533.5" x2="43.0" y2="530.5" stroke="#999" stroke-width="0.8"/>
<line x1="43.0" y1="387.5" x2="43.0" y2="390.5" stroke="#999" stroke-width="0.8"/>
<text x="43.0" y="546.0" font-size="10" text-anchor="middle" fill="#111" stroke="#111" stroke-width="0.22" >1500</text>
<line x1="91.1" y1="533.5" x2="91.1" y2="530.5" stroke="#999" stroke-width="0.8"/>
<line x1="91.1" y1="387.5" x2="91.1" y2="390.5" stroke="#999" stroke-width="0.8"/>
<text x="91.1" y="546.0" font-size="10" text-anchor="middle" fill="#111" stroke="#111" stroke-width="0.22" >1552</text>
<line x1="139.3" y1="533.5" x2="139.3" y2="530.5" stroke="#999" stroke-width="0.8"/>
<line x1="139.3" y1="387.5" x2="139.3" y2="390.5" stroke="#999" stroke-width="0.8"/>
<text x="139.3" y="546.0" font-size="10" text-anchor="middle" fill="#111" stroke="#111" stroke-width="0.22" >1554</text>
<line x1="187.4" y1="533.5" x2="187.4" y2="530.5" stroke="#999" stroke-width="0.8"/>
<line x1="187.4" y1="387.5" x2="187.4" y2="390.5" stroke="#999" stroke-width="0.8"/>
<text x="187.4" y="546.0" font-size="10" text-anchor="middle" fill="#111" stroke="#111" stroke-width="0.22" >1556</text>
<line x1="235.6" y1="533.5" x2="235.6" y2="530.5" stroke="#999" stroke-width="0.8"/>
<line x1="235.6" y1="387.5" x2="235.6" y2="390.5" stroke="#999" stroke-width="0.8"/>
<text x="235.6" y="546.0" font-size="10" text-anchor="middle" fill="#111" stroke="#111" stroke-width="0.22" >1558</text>
<line x1="283.7" y1="533.5" x2="283.7" y2="530.5" stroke="#999" stroke-width="0.8"/>
<line x1="283.7" y1="387.5" x2="283.7" y2="390.5" stroke="#999" stroke-width="0.8"/>
<text x="283.7" y="546.0" font-size="10" text-anchor="middle" fill="#111" stroke="#111" stroke-width="0.22" >1560</text>
<line x1="331.8" y1="533.5" x2="331.8" y2="530.5" stroke="#999" stroke-width="0.8"/>
<line x1="331.8" y1="387.5" x2="331.8" y2="390.5" stroke="#999" stroke-width="0.8"/>
<text x="331.8" y="546.0" font-size="10" text-anchor="middle" fill="#111" stroke="#111" stroke-width="0.22" >1562</text>
<line x1="380.0" y1="533.5" x2="380.0" y2="530.5" stroke="#999" stroke-width="0.8"/>
<line x1="380.0" y1="387.5" x2="380.0" y2="390.5" stroke="#999" stroke-width="0.8"/>
<text x="380.0" y="546.0" font-size="10" text-anchor="middle" fill="#111" stroke="#111" stroke-width="0.22" >1564</text>
<line x1="42.5" y1="415.5" x2="45.5" y2="415.5" stroke="#999" stroke-width="0.8"/>
<line x1="380.5" y1="415.5" x2="377.5" y2="415.5" stroke="#999" stroke-width="0.8"/>
<text x="37.5" y="419.5" font-size="10" text-anchor="end" fill="#111" stroke="#111" stroke-width="0.22" >−10</text>
<line x1="42.5" y1="473.2" x2="45.5" y2="473.2" stroke="#999" stroke-width="0.8"/>
<line x1="380.5" y1="473.2" x2="377.5" y2="473.2" stroke="#999" stroke-width="0.8"/>
<text x="37.5" y="477.2" font-size="10" text-anchor="end" fill="#111" stroke="#111" stroke-width="0.22" >−30</text>
<line x1="42.5" y1="530.9" x2="45.5" y2="530.9" stroke="#999" stroke-width="0.8"/>
<line x1="380.5" y1="530.9" x2="377.5" y2="530.9" stroke="#999" stroke-width="0.8"/>
<text x="37.5" y="534.9" font-size="10" text-anchor="end" fill="#111" stroke="#111" stroke-width="0.22" >−50</text>
<text x="211.4" y="563.0" font-size="10" text-anchor="middle" fill="#111" stroke="#111" stroke-width="0.22" >Wavelength (nm)</text>
<text class="v" x="0" y="0" font-size="10" text-anchor="middle" fill="#000" stroke="#000" stroke-width="0.22" transform="translate(8.7,459.5) rotate(-90)">Power (dBm)</text>
<text x="211.4" y="355.0" font-size="10" text-anchor="middle" fill="#111" stroke="#111" stroke-width="0.22" ></text>
<line x1="437.5" y1="179" x2="437.5" y2="325" stroke="#9c9c9c" stroke-width="1"/>
<line x1="437.5" y1="325" x2="680.5" y2="325" stroke="#d2d2d2" stroke-width="1"/>
<line x1="437.5" y1="179" x2="680.5" y2="179" stroke="#d2d2d2" stroke-width="1"/>
<line x1="680.5" y1="179" x2="680.5" y2="325" stroke="#9c9c9c" stroke-width="1"/>
<polyline points="437.80,281.50 443.30,290.10 448.10,303.50 452.60,309.20 457.70,297.30 462.90,288.10 468.00,279.90 473.50,274.20 479.30,269.00 491.60,259.80 503.00,252.30 514.20,245.00 526.50,236.70 533.00,231.00 540.90,222.40 546.00,213.10 549.00,209.30 551.60,205.80 556.50,184.20 561.00,192.30 566.40,204.90 571.80,214.70 582.70,225.70 593.60,235.50 600.00,240.00 606.70,243.10 613.30,247.50 626.40,256.20 637.30,264.90 649.30,276.90 656.90,287.90 668.50,307.10" fill="none" stroke="#1f4a8e" stroke-width="1.5" stroke-linejoin="round"/>
<line x1="437.5" y1="325" x2="437.5" y2="322" stroke="#999" stroke-width="0.8"/>
<line x1="437.5" y1="179" x2="437.5" y2="182" stroke="#999" stroke-width="0.8"/>
<text x="437.5" y="337.8" font-size="10" text-anchor="middle" fill="#111" stroke="#111" stroke-width="0.22" >0</text>
<line x1="486.1" y1="325" x2="486.1" y2="322" stroke="#999" stroke-width="0.8"/>
<line x1="486.1" y1="179" x2="486.1" y2="182" stroke="#999" stroke-width="0.8"/>
<text x="486.1" y="337.8" font-size="10" text-anchor="middle" fill="#111" stroke="#111" stroke-width="0.22" >10</text>
<line x1="534.7" y1="325" x2="534.7" y2="322" stroke="#999" stroke-width="0.8"/>
<line x1="534.7" y1="179" x2="534.7" y2="182" stroke="#999" stroke-width="0.8"/>
<text x="534.7" y="337.8" font-size="10" text-anchor="middle" fill="#111" stroke="#111" stroke-width="0.22" >20</text>
<line x1="583.3" y1="325" x2="583.3" y2="322" stroke="#999" stroke-width="0.8"/>
<line x1="583.3" y1="179" x2="583.3" y2="182" stroke="#999" stroke-width="0.8"/>
<text x="583.3" y="337.8" font-size="10" text-anchor="middle" fill="#111" stroke="#111" stroke-width="0.22" >30</text>
<line x1="631.9" y1="325" x2="631.9" y2="322" stroke="#999" stroke-width="0.8"/>
<line x1="631.9" y1="179" x2="631.9" y2="182" stroke="#999" stroke-width="0.8"/>
<text x="631.9" y="337.8" font-size="10" text-anchor="middle" fill="#111" stroke="#111" stroke-width="0.22" >40</text>
<line x1="680.5" y1="325" x2="680.5" y2="322" stroke="#999" stroke-width="0.8"/>
<line x1="680.5" y1="179" x2="680.5" y2="182" stroke="#999" stroke-width="0.8"/>
<text x="680.5" y="337.8" font-size="10" text-anchor="middle" fill="#111" stroke="#111" stroke-width="0.22" >50</text>
<line x1="437.5" y1="178.8" x2="440.5" y2="178.8" stroke="#999" stroke-width="0.8"/>
<line x1="680.5" y1="178.8" x2="677.5" y2="178.8" stroke="#999" stroke-width="0.8"/>
<text x="433.0" y="183.6" font-size="10" text-anchor="end" fill="#111" stroke="#111" stroke-width="0.22" >30</text>
<line x1="437.5" y1="227.4" x2="440.5" y2="227.4" stroke="#999" stroke-width="0.8"/>
<line x1="680.5" y1="227.4" x2="677.5" y2="227.4" stroke="#999" stroke-width="0.8"/>
<text x="433.0" y="232.2" font-size="10" text-anchor="end" fill="#111" stroke="#111" stroke-width="0.22" >10</text>
<line x1="437.5" y1="276.1" x2="440.5" y2="276.1" stroke="#999" stroke-width="0.8"/>
<line x1="680.5" y1="276.1" x2="677.5" y2="276.1" stroke="#999" stroke-width="0.8"/>
<text x="433.0" y="280.9" font-size="10" text-anchor="end" fill="#111" stroke="#111" stroke-width="0.22" >−10</text>
<line x1="437.5" y1="324.7" x2="440.5" y2="324.7" stroke="#999" stroke-width="0.8"/>
<line x1="680.5" y1="324.7" x2="677.5" y2="324.7" stroke="#999" stroke-width="0.8"/>
<text x="433.0" y="329.5" font-size="10" text-anchor="end" fill="#111" stroke="#111" stroke-width="0.22" >−30</text>
<text x="559.0" y="355.0" font-size="10.2" text-anchor="middle" fill="#111" stroke="#111" stroke-width="0.22" >Electrical power (mw)</text>
<text class="v" x="0" y="0" font-size="10.2" text-anchor="middle" fill="#000" stroke="#000" stroke-width="0.22" transform="translate(406.3,251.8) rotate(-90)">Power splitting ratio (dB)</text>
<line x1="437.5" y1="383.5" x2="437.5" y2="532" stroke="#9c9c9c" stroke-width="1"/>
<line x1="437.5" y1="532" x2="679.5" y2="532" stroke="#d2d2d2" stroke-width="1"/>
<line x1="437.5" y1="383.5" x2="679.5" y2="383.5" stroke="#d2d2d2" stroke-width="1"/>
<line x1="679.5" y1="383.5" x2="679.5" y2="532" stroke="#9c9c9c" stroke-width="1"/>
<polyline points="437.50,501.00 448.00,491.50 458.40,482.30 469.00,471.00 479.80,459.90 490.00,448.00 500.00,437.40 508.80,429.00 515.10,424.80 524.70,414.20 535.00,405.00 545.00,396.00 555.40,387.30 560.70,531.30 568.00,524.60 575.50,518.00 585.00,508.90 591.90,503.20 606.00,488.00 620.40,472.40 634.60,456.90 646.00,446.00 658.40,434.40 668.30,423.70" fill="none" stroke="#1f4a8e" stroke-width="1.5" stroke-linejoin="round"/>
<line x1="437.5" y1="532" x2="437.5" y2="529" stroke="#999" stroke-width="0.8"/>
<line x1="437.5" y1="383.5" x2="437.5" y2="386.5" stroke="#999" stroke-width="0.8"/>
<text x="437.5" y="546.0" font-size="10" text-anchor="middle" fill="#111" stroke="#111" stroke-width="0.22" >0</text>
<line x1="485.9" y1="532" x2="485.9" y2="529" stroke="#999" stroke-width="0.8"/>
<line x1="485.9" y1="383.5" x2="485.9" y2="386.5" stroke="#999" stroke-width="0.8"/>
<text x="485.9" y="546.0" font-size="10" text-anchor="middle" fill="#111" stroke="#111" stroke-width="0.22" >10</text>
<line x1="534.3" y1="532" x2="534.3" y2="529" stroke="#999" stroke-width="0.8"/>
<line x1="534.3" y1="383.5" x2="534.3" y2="386.5" stroke="#999" stroke-width="0.8"/>
<text x="534.3" y="546.0" font-size="10" text-anchor="middle" fill="#111" stroke="#111" stroke-width="0.22" >20</text>
<line x1="582.7" y1="532" x2="582.7" y2="529" stroke="#999" stroke-width="0.8"/>
<line x1="582.7" y1="383.5" x2="582.7" y2="386.5" stroke="#999" stroke-width="0.8"/>
<text x="582.7" y="546.0" font-size="10" text-anchor="middle" fill="#111" stroke="#111" stroke-width="0.22" >30</text>
<line x1="631.1" y1="532" x2="631.1" y2="529" stroke="#999" stroke-width="0.8"/>
<line x1="631.1" y1="383.5" x2="631.1" y2="386.5" stroke="#999" stroke-width="0.8"/>
<text x="631.1" y="546.0" font-size="10" text-anchor="middle" fill="#111" stroke="#111" stroke-width="0.22" >40</text>
<line x1="679.5" y1="532" x2="679.5" y2="529" stroke="#999" stroke-width="0.8"/>
<line x1="679.5" y1="383.5" x2="679.5" y2="386.5" stroke="#999" stroke-width="0.8"/>
<text x="679.5" y="546.0" font-size="10" text-anchor="middle" fill="#111" stroke="#111" stroke-width="0.22" >50</text>
<line x1="437.5" y1="383.5" x2="440.5" y2="383.5" stroke="#999" stroke-width="0.8"/>
<line x1="679.5" y1="383.5" x2="676.5" y2="383.5" stroke="#999" stroke-width="0.8"/>
<text x="432.4" y="387.7" font-size="10.8" text-anchor="end" fill="#111" font-family="'Liberation Serif', serif">π</text>
<line x1="437.5" y1="457.7" x2="440.5" y2="457.7" stroke="#999" stroke-width="0.8"/>
<line x1="679.5" y1="457.7" x2="676.5" y2="457.7" stroke="#999" stroke-width="0.8"/>
<text x="432.5" y="461.6" font-size="10" text-anchor="end" fill="#111" stroke="#111" stroke-width="0.22" >0</text>
<line x1="437.5" y1="532.0" x2="440.5" y2="532.0" stroke="#999" stroke-width="0.8"/>
<line x1="679.5" y1="532.0" x2="676.5" y2="532.0" stroke="#999" stroke-width="0.8"/>
<text x="432.4" y="534.9" font-size="10.8" text-anchor="end" fill="#111" font-family="'Liberation Serif', serif">−π</text>
<text x="559.0" y="567.0" font-size="10.2" text-anchor="middle" fill="#111" stroke="#111" stroke-width="0.22" >Electrical power (mw)</text>
<text class="v" x="0" y="0" font-size="10" text-anchor="middle" fill="#000" stroke="#000" stroke-width="0.22" transform="translate(412.9,457.7) rotate(-90)">Phase (rad)</text>
<line x1="42.5" y1="594.3" x2="42.5" y2="746.2" stroke="#9c9c9c" stroke-width="1"/>
<line x1="42.5" y1="746.2" x2="325" y2="746.2" stroke="#d2d2d2" stroke-width="1"/>
<line x1="42.5" y1="746.2" x2="42.5" y2="743.2" stroke="#999" stroke-width="0.8"/>
<text x="42.5" y="759.5" font-size="10" text-anchor="middle" fill="#111" stroke="#111" stroke-width="0.22" >1</text>
<line x1="82.9" y1="746.2" x2="82.9" y2="743.2" stroke="#999" stroke-width="0.8"/>
<text x="82.9" y="759.5" font-size="10" text-anchor="middle" fill="#111" stroke="#111" stroke-width="0.22" >2</text>
<line x1="123.2" y1="746.2" x2="123.2" y2="743.2" stroke="#999" stroke-width="0.8"/>
<text x="123.2" y="759.5" font-size="10" text-anchor="middle" fill="#111" stroke="#111" stroke-width="0.22" >3</text>
<line x1="163.6" y1="746.2" x2="163.6" y2="743.2" stroke="#999" stroke-width="0.8"/>
<text x="163.6" y="759.5" font-size="10" text-anchor="middle" fill="#111" stroke="#111" stroke-width="0.22" >4</text>
<line x1="203.9" y1="746.2" x2="203.9" y2="743.2" stroke="#999" stroke-width="0.8"/>
<text x="203.9" y="759.5" font-size="10" text-anchor="middle" fill="#111" stroke="#111" stroke-width="0.22" >5</text>
<line x1="244.3" y1="746.2" x2="244.3" y2="743.2" stroke="#999" stroke-width="0.8"/>
<text x="244.3" y="759.5" font-size="10" text-anchor="middle" fill="#111" stroke="#111" stroke-width="0.22" >6</text>
<line x1="284.7" y1="746.2" x2="284.7" y2="743.2" stroke="#999" stroke-width="0.8"/>
<text x="284.7" y="759.5" font-size="10" text-anchor="middle" fill="#111" stroke="#111" stroke-width="0.22" >7</text>
<line x1="325.0" y1="746.2" x2="325.0" y2="743.2" stroke="#999" stroke-width="0.8"/>
<text x="325.0" y="759.5" font-size="10" text-anchor="middle" fill="#111" stroke="#111" stroke-width="0.22" >8</text>
<line x1="42.5" y1="595.3" x2="45.5" y2="595.3" stroke="#999" stroke-width="0.8"/>
<text x="37.5" y="598.9" font-size="10" text-anchor="end" fill="#111" stroke="#111" stroke-width="0.22" >0</text>
<line x1="42.5" y1="645.4" x2="45.5" y2="645.4" stroke="#999" stroke-width="0.8"/>
<text x="37.5" y="649.0" font-size="10" text-anchor="end" fill="#111" stroke="#111" stroke-width="0.22" >−10</text>
<line x1="42.5" y1="695.5" x2="45.5" y2="695.5" stroke="#999" stroke-width="0.8"/>
<text x="37.5" y="699.1" font-size="10" text-anchor="end" fill="#111" stroke="#111" stroke-width="0.22" >−20</text>
<line x1="42.5" y1="745.6" x2="45.5" y2="745.6" stroke="#999" stroke-width="0.8"/>
<text x="37.5" y="749.2" font-size="10" text-anchor="end" fill="#111" stroke="#111" stroke-width="0.22" >−30</text>
<text x="183.7" y="777.0" font-size="10" text-anchor="middle" fill="#111" stroke="#111" stroke-width="0.22" >Tap number</text>
<text class="v" x="0" y="0" font-size="10.2" text-anchor="middle" fill="#000" stroke="#000" stroke-width="0.22" transform="translate(8.3,669.8) rotate(-90)">Power (dB)</text>
<ellipse cx="42.5" cy="595.3" rx="2.6" ry="1.9" fill="#b21032"/>
<ellipse cx="42.5" cy="596.8" rx="2.6" ry="1.9" fill="#b31233"/>
<ellipse cx="42.5" cy="598.3" rx="2.6" ry="1.9" fill="#b41435"/>
<ellipse cx="42.5" cy="600.3" rx="2.6" ry="1.9" fill="#b51737"/>
<ellipse cx="42.5" cy="604.1" rx="2.6" ry="1.9" fill="#b71c3a"/>
<ellipse cx="42.5" cy="607.8" rx="2.6" ry="1.9" fill="#ba223e"/>
<ellipse cx="42.5" cy="608.3" rx="2.6" ry="1.9" fill="#ba223e"/>
<ellipse cx="42.5" cy="614.8" rx="2.6" ry="1.9" fill="#be2b44"/>
<ellipse cx="42.5" cy="620.9" rx="2.6" ry="1.9" fill="#c1344a"/>
<ellipse cx="42.5" cy="622.4" rx="2.6" ry="1.9" fill="#c2364b"/>
<ellipse cx="42.5" cy="623.9" rx="2.6" ry="1.9" fill="#c3384d"/>
<ellipse cx="42.5" cy="630.9" rx="2.6" ry="1.9" fill="#c74454"/>
<ellipse cx="42.5" cy="640.9" rx="2.6" ry="1.9" fill="#ce5660"/>
<ellipse cx="42.5" cy="652.9" rx="2.6" ry="1.9" fill="#d56b6d"/>
<ellipse cx="42.5" cy="654.4" rx="2.6" ry="1.9" fill="#d66e6f"/>
<ellipse cx="42.5" cy="655.9" rx="2.6" ry="1.9" fill="#d77170"/>
<ellipse cx="42.5" cy="670.4" rx="2.6" ry="1.9" fill="#e0887e"/>
<ellipse cx="42.5" cy="672.0" rx="2.6" ry="1.9" fill="#e08a7f"/>
<ellipse cx="42.5" cy="673.5" rx="2.6" ry="1.9" fill="#e18d81"/>
<ellipse cx="42.5" cy="688.5" rx="2.6" ry="1.9" fill="#eaa58f"/>
<ellipse cx="42.5" cy="690.0" rx="2.6" ry="1.9" fill="#eaa891"/>
<ellipse cx="42.5" cy="701.5" rx="2.6" ry="1.9" fill="#f0bd9d"/>
<ellipse cx="42.5" cy="706.5" rx="2.6" ry="1.9" fill="#f2c6a2"/>
<ellipse cx="42.5" cy="714.0" rx="2.6" ry="1.9" fill="#f6d3aa"/>
<ellipse cx="82.9" cy="595.8" rx="2.6" ry="1.9" fill="#b21132"/>
<ellipse cx="82.9" cy="597.1" rx="2.6" ry="1.9" fill="#b31234"/>
<ellipse cx="82.9" cy="598.3" rx="2.6" ry="1.9" fill="#b41435"/>
<ellipse cx="82.9" cy="599.6" rx="2.6" ry="1.9" fill="#b51636"/>
<ellipse cx="82.9" cy="600.8" rx="2.6" ry="1.9" fill="#b51837"/>
<ellipse cx="82.9" cy="602.8" rx="2.6" ry="1.9" fill="#b61b39"/>
<ellipse cx="82.9" cy="604.1" rx="2.6" ry="1.9" fill="#b71c3a"/>
<ellipse cx="82.9" cy="605.3" rx="2.6" ry="1.9" fill="#b81e3b"/>
<ellipse cx="82.9" cy="606.8" rx="2.6" ry="1.9" fill="#b9203d"/>
<ellipse cx="82.9" cy="608.3" rx="2.6" ry="1.9" fill="#ba223e"/>
<ellipse cx="82.9" cy="609.8" rx="2.6" ry="1.9" fill="#bb2440"/>
<ellipse cx="82.9" cy="613.3" rx="2.6" ry="1.9" fill="#bd2943"/>
<ellipse cx="82.9" cy="616.3" rx="2.6" ry="1.9" fill="#bf2d46"/>
<ellipse cx="82.9" cy="619.3" rx="2.6" ry="1.9" fill="#c03248"/>
<ellipse cx="82.9" cy="624.6" rx="2.6" ry="1.9" fill="#c4394d"/>
<ellipse cx="82.9" cy="632.9" rx="2.6" ry="1.9" fill="#c94856"/>
<ellipse cx="82.9" cy="642.6" rx="2.6" ry="1.9" fill="#cf5961"/>
<ellipse cx="82.9" cy="650.4" rx="2.6" ry="1.9" fill="#d4676a"/>
<ellipse cx="82.9" cy="656.4" rx="2.6" ry="1.9" fill="#d87271"/>
<ellipse cx="82.9" cy="660.4" rx="2.6" ry="1.9" fill="#da7875"/>
<ellipse cx="82.9" cy="673.5" rx="2.6" ry="1.9" fill="#e18d81"/>
<ellipse cx="82.9" cy="675.5" rx="2.6" ry="1.9" fill="#e29083"/>
<ellipse cx="82.9" cy="691.5" rx="2.6" ry="1.9" fill="#ebab92"/>
<ellipse cx="82.9" cy="692.5" rx="2.6" ry="1.9" fill="#ecad93"/>
<ellipse cx="82.9" cy="717.5" rx="2.6" ry="1.9" fill="#f8d8ae"/>
<ellipse cx="82.9" cy="736.1" rx="2.6" ry="1.9" fill="#fcedc3"/>
<ellipse cx="123.2" cy="609.4" rx="2.6" ry="2.0" fill="#ba243f"/>
<ellipse cx="123.2" cy="608.2" rx="2.6" ry="2.0" fill="#ba223e"/>
<ellipse cx="123.2" cy="607.0" rx="2.6" ry="2.0" fill="#b9203d"/>
<ellipse cx="123.2" cy="605.8" rx="2.6" ry="2.0" fill="#b81f3c"/>
<ellipse cx="123.2" cy="604.6" rx="2.6" ry="2.0" fill="#b81d3b"/>
<ellipse cx="123.2" cy="603.4" rx="2.6" ry="2.0" fill="#b71b3a"/>
<ellipse cx="123.2" cy="602.2" rx="2.6" ry="2.0" fill="#b61a38"/>
<ellipse cx="123.2" cy="601.0" rx="2.6" ry="2.0" fill="#b51837"/>
<ellipse cx="123.2" cy="599.8" rx="2.6" ry="2.0" fill="#b51636"/>
<ellipse cx="123.2" cy="598.6" rx="2.6" ry="2.0" fill="#b41535"/>
<ellipse cx="123.2" cy="597.4" rx="2.6" ry="2.0" fill="#b31334"/>
<ellipse cx="123.2" cy="596.2" rx="2.6" ry="2.0" fill="#b31133"/>
<ellipse cx="163.6" cy="609.4" rx="2.6" ry="2.0" fill="#ba243f"/>
<ellipse cx="163.6" cy="608.2" rx="2.6" ry="2.0" fill="#ba223e"/>
<ellipse cx="163.6" cy="607.0" rx="2.6" ry="2.0" fill="#b9203d"/>
<ellipse cx="163.6" cy="605.8" rx="2.6" ry="2.0" fill="#b81f3c"/>
<ellipse cx="163.6" cy="604.6" rx="2.6" ry="2.0" fill="#b81d3b"/>
<ellipse cx="163.6" cy="603.4" rx="2.6" ry="2.0" fill="#b71b3a"/>
<ellipse cx="163.6" cy="602.2" rx="2.6" ry="2.0" fill="#b61a38"/>
<ellipse cx="163.6" cy="601.0" rx="2.6" ry="2.0" fill="#b51837"/>
<ellipse cx="163.6" cy="599.8" rx="2.6" ry="2.0" fill="#b51636"/>
<ellipse cx="163.6" cy="598.6" rx="2.6" ry="2.0" fill="#b41535"/>
<ellipse cx="163.6" cy="597.4" rx="2.6" ry="2.0" fill="#b31334"/>
<ellipse cx="163.6" cy="596.2" rx="2.6" ry="2.0" fill="#b31133"/>
<ellipse cx="203.9" cy="610.7" rx="2.6" ry="2.0" fill="#bb2640"/>
<ellipse cx="203.9" cy="609.5" rx="2.6" ry="2.0" fill="#bb243f"/>
<ellipse cx="203.9" cy="608.3" rx="2.6" ry="2.0" fill="#ba223e"/>
<ellipse cx="203.9" cy="607.1" rx="2.6" ry="2.0" fill="#b9203d"/>
<ellipse cx="203.9" cy="605.9" rx="2.6" ry="2.0" fill="#b81f3c"/>
<ellipse cx="203.9" cy="604.7" rx="2.6" ry="2.0" fill="#b81d3b"/>
<ellipse cx="203.9" cy="603.5" rx="2.6" ry="2.0" fill="#b71b3a"/>
<ellipse cx="203.9" cy="602.3" rx="2.6" ry="2.0" fill="#b61a39"/>
<ellipse cx="203.9" cy="601.1" rx="2.6" ry="2.0" fill="#b51837"/>
<ellipse cx="203.9" cy="599.9" rx="2.6" ry="2.0" fill="#b51636"/>
<ellipse cx="203.9" cy="598.7" rx="2.6" ry="2.0" fill="#b41535"/>
<ellipse cx="203.9" cy="597.5" rx="2.6" ry="2.0" fill="#b31334"/>
<ellipse cx="203.9" cy="596.3" rx="2.6" ry="2.0" fill="#b31133"/>
<ellipse cx="244.3" cy="608.7" rx="2.6" ry="2.0" fill="#ba233e"/>
<ellipse cx="244.3" cy="607.5" rx="2.6" ry="2.0" fill="#b9213d"/>
<ellipse cx="244.3" cy="606.3" rx="2.6" ry="2.0" fill="#b91f3c"/>
<ellipse cx="244.3" cy="605.1" rx="2.6" ry="2.0" fill="#b81e3b"/>
<ellipse cx="244.3" cy="603.9" rx="2.6" ry="2.0" fill="#b71c3a"/>
<ellipse cx="244.3" cy="602.7" rx="2.6" ry="2.0" fill="#b61a39"/>
<ellipse cx="244.3" cy="601.5" rx="2.6" ry="2.0" fill="#b61938"/>
<ellipse cx="244.3" cy="600.3" rx="2.6" ry="2.0" fill="#b51737"/>
<ellipse cx="244.3" cy="599.1" rx="2.6" ry="2.0" fill="#b41536"/>
<ellipse cx="244.3" cy="597.9" rx="2.6" ry="2.0" fill="#b41434"/>
<ellipse cx="244.3" cy="596.7" rx="2.6" ry="2.0" fill="#b31233"/>
<ellipse cx="244.3" cy="595.5" rx="2.6" ry="2.0" fill="#b21032"/>
<ellipse cx="284.7" cy="609.0" rx="2.6" ry="2.0" fill="#ba233f"/>
<ellipse cx="284.7" cy="607.8" rx="2.6" ry="2.0" fill="#b9213e"/>
<ellipse cx="284.7" cy="606.6" rx="2.6" ry="2.0" fill="#b9203d"/>
<ellipse cx="284.7" cy="605.4" rx="2.6" ry="2.0" fill="#b81e3b"/>
<ellipse cx="284.7" cy="604.2" rx="2.6" ry="2.0" fill="#b71c3a"/>
<ellipse cx="284.7" cy="603.0" rx="2.6" ry="2.0" fill="#b71b39"/>
<ellipse cx="284.7" cy="601.8" rx="2.6" ry="2.0" fill="#b61938"/>
<ellipse cx="284.7" cy="600.6" rx="2.6" ry="2.0" fill="#b51737"/>
<ellipse cx="284.7" cy="599.4" rx="2.6" ry="2.0" fill="#b41636"/>
<ellipse cx="284.7" cy="598.2" rx="2.6" ry="2.0" fill="#b41435"/>
<ellipse cx="284.7" cy="597.0" rx="2.6" ry="2.0" fill="#b31234"/>
<ellipse cx="325.0" cy="610.7" rx="2.6" ry="2.0" fill="#bb2640"/>
<ellipse cx="325.0" cy="609.5" rx="2.6" ry="2.0" fill="#bb243f"/>
<ellipse cx="325.0" cy="608.3" rx="2.6" ry="2.0" fill="#ba223e"/>
<ellipse cx="325.0" cy="607.1" rx="2.6" ry="2.0" fill="#b9203d"/>
<ellipse cx="325.0" cy="605.9" rx="2.6" ry="2.0" fill="#b81f3c"/>
<ellipse cx="325.0" cy="604.7" rx="2.6" ry="2.0" fill="#b81d3b"/>
<ellipse cx="325.0" cy="603.5" rx="2.6" ry="2.0" fill="#b71b3a"/>
<ellipse cx="325.0" cy="602.3" rx="2.6" ry="2.0" fill="#b61a39"/>
<ellipse cx="325.0" cy="601.1" rx="2.6" ry="2.0" fill="#b51837"/>
<ellipse cx="325.0" cy="599.9" rx="2.6" ry="2.0" fill="#b51636"/>
<ellipse cx="325.0" cy="598.7" rx="2.6" ry="2.0" fill="#b41535"/>
<ellipse cx="325.0" cy="597.5" rx="2.6" ry="2.0" fill="#b31334"/>
<ellipse cx="325.0" cy="596.3" rx="2.6" ry="2.0" fill="#b31133"/>
<line x1="394.2" y1="597.5" x2="394.2" y2="746" stroke="#9c9c9c" stroke-width="1"/>
<line x1="394.2" y1="746" x2="677.6" y2="746" stroke="#d2d2d2" stroke-width="1"/>
<line x1="394.2" y1="746" x2="394.2" y2="743" stroke="#999" stroke-width="0.8"/>
<text x="394.2" y="759.5" font-size="10" text-anchor="middle" fill="#111" stroke="#111" stroke-width="0.22" >1</text>
<line x1="434.7" y1="746" x2="434.7" y2="743" stroke="#999" stroke-width="0.8"/>
<text x="434.7" y="759.5" font-size="10" text-anchor="middle" fill="#111" stroke="#111" stroke-width="0.22" >2</text>
<line x1="475.2" y1="746" x2="475.2" y2="743" stroke="#999" stroke-width="0.8"/>
<text x="475.2" y="759.5" font-size="10" text-anchor="middle" fill="#111" stroke="#111" stroke-width="0.22" >3</text>
<line x1="515.7" y1="746" x2="515.7" y2="743" stroke="#999" stroke-width="0.8"/>
<text x="515.7" y="759.5" font-size="10" text-anchor="middle" fill="#111" stroke="#111" stroke-width="0.22" >4</text>
<line x1="556.2" y1="746" x2="556.2" y2="743" stroke="#999" stroke-width="0.8"/>
<text x="556.2" y="759.5" font-size="10" text-anchor="middle" fill="#111" stroke="#111" stroke-width="0.22" >5</text>
<line x1="596.6" y1="746" x2="596.6" y2="743" stroke="#999" stroke-width="0.8"/>
<text x="596.6" y="759.5" font-size="10" text-anchor="middle" fill="#111" stroke="#111" stroke-width="0.22" >6</text>
<line x1="637.1" y1="746" x2="637.1" y2="743" stroke="#999" stroke-width="0.8"/>
<text x="637.1" y="759.5" font-size="10" text-anchor="middle" fill="#111" stroke="#111" stroke-width="0.22" >7</text>
<line x1="677.6" y1="746" x2="677.6" y2="743" stroke="#999" stroke-width="0.8"/>
<text x="677.6" y="759.5" font-size="10" text-anchor="middle" fill="#111" stroke="#111" stroke-width="0.22" >8</text>
<line x1="394.2" y1="598.5" x2="397.2" y2="598.5" stroke="#999" stroke-width="0.8"/>
<text x="388.9" y="602.2" font-size="10.8" text-anchor="end" fill="#111" font-family="'Liberation Serif', serif">π</text>
<line x1="394.2" y1="673.0" x2="397.2" y2="673.0" stroke="#999" stroke-width="0.8"/>
<text x="389.3" y="676.8" font-size="10" text-anchor="end" fill="#111" stroke="#111" stroke-width="0.22" >0</text>
<line x1="394.2" y1="746.0" x2="397.2" y2="746.0" stroke="#999" stroke-width="0.8"/>
<text x="388.9" y="748.0" font-size="10.8" text-anchor="end" fill="#111" font-family="'Liberation Serif', serif">−π</text>
<text x="537.6" y="775.0" font-size="10" text-anchor="middle" fill="#111" stroke="#111" stroke-width="0.22" >Tap number</text>
<text class="v" x="0" y="0" font-size="10" text-anchor="middle" fill="#000" stroke="#000" stroke-width="0.22" transform="translate(367.1,669.2) rotate(-90)">Phase (rad)</text>
<ellipse cx="394.2" cy="598.5" rx="2.75" ry="2.1" fill="#b21032"/>
<ellipse cx="394.2" cy="603.8" rx="2.75" ry="2.1" fill="#b51737"/>
<ellipse cx="394.2" cy="609.0" rx="2.75" ry="2.1" fill="#b81f3c"/>
<ellipse cx="394.2" cy="614.3" rx="2.75" ry="2.1" fill="#bc2741"/>
<ellipse cx="394.2" cy="619.6" rx="2.75" ry="2.1" fill="#bf2e46"/>
<ellipse cx="394.2" cy="624.8" rx="2.75" ry="2.1" fill="#c2354b"/>
<ellipse cx="394.2" cy="630.1" rx="2.75" ry="2.1" fill="#c53e50"/>
<ellipse cx="394.2" cy="635.4" rx="2.75" ry="2.1" fill="#c94856"/>
<ellipse cx="394.2" cy="640.6" rx="2.75" ry="2.1" fill="#cc515d"/>
<ellipse cx="394.2" cy="645.9" rx="2.75" ry="2.1" fill="#d05b63"/>
<ellipse cx="394.2" cy="651.2" rx="2.75" ry="2.1" fill="#d36469"/>
<ellipse cx="394.2" cy="656.4" rx="2.75" ry="2.1" fill="#d66e6f"/>
<ellipse cx="394.2" cy="661.7" rx="2.75" ry="2.1" fill="#d97774"/>
<ellipse cx="394.2" cy="667.0" rx="2.75" ry="2.1" fill="#dc7f79"/>
<ellipse cx="394.2" cy="672.2" rx="2.75" ry="2.1" fill="#e0887e"/>
<ellipse cx="394.2" cy="677.5" rx="2.75" ry="2.1" fill="#e39183"/>
<ellipse cx="394.2" cy="682.8" rx="2.75" ry="2.1" fill="#e69988"/>
<ellipse cx="394.2" cy="688.1" rx="2.75" ry="2.1" fill="#e9a28d"/>
<ellipse cx="394.2" cy="693.3" rx="2.75" ry="2.1" fill="#ebac93"/>
<ellipse cx="394.2" cy="698.6" rx="2.75" ry="2.1" fill="#eeb599"/>
<ellipse cx="394.2" cy="703.9" rx="2.75" ry="2.1" fill="#f1bf9e"/>
<ellipse cx="394.2" cy="709.1" rx="2.75" ry="2.1" fill="#f3c8a4"/>
<ellipse cx="394.2" cy="714.4" rx="2.75" ry="2.1" fill="#f6d2aa"/>
<ellipse cx="394.2" cy="719.7" rx="2.75" ry="2.1" fill="#f8dab0"/>
<ellipse cx="394.2" cy="724.9" rx="2.75" ry="2.1" fill="#f9e0b5"/>
<ellipse cx="394.2" cy="730.2" rx="2.75" ry="2.1" fill="#fbe6bb"/>
<ellipse cx="394.2" cy="735.5" rx="2.75" ry="2.1" fill="#fcecc1"/>
<ellipse cx="394.2" cy="740.7" rx="2.75" ry="2.1" fill="#fef2c7"/>
<ellipse cx="394.2" cy="746.0" rx="2.75" ry="2.1" fill="#fff8cd"/>
<ellipse cx="434.7" cy="600.4" rx="2.5" ry="2.0" fill="#b31334"/>
<ellipse cx="434.7" cy="601.4" rx="2.5" ry="2.0" fill="#b41435"/>
<ellipse cx="434.7" cy="602.4" rx="2.5" ry="2.0" fill="#b41636"/>
<ellipse cx="434.7" cy="603.4" rx="2.5" ry="2.0" fill="#b51737"/>
<ellipse cx="434.7" cy="604.4" rx="2.5" ry="2.0" fill="#b61838"/>
<ellipse cx="434.7" cy="605.4" rx="2.5" ry="2.0" fill="#b61a39"/>
<ellipse cx="434.7" cy="606.4" rx="2.5" ry="2.0" fill="#b71b39"/>
<ellipse cx="434.7" cy="607.4" rx="2.5" ry="2.0" fill="#b71d3a"/>
<ellipse cx="434.7" cy="608.4" rx="2.5" ry="2.0" fill="#b81e3b"/>
<ellipse cx="434.7" cy="609.4" rx="2.5" ry="2.0" fill="#b9203c"/>
<ellipse cx="434.7" cy="610.4" rx="2.5" ry="2.0" fill="#b9213d"/>
<ellipse cx="434.7" cy="611.4" rx="2.5" ry="2.0" fill="#ba223e"/>
<ellipse cx="434.7" cy="612.4" rx="2.5" ry="2.0" fill="#ba243f"/>
<ellipse cx="434.7" cy="613.4" rx="2.5" ry="2.0" fill="#bb2540"/>
<ellipse cx="434.7" cy="614.4" rx="2.5" ry="2.0" fill="#bc2741"/>
<ellipse cx="434.7" cy="615.4" rx="2.5" ry="2.0" fill="#bc2842"/>
<ellipse cx="434.7" cy="616.4" rx="2.5" ry="2.0" fill="#bd2943"/>
<ellipse cx="434.7" cy="617.4" rx="2.5" ry="2.0" fill="#be2b44"/>
<ellipse cx="434.7" cy="618.4" rx="2.5" ry="2.0" fill="#be2c45"/>
<ellipse cx="434.7" cy="619.4" rx="2.5" ry="2.0" fill="#bf2e46"/>
<ellipse cx="434.7" cy="620.4" rx="2.5" ry="2.0" fill="#bf2f47"/>
<ellipse cx="434.7" cy="621.4" rx="2.5" ry="2.0" fill="#c03148"/>
<ellipse cx="434.7" cy="622.4" rx="2.5" ry="2.0" fill="#c13249"/>
<ellipse cx="434.7" cy="623.4" rx="2.5" ry="2.0" fill="#c1334a"/>
<ellipse cx="434.7" cy="624.4" rx="2.5" ry="2.0" fill="#c2354b"/>
<ellipse cx="434.7" cy="625.4" rx="2.5" ry="2.0" fill="#c2364c"/>
<ellipse cx="434.7" cy="626.4" rx="2.5" ry="2.0" fill="#c3384c"/>
<ellipse cx="434.7" cy="627.4" rx="2.5" ry="2.0" fill="#c4394d"/>
<ellipse cx="434.7" cy="628.4" rx="2.5" ry="2.0" fill="#c43b4e"/>
<ellipse cx="434.7" cy="629.4" rx="2.5" ry="2.0" fill="#c53d50"/>
<ellipse cx="434.7" cy="630.4" rx="2.5" ry="2.0" fill="#c63e51"/>
<ellipse cx="434.7" cy="631.4" rx="2.5" ry="2.0" fill="#c64052"/>
<ellipse cx="434.7" cy="632.4" rx="2.5" ry="2.0" fill="#c74253"/>
<ellipse cx="434.7" cy="633.4" rx="2.5" ry="2.0" fill="#c74454"/>
<ellipse cx="434.7" cy="634.4" rx="2.5" ry="2.0" fill="#c84655"/>
<ellipse cx="434.7" cy="635.4" rx="2.5" ry="2.0" fill="#c94857"/>
<ellipse cx="434.7" cy="636.4" rx="2.5" ry="2.0" fill="#c94958"/>
<ellipse cx="434.7" cy="637.4" rx="2.5" ry="2.0" fill="#ca4b59"/>
<ellipse cx="434.7" cy="638.4" rx="2.5" ry="2.0" fill="#cb4d5a"/>
<ellipse cx="434.7" cy="639.4" rx="2.5" ry="2.0" fill="#cb4f5b"/>
<ellipse cx="434.7" cy="640.4" rx="2.5" ry="2.0" fill="#cc515c"/>
<ellipse cx="434.7" cy="641.4" rx="2.5" ry="2.0" fill="#cd535d"/>
<ellipse cx="434.7" cy="642.4" rx="2.5" ry="2.0" fill="#cd545f"/>
<ellipse cx="434.7" cy="643.4" rx="2.5" ry="2.0" fill="#ce5660"/>
<ellipse cx="434.7" cy="644.4" rx="2.5" ry="2.0" fill="#cf5861"/>
<ellipse cx="434.7" cy="645.4" rx="2.5" ry="2.0" fill="#cf5a62"/>
<ellipse cx="434.7" cy="646.4" rx="2.5" ry="2.0" fill="#d05c63"/>
<ellipse cx="434.7" cy="647.4" rx="2.5" ry="2.0" fill="#d05e64"/>
<ellipse cx="434.7" cy="648.4" rx="2.5" ry="2.0" fill="#d15f66"/>
<ellipse cx="434.7" cy="649.4" rx="2.5" ry="2.0" fill="#d26167"/>
<ellipse cx="434.7" cy="650.4" rx="2.5" ry="2.0" fill="#d26368"/>
<ellipse cx="434.7" cy="651.4" rx="2.5" ry="2.0" fill="#d36569"/>
<ellipse cx="434.7" cy="652.4" rx="2.5" ry="2.0" fill="#d4676a"/>
<ellipse cx="434.7" cy="653.4" rx="2.5" ry="2.0" fill="#d4686b"/>
<ellipse cx="434.7" cy="654.4" rx="2.5" ry="2.0" fill="#d56a6c"/>
<ellipse cx="434.7" cy="655.4" rx="2.5" ry="2.0" fill="#d66c6e"/>
<ellipse cx="434.7" cy="656.4" rx="2.5" ry="2.0" fill="#d66e6f"/>
<ellipse cx="434.7" cy="657.4" rx="2.5" ry="2.0" fill="#d77070"/>
<ellipse cx="434.7" cy="658.4" rx="2.5" ry="2.0" fill="#d87171"/>
<ellipse cx="434.7" cy="659.4" rx="2.5" ry="2.0" fill="#d87372"/>
<ellipse cx="434.7" cy="660.4" rx="2.5" ry="2.0" fill="#d97573"/>
<ellipse cx="434.7" cy="661.4" rx="2.5" ry="2.0" fill="#d97674"/>
<ellipse cx="434.7" cy="662.4" rx="2.5" ry="2.0" fill="#da7875"/>
<ellipse cx="434.7" cy="663.4" rx="2.5" ry="2.0" fill="#da7a76"/>
<ellipse cx="434.7" cy="664.4" rx="2.5" ry="2.0" fill="#db7b77"/>
<ellipse cx="434.7" cy="665.4" rx="2.5" ry="2.0" fill="#dc7d77"/>
<ellipse cx="434.7" cy="666.4" rx="2.5" ry="2.0" fill="#dc7e78"/>
<ellipse cx="434.7" cy="667.4" rx="2.5" ry="2.0" fill="#dd8079"/>
<ellipse cx="434.7" cy="668.4" rx="2.5" ry="2.0" fill="#dd827a"/>
<ellipse cx="434.7" cy="669.4" rx="2.5" ry="2.0" fill="#de837b"/>
<ellipse cx="434.7" cy="670.4" rx="2.5" ry="2.0" fill="#de857c"/>
<ellipse cx="434.7" cy="671.4" rx="2.5" ry="2.0" fill="#df877d"/>
<ellipse cx="475.2" cy="597.3" rx="2.5" ry="2.0" fill="#b21032"/>
<ellipse cx="475.2" cy="598.3" rx="2.5" ry="2.0" fill="#b21032"/>
<ellipse cx="475.2" cy="599.3" rx="2.5" ry="2.0" fill="#b21133"/>
<ellipse cx="475.2" cy="600.3" rx="2.5" ry="2.0" fill="#b31334"/>
<ellipse cx="475.2" cy="601.3" rx="2.5" ry="2.0" fill="#b41435"/>
<ellipse cx="475.2" cy="602.3" rx="2.5" ry="2.0" fill="#b41536"/>
<ellipse cx="475.2" cy="603.3" rx="2.5" ry="2.0" fill="#b51737"/>
<ellipse cx="475.2" cy="604.3" rx="2.5" ry="2.0" fill="#b61838"/>
<ellipse cx="475.2" cy="605.3" rx="2.5" ry="2.0" fill="#b61a38"/>
<ellipse cx="475.2" cy="606.3" rx="2.5" ry="2.0" fill="#b71b39"/>
<ellipse cx="475.2" cy="607.3" rx="2.5" ry="2.0" fill="#b71d3a"/>
<ellipse cx="475.2" cy="608.3" rx="2.5" ry="2.0" fill="#b81e3b"/>
<ellipse cx="475.2" cy="609.3" rx="2.5" ry="2.0" fill="#b91f3c"/>
<ellipse cx="475.2" cy="610.3" rx="2.5" ry="2.0" fill="#b9213d"/>
<ellipse cx="475.2" cy="611.3" rx="2.5" ry="2.0" fill="#ba223e"/>
<ellipse cx="475.2" cy="612.3" rx="2.5" ry="2.0" fill="#ba243f"/>
<ellipse cx="475.2" cy="613.3" rx="2.5" ry="2.0" fill="#bb2540"/>
<ellipse cx="475.2" cy="614.3" rx="2.5" ry="2.0" fill="#bc2641"/>
<ellipse cx="475.2" cy="615.3" rx="2.5" ry="2.0" fill="#bc2842"/>
<ellipse cx="475.2" cy="616.3" rx="2.5" ry="2.0" fill="#bd2943"/>
<ellipse cx="475.2" cy="691.5" rx="2.5" ry="2.0" fill="#eaa891"/>
<ellipse cx="475.2" cy="692.5" rx="2.5" ry="2.0" fill="#ebaa92"/>
<ellipse cx="475.2" cy="693.5" rx="2.5" ry="2.0" fill="#ebac93"/>
<ellipse cx="475.2" cy="694.5" rx="2.5" ry="2.0" fill="#ecae94"/>
<ellipse cx="475.2" cy="695.5" rx="2.5" ry="2.0" fill="#ecb095"/>
<ellipse cx="475.2" cy="696.5" rx="2.5" ry="2.0" fill="#edb196"/>
<ellipse cx="475.2" cy="697.5" rx="2.5" ry="2.0" fill="#edb397"/>
<ellipse cx="475.2" cy="698.5" rx="2.5" ry="2.0" fill="#eeb598"/>
<ellipse cx="475.2" cy="699.5" rx="2.5" ry="2.0" fill="#eeb79a"/>
<ellipse cx="475.2" cy="700.5" rx="2.5" ry="2.0" fill="#efb99b"/>
<ellipse cx="475.2" cy="701.5" rx="2.5" ry="2.0" fill="#efbb9c"/>
<ellipse cx="475.2" cy="702.5" rx="2.5" ry="2.0" fill="#f0bc9d"/>
<ellipse cx="475.2" cy="703.5" rx="2.5" ry="2.0" fill="#f0be9e"/>
<ellipse cx="475.2" cy="704.5" rx="2.5" ry="2.0" fill="#f1c09f"/>
<ellipse cx="475.2" cy="705.5" rx="2.5" ry="2.0" fill="#f1c2a0"/>
<ellipse cx="475.2" cy="706.5" rx="2.5" ry="2.0" fill="#f2c4a1"/>
<ellipse cx="475.2" cy="707.5" rx="2.5" ry="2.0" fill="#f2c6a2"/>
<ellipse cx="475.2" cy="708.5" rx="2.5" ry="2.0" fill="#f3c7a3"/>
<ellipse cx="475.2" cy="709.5" rx="2.5" ry="2.0" fill="#f3c9a4"/>
<ellipse cx="475.2" cy="710.5" rx="2.5" ry="2.0" fill="#f4cba5"/>
<ellipse cx="475.2" cy="711.5" rx="2.5" ry="2.0" fill="#f4cda7"/>
<ellipse cx="475.2" cy="712.5" rx="2.5" ry="2.0" fill="#f5cfa8"/>
<ellipse cx="475.2" cy="713.5" rx="2.5" ry="2.0" fill="#f5d1a9"/>
<ellipse cx="475.2" cy="714.5" rx="2.5" ry="2.0" fill="#f6d2aa"/>
<ellipse cx="475.2" cy="715.5" rx="2.5" ry="2.0" fill="#f6d4ab"/>
<ellipse cx="475.2" cy="716.5" rx="2.5" ry="2.0" fill="#f7d6ac"/>
<ellipse cx="475.2" cy="717.5" rx="2.5" ry="2.0" fill="#f7d7ad"/>
<ellipse cx="475.2" cy="718.5" rx="2.5" ry="2.0" fill="#f8d8ae"/>
<ellipse cx="475.2" cy="719.5" rx="2.5" ry="2.0" fill="#f8d9af"/>
<ellipse cx="475.2" cy="720.5" rx="2.5" ry="2.0" fill="#f8dbb0"/>
<ellipse cx="475.2" cy="721.5" rx="2.5" ry="2.0" fill="#f8dcb2"/>
<ellipse cx="475.2" cy="722.5" rx="2.5" ry="2.0" fill="#f9ddb3"/>
<ellipse cx="475.2" cy="723.5" rx="2.5" ry="2.0" fill="#f9deb4"/>
<ellipse cx="475.2" cy="724.5" rx="2.5" ry="2.0" fill="#f9dfb5"/>
<ellipse cx="475.2" cy="725.5" rx="2.5" ry="2.0" fill="#f9e0b6"/>
<ellipse cx="475.2" cy="726.5" rx="2.5" ry="2.0" fill="#fae2b7"/>
<ellipse cx="475.2" cy="727.5" rx="2.5" ry="2.0" fill="#fae3b8"/>
<ellipse cx="475.2" cy="728.5" rx="2.5" ry="2.0" fill="#fae4b9"/>
<ellipse cx="475.2" cy="729.5" rx="2.5" ry="2.0" fill="#fbe5bb"/>
<ellipse cx="475.2" cy="730.5" rx="2.5" ry="2.0" fill="#fbe6bc"/>
<ellipse cx="475.2" cy="731.5" rx="2.5" ry="2.0" fill="#fbe7bd"/>
<ellipse cx="475.2" cy="732.5" rx="2.5" ry="2.0" fill="#fbe8be"/>
<ellipse cx="475.2" cy="733.5" rx="2.5" ry="2.0" fill="#fceabf"/>
<ellipse cx="475.2" cy="734.5" rx="2.5" ry="2.0" fill="#fcebc0"/>
<ellipse cx="475.2" cy="735.5" rx="2.5" ry="2.0" fill="#fcecc1"/>
<ellipse cx="475.2" cy="736.5" rx="2.5" ry="2.0" fill="#fcedc2"/>
<ellipse cx="475.2" cy="737.5" rx="2.5" ry="2.0" fill="#fdeec3"/>
<ellipse cx="475.2" cy="738.5" rx="2.5" ry="2.0" fill="#fdefc5"/>
<ellipse cx="475.2" cy="739.5" rx="2.5" ry="2.0" fill="#fdf1c6"/>
<ellipse cx="475.2" cy="740.5" rx="2.5" ry="2.0" fill="#fef2c7"/>
<ellipse cx="475.2" cy="741.5" rx="2.5" ry="2.0" fill="#fef3c8"/>
<ellipse cx="475.2" cy="742.5" rx="2.5" ry="2.0" fill="#fef4c9"/>
<ellipse cx="475.2" cy="743.5" rx="2.5" ry="2.0" fill="#fef5ca"/>
<ellipse cx="475.2" cy="744.5" rx="2.5" ry="2.0" fill="#fff6cb"/>
<ellipse cx="515.7" cy="604.5" rx="2.5" ry="2.0" fill="#b61938"/>
<ellipse cx="515.7" cy="605.5" rx="2.5" ry="2.0" fill="#b61a39"/>
<ellipse cx="515.7" cy="606.5" rx="2.5" ry="2.0" fill="#b71b3a"/>
<ellipse cx="515.7" cy="607.5" rx="2.5" ry="2.0" fill="#b71d3b"/>
<ellipse cx="515.7" cy="608.5" rx="2.5" ry="2.0" fill="#b81e3b"/>
<ellipse cx="515.7" cy="609.5" rx="2.5" ry="2.0" fill="#b9203c"/>
<ellipse cx="515.7" cy="610.5" rx="2.5" ry="2.0" fill="#b9213d"/>
<ellipse cx="515.7" cy="611.5" rx="2.5" ry="2.0" fill="#ba233e"/>
<ellipse cx="515.7" cy="612.5" rx="2.5" ry="2.0" fill="#bb243f"/>
<ellipse cx="515.7" cy="613.5" rx="2.5" ry="2.0" fill="#bb2540"/>
<ellipse cx="515.7" cy="614.5" rx="2.5" ry="2.0" fill="#bc2741"/>
<ellipse cx="515.7" cy="615.5" rx="2.5" ry="2.0" fill="#bc2842"/>
<ellipse cx="515.7" cy="616.5" rx="2.5" ry="2.0" fill="#bd2a43"/>
<ellipse cx="515.7" cy="617.5" rx="2.5" ry="2.0" fill="#be2b44"/>
<ellipse cx="515.7" cy="618.5" rx="2.5" ry="2.0" fill="#be2c45"/>
<ellipse cx="515.7" cy="619.5" rx="2.5" ry="2.0" fill="#bf2e46"/>
<ellipse cx="515.7" cy="620.5" rx="2.5" ry="2.0" fill="#bf2f47"/>
<ellipse cx="515.7" cy="621.5" rx="2.5" ry="2.0" fill="#c03148"/>
<ellipse cx="515.7" cy="622.5" rx="2.5" ry="2.0" fill="#c13249"/>
<ellipse cx="515.7" cy="623.5" rx="2.5" ry="2.0" fill="#c1344a"/>
<ellipse cx="515.7" cy="624.5" rx="2.5" ry="2.0" fill="#c2354b"/>
<ellipse cx="515.7" cy="625.5" rx="2.5" ry="2.0" fill="#c2364c"/>
<ellipse cx="515.7" cy="626.5" rx="2.5" ry="2.0" fill="#c3384d"/>
<ellipse cx="515.7" cy="627.5" rx="2.5" ry="2.0" fill="#c4394e"/>
<ellipse cx="515.7" cy="628.5" rx="2.5" ry="2.0" fill="#c43b4f"/>
<ellipse cx="515.7" cy="629.5" rx="2.5" ry="2.0" fill="#c53d50"/>
<ellipse cx="515.7" cy="630.5" rx="2.5" ry="2.0" fill="#c63f51"/>
<ellipse cx="515.7" cy="631.5" rx="2.5" ry="2.0" fill="#c64052"/>
<ellipse cx="515.7" cy="632.5" rx="2.5" ry="2.0" fill="#c74253"/>
<ellipse cx="515.7" cy="633.5" rx="2.5" ry="2.0" fill="#c84454"/>
<ellipse cx="515.7" cy="634.5" rx="2.5" ry="2.0" fill="#c84655"/>
<ellipse cx="515.7" cy="635.5" rx="2.5" ry="2.0" fill="#c94857"/>
<ellipse cx="515.7" cy="636.5" rx="2.5" ry="2.0" fill="#c94a58"/>
<ellipse cx="515.7" cy="637.5" rx="2.5" ry="2.0" fill="#ca4b59"/>
<ellipse cx="515.7" cy="638.5" rx="2.5" ry="2.0" fill="#cb4d5a"/>
<ellipse cx="515.7" cy="639.5" rx="2.5" ry="2.0" fill="#cb4f5b"/>
<ellipse cx="515.7" cy="640.5" rx="2.5" ry="2.0" fill="#cc515c"/>
<ellipse cx="515.7" cy="641.5" rx="2.5" ry="2.0" fill="#cd535e"/>
<ellipse cx="515.7" cy="642.5" rx="2.5" ry="2.0" fill="#cd555f"/>
<ellipse cx="515.7" cy="643.5" rx="2.5" ry="2.0" fill="#ce5660"/>
<ellipse cx="515.7" cy="644.5" rx="2.5" ry="2.0" fill="#cf5861"/>
<ellipse cx="515.7" cy="645.5" rx="2.5" ry="2.0" fill="#cf5a62"/>
<ellipse cx="515.7" cy="646.5" rx="2.5" ry="2.0" fill="#d05c63"/>
<ellipse cx="515.7" cy="647.5" rx="2.5" ry="2.0" fill="#d15e64"/>
<ellipse cx="515.7" cy="648.5" rx="2.5" ry="2.0" fill="#d16066"/>
<ellipse cx="515.7" cy="649.5" rx="2.5" ry="2.0" fill="#d26167"/>
<ellipse cx="515.7" cy="650.5" rx="2.5" ry="2.0" fill="#d26368"/>
<ellipse cx="515.7" cy="651.5" rx="2.5" ry="2.0" fill="#d36569"/>
<ellipse cx="515.7" cy="652.5" rx="2.5" ry="2.0" fill="#d4676a"/>
<ellipse cx="515.7" cy="653.5" rx="2.5" ry="2.0" fill="#d4696b"/>
<ellipse cx="515.7" cy="654.5" rx="2.5" ry="2.0" fill="#d56b6d"/>
<ellipse cx="515.7" cy="655.5" rx="2.5" ry="2.0" fill="#d66c6e"/>
<ellipse cx="515.7" cy="656.5" rx="2.5" ry="2.0" fill="#d66e6f"/>
<ellipse cx="515.7" cy="657.5" rx="2.5" ry="2.0" fill="#d77070"/>
<ellipse cx="515.7" cy="658.5" rx="2.5" ry="2.0" fill="#d87271"/>
<ellipse cx="515.7" cy="659.5" rx="2.5" ry="2.0" fill="#d87372"/>
<ellipse cx="515.7" cy="660.5" rx="2.5" ry="2.0" fill="#d97573"/>
<ellipse cx="515.7" cy="661.5" rx="2.5" ry="2.0" fill="#d97774"/>
<ellipse cx="515.7" cy="662.5" rx="2.5" ry="2.0" fill="#da7875"/>
<ellipse cx="515.7" cy="663.5" rx="2.5" ry="2.0" fill="#da7a76"/>
<ellipse cx="515.7" cy="664.5" rx="2.5" ry="2.0" fill="#db7b77"/>
<ellipse cx="515.7" cy="665.5" rx="2.5" ry="2.0" fill="#dc7d78"/>
<ellipse cx="515.7" cy="666.5" rx="2.5" ry="2.0" fill="#dc7f79"/>
<ellipse cx="515.7" cy="667.5" rx="2.5" ry="2.0" fill="#dd8079"/>
<ellipse cx="515.7" cy="668.5" rx="2.5" ry="2.0" fill="#dd827a"/>
<ellipse cx="515.7" cy="669.5" rx="2.5" ry="2.0" fill="#de847b"/>
<ellipse cx="515.7" cy="670.5" rx="2.5" ry="2.0" fill="#de857c"/>
<ellipse cx="515.7" cy="671.5" rx="2.5" ry="2.0" fill="#df877d"/>
<ellipse cx="515.7" cy="672.5" rx="2.5" ry="2.0" fill="#e0887e"/>
<ellipse cx="515.7" cy="673.5" rx="2.5" ry="2.0" fill="#e08a7f"/>
<ellipse cx="515.7" cy="674.5" rx="2.5" ry="2.0" fill="#e18c80"/>
<ellipse cx="515.7" cy="675.5" rx="2.5" ry="2.0" fill="#e18d81"/>
<ellipse cx="515.7" cy="676.5" rx="2.5" ry="2.0" fill="#e28f82"/>
<ellipse cx="515.7" cy="677.5" rx="2.5" ry="2.0" fill="#e39183"/>
<ellipse cx="515.7" cy="678.5" rx="2.5" ry="2.0" fill="#e39284"/>
<ellipse cx="515.7" cy="679.5" rx="2.5" ry="2.0" fill="#e49485"/>
<ellipse cx="515.7" cy="680.5" rx="2.5" ry="2.0" fill="#e49586"/>
<ellipse cx="515.7" cy="681.5" rx="2.5" ry="2.0" fill="#e59787"/>
<ellipse cx="515.7" cy="682.5" rx="2.5" ry="2.0" fill="#e59988"/>
<ellipse cx="515.7" cy="683.5" rx="2.5" ry="2.0" fill="#e69a89"/>
<ellipse cx="515.7" cy="684.5" rx="2.5" ry="2.0" fill="#e79c8a"/>
<ellipse cx="515.7" cy="685.5" rx="2.5" ry="2.0" fill="#e79e8b"/>
<ellipse cx="515.7" cy="686.5" rx="2.5" ry="2.0" fill="#e89f8c"/>
<ellipse cx="515.7" cy="687.5" rx="2.5" ry="2.0" fill="#e8a18d"/>
<ellipse cx="556.2" cy="641.3" rx="2.5" ry="2.0" fill="#cd525d"/>
<ellipse cx="556.2" cy="642.3" rx="2.5" ry="2.0" fill="#cd545e"/>
<ellipse cx="556.2" cy="643.3" rx="2.5" ry="2.0" fill="#ce5660"/>
<ellipse cx="556.2" cy="644.3" rx="2.5" ry="2.0" fill="#ce5861"/>
<ellipse cx="556.2" cy="645.3" rx="2.5" ry="2.0" fill="#cf5a62"/>
<ellipse cx="556.2" cy="646.3" rx="2.5" ry="2.0" fill="#d05b63"/>
<ellipse cx="556.2" cy="647.3" rx="2.5" ry="2.0" fill="#d05d64"/>
<ellipse cx="556.2" cy="648.3" rx="2.5" ry="2.0" fill="#d15f65"/>
<ellipse cx="556.2" cy="649.3" rx="2.5" ry="2.0" fill="#d26167"/>
<ellipse cx="556.2" cy="650.3" rx="2.5" ry="2.0" fill="#d26368"/>
<ellipse cx="556.2" cy="651.3" rx="2.5" ry="2.0" fill="#d36569"/>
<ellipse cx="556.2" cy="652.3" rx="2.5" ry="2.0" fill="#d4666a"/>
<ellipse cx="556.2" cy="653.3" rx="2.5" ry="2.0" fill="#d4686b"/>
<ellipse cx="556.2" cy="654.3" rx="2.5" ry="2.0" fill="#d56a6c"/>
<ellipse cx="556.2" cy="655.3" rx="2.5" ry="2.0" fill="#d66c6d"/>
<ellipse cx="556.2" cy="656.3" rx="2.5" ry="2.0" fill="#d66e6f"/>
<ellipse cx="556.2" cy="657.3" rx="2.5" ry="2.0" fill="#d77070"/>
<ellipse cx="556.2" cy="658.3" rx="2.5" ry="2.0" fill="#d77171"/>
<ellipse cx="556.2" cy="659.3" rx="2.5" ry="2.0" fill="#d87372"/>
<ellipse cx="556.2" cy="660.3" rx="2.5" ry="2.0" fill="#d97573"/>
<ellipse cx="556.2" cy="661.3" rx="2.5" ry="2.0" fill="#d97674"/>
<ellipse cx="556.2" cy="662.3" rx="2.5" ry="2.0" fill="#da7875"/>
<ellipse cx="556.2" cy="663.3" rx="2.5" ry="2.0" fill="#da7976"/>
<ellipse cx="556.2" cy="664.3" rx="2.5" ry="2.0" fill="#db7b76"/>
<ellipse cx="556.2" cy="665.3" rx="2.5" ry="2.0" fill="#db7d77"/>
<ellipse cx="556.2" cy="666.3" rx="2.5" ry="2.0" fill="#dc7e78"/>
<ellipse cx="556.2" cy="667.3" rx="2.5" ry="2.0" fill="#dd8079"/>
<ellipse cx="556.2" cy="668.3" rx="2.5" ry="2.0" fill="#dd827a"/>
<ellipse cx="556.2" cy="669.3" rx="2.5" ry="2.0" fill="#de837b"/>
<ellipse cx="556.2" cy="670.3" rx="2.5" ry="2.0" fill="#de857c"/>
<ellipse cx="556.2" cy="671.3" rx="2.5" ry="2.0" fill="#df867d"/>
<ellipse cx="556.2" cy="672.3" rx="2.5" ry="2.0" fill="#e0887e"/>
<ellipse cx="556.2" cy="673.3" rx="2.5" ry="2.0" fill="#e08a7f"/>
<ellipse cx="556.2" cy="674.3" rx="2.5" ry="2.0" fill="#e18b80"/>
<ellipse cx="556.2" cy="675.3" rx="2.5" ry="2.0" fill="#e18d81"/>
<ellipse cx="556.2" cy="676.3" rx="2.5" ry="2.0" fill="#e28f82"/>
<ellipse cx="556.2" cy="677.3" rx="2.5" ry="2.0" fill="#e29083"/>
<ellipse cx="556.2" cy="678.3" rx="2.5" ry="2.0" fill="#e39284"/>
<ellipse cx="556.2" cy="679.3" rx="2.5" ry="2.0" fill="#e49385"/>
<ellipse cx="556.2" cy="680.3" rx="2.5" ry="2.0" fill="#e49586"/>
<ellipse cx="556.2" cy="681.3" rx="2.5" ry="2.0" fill="#e59787"/>
<ellipse cx="556.2" cy="682.3" rx="2.5" ry="2.0" fill="#e59888"/>
<ellipse cx="556.2" cy="683.3" rx="2.5" ry="2.0" fill="#e69a88"/>
<ellipse cx="556.2" cy="684.3" rx="2.5" ry="2.0" fill="#e69c89"/>
<ellipse cx="556.2" cy="685.3" rx="2.5" ry="2.0" fill="#e79d8a"/>
<ellipse cx="556.2" cy="686.3" rx="2.5" ry="2.0" fill="#e89f8b"/>
<ellipse cx="556.2" cy="687.3" rx="2.5" ry="2.0" fill="#e8a18c"/>
<ellipse cx="556.2" cy="688.3" rx="2.5" ry="2.0" fill="#e9a28d"/>
<ellipse cx="556.2" cy="689.3" rx="2.5" ry="2.0" fill="#e9a48e"/>
<ellipse cx="556.2" cy="690.3" rx="2.5" ry="2.0" fill="#eaa690"/>
<ellipse cx="556.2" cy="691.3" rx="2.5" ry="2.0" fill="#eaa891"/>
<ellipse cx="556.2" cy="692.3" rx="2.5" ry="2.0" fill="#ebaa92"/>
<ellipse cx="556.2" cy="693.3" rx="2.5" ry="2.0" fill="#ebac93"/>
<ellipse cx="556.2" cy="694.3" rx="2.5" ry="2.0" fill="#ecad94"/>
<ellipse cx="556.2" cy="695.3" rx="2.5" ry="2.0" fill="#ecaf95"/>
<ellipse cx="556.2" cy="696.3" rx="2.5" ry="2.0" fill="#edb196"/>
<ellipse cx="556.2" cy="697.3" rx="2.5" ry="2.0" fill="#edb397"/>
<ellipse cx="556.2" cy="698.3" rx="2.5" ry="2.0" fill="#eeb598"/>
<ellipse cx="556.2" cy="699.3" rx="2.5" ry="2.0" fill="#eeb799"/>
<ellipse cx="556.2" cy="700.3" rx="2.5" ry="2.0" fill="#efb89a"/>
<ellipse cx="556.2" cy="701.3" rx="2.5" ry="2.0" fill="#efba9c"/>
<ellipse cx="556.2" cy="702.3" rx="2.5" ry="2.0" fill="#f0bc9d"/>
<ellipse cx="556.2" cy="703.3" rx="2.5" ry="2.0" fill="#f0be9e"/>
<ellipse cx="556.2" cy="704.3" rx="2.5" ry="2.0" fill="#f1c09f"/>
<ellipse cx="556.2" cy="705.3" rx="2.5" ry="2.0" fill="#f1c1a0"/>
<ellipse cx="556.2" cy="706.3" rx="2.5" ry="2.0" fill="#f2c3a1"/>
<ellipse cx="556.2" cy="707.3" rx="2.5" ry="2.0" fill="#f2c5a2"/>
<ellipse cx="556.2" cy="708.3" rx="2.5" ry="2.0" fill="#f3c7a3"/>
<ellipse cx="556.2" cy="709.3" rx="2.5" ry="2.0" fill="#f3c9a4"/>
<ellipse cx="556.2" cy="710.3" rx="2.5" ry="2.0" fill="#f4cba5"/>
<ellipse cx="556.2" cy="711.3" rx="2.5" ry="2.0" fill="#f4cca6"/>
<ellipse cx="556.2" cy="712.3" rx="2.5" ry="2.0" fill="#f5cea7"/>
<ellipse cx="556.2" cy="713.3" rx="2.5" ry="2.0" fill="#f5d0a9"/>
<ellipse cx="556.2" cy="714.3" rx="2.5" ry="2.0" fill="#f6d2aa"/>
<ellipse cx="556.2" cy="715.3" rx="2.5" ry="2.0" fill="#f6d4ab"/>
<ellipse cx="556.2" cy="716.3" rx="2.5" ry="2.0" fill="#f7d6ac"/>
<ellipse cx="556.2" cy="717.3" rx="2.5" ry="2.0" fill="#f7d7ad"/>
<ellipse cx="556.2" cy="718.3" rx="2.5" ry="2.0" fill="#f7d8ae"/>
<ellipse cx="556.2" cy="719.3" rx="2.5" ry="2.0" fill="#f8d9af"/>
<ellipse cx="556.2" cy="720.3" rx="2.5" ry="2.0" fill="#f8dab0"/>
<ellipse cx="556.2" cy="721.3" rx="2.5" ry="2.0" fill="#f8dcb1"/>
<ellipse cx="556.2" cy="722.3" rx="2.5" ry="2.0" fill="#f9ddb2"/>
<ellipse cx="556.2" cy="723.3" rx="2.5" ry="2.0" fill="#f9deb4"/>
<ellipse cx="556.2" cy="724.3" rx="2.5" ry="2.0" fill="#f9dfb5"/>
<ellipse cx="556.2" cy="725.3" rx="2.5" ry="2.0" fill="#f9e0b6"/>
<ellipse cx="596.6" cy="596.8" rx="2.5" ry="2.0" fill="#b21032"/>
<ellipse cx="596.6" cy="597.8" rx="2.5" ry="2.0" fill="#b21032"/>
<ellipse cx="596.6" cy="598.8" rx="2.5" ry="2.0" fill="#b21032"/>
<ellipse cx="596.6" cy="599.8" rx="2.5" ry="2.0" fill="#b31233"/>
<ellipse cx="596.6" cy="600.8" rx="2.5" ry="2.0" fill="#b31334"/>
<ellipse cx="596.6" cy="601.8" rx="2.5" ry="2.0" fill="#b41535"/>
<ellipse cx="596.6" cy="602.8" rx="2.5" ry="2.0" fill="#b51636"/>
<ellipse cx="596.6" cy="603.8" rx="2.5" ry="2.0" fill="#b51837"/>
<ellipse cx="596.6" cy="604.8" rx="2.5" ry="2.0" fill="#b61938"/>
<ellipse cx="596.6" cy="605.8" rx="2.5" ry="2.0" fill="#b61a39"/>
<ellipse cx="596.6" cy="606.8" rx="2.5" ry="2.0" fill="#b71c3a"/>
<ellipse cx="596.6" cy="607.8" rx="2.5" ry="2.0" fill="#b81d3b"/>
<ellipse cx="596.6" cy="608.8" rx="2.5" ry="2.0" fill="#b81f3c"/>
<ellipse cx="596.6" cy="609.8" rx="2.5" ry="2.0" fill="#b9203d"/>
<ellipse cx="596.6" cy="610.8" rx="2.5" ry="2.0" fill="#ba223e"/>
<ellipse cx="596.6" cy="611.8" rx="2.5" ry="2.0" fill="#ba233f"/>
<ellipse cx="596.6" cy="612.8" rx="2.5" ry="2.0" fill="#bb2440"/>
<ellipse cx="596.6" cy="613.8" rx="2.5" ry="2.0" fill="#bb2641"/>
<ellipse cx="596.6" cy="614.8" rx="2.5" ry="2.0" fill="#bc2741"/>
<ellipse cx="596.6" cy="615.8" rx="2.5" ry="2.0" fill="#bd2942"/>
<ellipse cx="596.6" cy="616.8" rx="2.5" ry="2.0" fill="#bd2a43"/>
<ellipse cx="596.6" cy="617.8" rx="2.5" ry="2.0" fill="#be2b44"/>
<ellipse cx="596.6" cy="618.8" rx="2.5" ry="2.0" fill="#be2d45"/>
<ellipse cx="596.6" cy="619.8" rx="2.5" ry="2.0" fill="#bf2e46"/>
<ellipse cx="596.6" cy="620.8" rx="2.5" ry="2.0" fill="#c03047"/>
<ellipse cx="596.6" cy="621.8" rx="2.5" ry="2.0" fill="#c03148"/>
<ellipse cx="596.6" cy="622.8" rx="2.5" ry="2.0" fill="#c13349"/>
<ellipse cx="596.6" cy="623.8" rx="2.5" ry="2.0" fill="#c1344a"/>
<ellipse cx="596.6" cy="624.8" rx="2.5" ry="2.0" fill="#c2354b"/>
<ellipse cx="596.6" cy="625.8" rx="2.5" ry="2.0" fill="#c3374c"/>
<ellipse cx="596.6" cy="626.8" rx="2.5" ry="2.0" fill="#c3384d"/>
<ellipse cx="596.6" cy="627.8" rx="2.5" ry="2.0" fill="#c43a4e"/>
<ellipse cx="596.6" cy="628.8" rx="2.5" ry="2.0" fill="#c53b4f"/>
<ellipse cx="596.6" cy="629.8" rx="2.5" ry="2.0" fill="#c53d50"/>
<ellipse cx="596.6" cy="630.8" rx="2.5" ry="2.0" fill="#c63f51"/>
<ellipse cx="596.6" cy="631.8" rx="2.5" ry="2.0" fill="#c64152"/>
<ellipse cx="596.6" cy="695.7" rx="2.5" ry="2.0" fill="#ecb095"/>
<ellipse cx="596.6" cy="696.7" rx="2.5" ry="2.0" fill="#edb297"/>
<ellipse cx="596.6" cy="697.7" rx="2.5" ry="2.0" fill="#edb498"/>
<ellipse cx="596.6" cy="698.7" rx="2.5" ry="2.0" fill="#eeb599"/>
<ellipse cx="596.6" cy="699.7" rx="2.5" ry="2.0" fill="#eeb79a"/>
<ellipse cx="596.6" cy="700.7" rx="2.5" ry="2.0" fill="#efb99b"/>
<ellipse cx="596.6" cy="701.7" rx="2.5" ry="2.0" fill="#efbb9c"/>
<ellipse cx="596.6" cy="702.7" rx="2.5" ry="2.0" fill="#f0bd9d"/>
<ellipse cx="596.6" cy="703.7" rx="2.5" ry="2.0" fill="#f0bf9e"/>
<ellipse cx="596.6" cy="704.7" rx="2.5" ry="2.0" fill="#f1c09f"/>
<ellipse cx="596.6" cy="705.7" rx="2.5" ry="2.0" fill="#f2c2a0"/>
<ellipse cx="596.6" cy="706.7" rx="2.5" ry="2.0" fill="#f2c4a1"/>
<ellipse cx="596.6" cy="707.7" rx="2.5" ry="2.0" fill="#f3c6a2"/>
<ellipse cx="596.6" cy="708.7" rx="2.5" ry="2.0" fill="#f3c8a4"/>
<ellipse cx="596.6" cy="709.7" rx="2.5" ry="2.0" fill="#f4caa5"/>
<ellipse cx="596.6" cy="710.7" rx="2.5" ry="2.0" fill="#f4cba6"/>
<ellipse cx="596.6" cy="711.7" rx="2.5" ry="2.0" fill="#f5cda7"/>
<ellipse cx="596.6" cy="712.7" rx="2.5" ry="2.0" fill="#f5cfa8"/>
<ellipse cx="596.6" cy="713.7" rx="2.5" ry="2.0" fill="#f6d1a9"/>
<ellipse cx="596.6" cy="714.7" rx="2.5" ry="2.0" fill="#f6d3aa"/>
<ellipse cx="596.6" cy="715.7" rx="2.5" ry="2.0" fill="#f7d5ab"/>
<ellipse cx="596.6" cy="716.7" rx="2.5" ry="2.0" fill="#f7d6ac"/>
<ellipse cx="596.6" cy="717.7" rx="2.5" ry="2.0" fill="#f7d7ad"/>
<ellipse cx="596.6" cy="718.7" rx="2.5" ry="2.0" fill="#f8d9ae"/>
<ellipse cx="596.6" cy="719.7" rx="2.5" ry="2.0" fill="#f8dab0"/>
<ellipse cx="596.6" cy="720.7" rx="2.5" ry="2.0" fill="#f8dbb1"/>
<ellipse cx="596.6" cy="721.7" rx="2.5" ry="2.0" fill="#f8dcb2"/>
<ellipse cx="596.6" cy="722.7" rx="2.5" ry="2.0" fill="#f9ddb3"/>
<ellipse cx="596.6" cy="723.7" rx="2.5" ry="2.0" fill="#f9deb4"/>
<ellipse cx="596.6" cy="724.7" rx="2.5" ry="2.0" fill="#f9dfb5"/>
<ellipse cx="596.6" cy="725.7" rx="2.5" ry="2.0" fill="#f9e1b6"/>
<ellipse cx="596.6" cy="726.7" rx="2.5" ry="2.0" fill="#fae2b7"/>
<ellipse cx="596.6" cy="727.7" rx="2.5" ry="2.0" fill="#fae3b9"/>
<ellipse cx="596.6" cy="728.7" rx="2.5" ry="2.0" fill="#fae4ba"/>
<ellipse cx="596.6" cy="729.7" rx="2.5" ry="2.0" fill="#fbe5bb"/>
<ellipse cx="596.6" cy="730.7" rx="2.5" ry="2.0" fill="#fbe6bc"/>
<ellipse cx="596.6" cy="731.7" rx="2.5" ry="2.0" fill="#fbe8bd"/>
<ellipse cx="596.6" cy="732.7" rx="2.5" ry="2.0" fill="#fbe9be"/>
<ellipse cx="596.6" cy="733.7" rx="2.5" ry="2.0" fill="#fceabf"/>
<ellipse cx="596.6" cy="734.7" rx="2.5" ry="2.0" fill="#fcebc0"/>
<ellipse cx="596.6" cy="735.7" rx="2.5" ry="2.0" fill="#fcecc1"/>
<ellipse cx="596.6" cy="736.7" rx="2.5" ry="2.0" fill="#fcedc3"/>
<ellipse cx="596.6" cy="737.7" rx="2.5" ry="2.0" fill="#fdeec4"/>
<ellipse cx="596.6" cy="738.7" rx="2.5" ry="2.0" fill="#fdf0c5"/>
<ellipse cx="596.6" cy="739.7" rx="2.5" ry="2.0" fill="#fdf1c6"/>
<ellipse cx="596.6" cy="740.7" rx="2.5" ry="2.0" fill="#fef2c7"/>
<ellipse cx="596.6" cy="741.7" rx="2.5" ry="2.0" fill="#fef3c8"/>
<ellipse cx="596.6" cy="742.7" rx="2.5" ry="2.0" fill="#fef4c9"/>
<ellipse cx="596.6" cy="743.7" rx="2.5" ry="2.0" fill="#fef5ca"/>
<ellipse cx="637.1" cy="613.2" rx="2.5" ry="2.0" fill="#bb2540"/>
<ellipse cx="637.1" cy="614.2" rx="2.5" ry="2.0" fill="#bc2641"/>
<ellipse cx="637.1" cy="615.2" rx="2.5" ry="2.0" fill="#bc2842"/>
<ellipse cx="637.1" cy="616.2" rx="2.5" ry="2.0" fill="#bd2943"/>
<ellipse cx="637.1" cy="617.2" rx="2.5" ry="2.0" fill="#bd2b44"/>
<ellipse cx="637.1" cy="618.2" rx="2.5" ry="2.0" fill="#be2c45"/>
<ellipse cx="637.1" cy="619.2" rx="2.5" ry="2.0" fill="#bf2d46"/>
<ellipse cx="637.1" cy="620.2" rx="2.5" ry="2.0" fill="#bf2f47"/>
<ellipse cx="637.1" cy="621.2" rx="2.5" ry="2.0" fill="#c03048"/>
<ellipse cx="637.1" cy="622.2" rx="2.5" ry="2.0" fill="#c03248"/>
<ellipse cx="637.1" cy="623.2" rx="2.5" ry="2.0" fill="#c13349"/>
<ellipse cx="637.1" cy="624.2" rx="2.5" ry="2.0" fill="#c2354a"/>
<ellipse cx="637.1" cy="625.2" rx="2.5" ry="2.0" fill="#c2364b"/>
<ellipse cx="637.1" cy="626.2" rx="2.5" ry="2.0" fill="#c3374c"/>
<ellipse cx="637.1" cy="627.2" rx="2.5" ry="2.0" fill="#c4394d"/>
<ellipse cx="637.1" cy="628.2" rx="2.5" ry="2.0" fill="#c43a4e"/>
<ellipse cx="637.1" cy="629.2" rx="2.5" ry="2.0" fill="#c53c4f"/>
<ellipse cx="637.1" cy="630.2" rx="2.5" ry="2.0" fill="#c53e51"/>
<ellipse cx="637.1" cy="631.2" rx="2.5" ry="2.0" fill="#c64052"/>
<ellipse cx="637.1" cy="632.2" rx="2.5" ry="2.0" fill="#c74253"/>
<ellipse cx="637.1" cy="633.2" rx="2.5" ry="2.0" fill="#c74454"/>
<ellipse cx="637.1" cy="634.2" rx="2.5" ry="2.0" fill="#c84555"/>
<ellipse cx="637.1" cy="635.2" rx="2.5" ry="2.0" fill="#c94756"/>
<ellipse cx="637.1" cy="636.2" rx="2.5" ry="2.0" fill="#c94957"/>
<ellipse cx="637.1" cy="637.2" rx="2.5" ry="2.0" fill="#ca4b59"/>
<ellipse cx="637.1" cy="638.2" rx="2.5" ry="2.0" fill="#cb4d5a"/>
<ellipse cx="637.1" cy="639.2" rx="2.5" ry="2.0" fill="#cb4f5b"/>
<ellipse cx="637.1" cy="640.2" rx="2.5" ry="2.0" fill="#cc505c"/>
<ellipse cx="637.1" cy="641.2" rx="2.5" ry="2.0" fill="#cd525d"/>
<ellipse cx="637.1" cy="642.2" rx="2.5" ry="2.0" fill="#cd545e"/>
<ellipse cx="637.1" cy="643.2" rx="2.5" ry="2.0" fill="#ce5660"/>
<ellipse cx="637.1" cy="644.2" rx="2.5" ry="2.0" fill="#ce5861"/>
<ellipse cx="637.1" cy="645.2" rx="2.5" ry="2.0" fill="#cf5962"/>
<ellipse cx="637.1" cy="646.2" rx="2.5" ry="2.0" fill="#d05b63"/>
<ellipse cx="637.1" cy="647.2" rx="2.5" ry="2.0" fill="#d05d64"/>
<ellipse cx="637.1" cy="648.2" rx="2.5" ry="2.0" fill="#d15f65"/>
<ellipse cx="637.1" cy="649.2" rx="2.5" ry="2.0" fill="#d26166"/>
<ellipse cx="637.1" cy="650.2" rx="2.5" ry="2.0" fill="#d26368"/>
<ellipse cx="637.1" cy="651.2" rx="2.5" ry="2.0" fill="#d36469"/>
<ellipse cx="637.1" cy="652.2" rx="2.5" ry="2.0" fill="#d4666a"/>
<ellipse cx="637.1" cy="653.2" rx="2.5" ry="2.0" fill="#d4686b"/>
<ellipse cx="637.1" cy="654.2" rx="2.5" ry="2.0" fill="#d56a6c"/>
<ellipse cx="637.1" cy="655.2" rx="2.5" ry="2.0" fill="#d66c6d"/>
<ellipse cx="637.1" cy="656.2" rx="2.5" ry="2.0" fill="#d66e6f"/>
<ellipse cx="637.1" cy="657.2" rx="2.5" ry="2.0" fill="#d76f70"/>
<ellipse cx="637.1" cy="658.2" rx="2.5" ry="2.0" fill="#d77171"/>
<ellipse cx="637.1" cy="659.2" rx="2.5" ry="2.0" fill="#d87372"/>
<ellipse cx="637.1" cy="660.2" rx="2.5" ry="2.0" fill="#d97473"/>
<ellipse cx="637.1" cy="661.2" rx="2.5" ry="2.0" fill="#d97674"/>
<ellipse cx="637.1" cy="662.2" rx="2.5" ry="2.0" fill="#da7874"/>
<ellipse cx="637.1" cy="663.2" rx="2.5" ry="2.0" fill="#da7975"/>
<ellipse cx="637.1" cy="664.2" rx="2.5" ry="2.0" fill="#db7b76"/>
<ellipse cx="637.1" cy="665.2" rx="2.5" ry="2.0" fill="#db7d77"/>
<ellipse cx="637.1" cy="666.2" rx="2.5" ry="2.0" fill="#dc7e78"/>
<ellipse cx="637.1" cy="667.2" rx="2.5" ry="2.0" fill="#dd8079"/>
<ellipse cx="637.1" cy="668.2" rx="2.5" ry="2.0" fill="#dd817a"/>
<ellipse cx="637.1" cy="669.2" rx="2.5" ry="2.0" fill="#de837b"/>
<ellipse cx="637.1" cy="670.2" rx="2.5" ry="2.0" fill="#de857c"/>
<ellipse cx="637.1" cy="671.2" rx="2.5" ry="2.0" fill="#df867d"/>
<ellipse cx="637.1" cy="672.2" rx="2.5" ry="2.0" fill="#df887e"/>
<ellipse cx="637.1" cy="673.2" rx="2.5" ry="2.0" fill="#e08a7f"/>
<ellipse cx="637.1" cy="674.2" rx="2.5" ry="2.0" fill="#e18b80"/>
<ellipse cx="637.1" cy="675.2" rx="2.5" ry="2.0" fill="#e18d81"/>
<ellipse cx="637.1" cy="676.2" rx="2.5" ry="2.0" fill="#e28e82"/>
<ellipse cx="637.1" cy="677.2" rx="2.5" ry="2.0" fill="#e29083"/>
<ellipse cx="637.1" cy="678.2" rx="2.5" ry="2.0" fill="#e39284"/>
<ellipse cx="637.1" cy="679.2" rx="2.5" ry="2.0" fill="#e49385"/>
<ellipse cx="637.1" cy="680.2" rx="2.5" ry="2.0" fill="#e49586"/>
<ellipse cx="637.1" cy="681.2" rx="2.5" ry="2.0" fill="#e59786"/>
<ellipse cx="637.1" cy="682.2" rx="2.5" ry="2.0" fill="#e59887"/>
<ellipse cx="637.1" cy="683.2" rx="2.5" ry="2.0" fill="#e69a88"/>
<ellipse cx="637.1" cy="684.2" rx="2.5" ry="2.0" fill="#e69b89"/>
<ellipse cx="637.1" cy="685.2" rx="2.5" ry="2.0" fill="#e79d8a"/>
<ellipse cx="637.1" cy="686.2" rx="2.5" ry="2.0" fill="#e89f8b"/>
<ellipse cx="637.1" cy="687.2" rx="2.5" ry="2.0" fill="#e8a08c"/>
<ellipse cx="637.1" cy="688.2" rx="2.5" ry="2.0" fill="#e9a28d"/>
<ellipse cx="637.1" cy="689.2" rx="2.5" ry="2.0" fill="#e9a48e"/>
<ellipse cx="637.1" cy="690.2" rx="2.5" ry="2.0" fill="#eaa68f"/>
<ellipse cx="637.1" cy="691.2" rx="2.5" ry="2.0" fill="#eaa891"/>
<ellipse cx="637.1" cy="692.2" rx="2.5" ry="2.0" fill="#ebaa92"/>
<ellipse cx="637.1" cy="693.2" rx="2.5" ry="2.0" fill="#ebab93"/>
<ellipse cx="637.1" cy="694.2" rx="2.5" ry="2.0" fill="#ecad94"/>
<ellipse cx="637.1" cy="695.2" rx="2.5" ry="2.0" fill="#ecaf95"/>
<ellipse cx="637.1" cy="696.2" rx="2.5" ry="2.0" fill="#edb196"/>
<ellipse cx="637.1" cy="697.2" rx="2.5" ry="2.0" fill="#edb397"/>
<ellipse cx="637.1" cy="698.2" rx="2.5" ry="2.0" fill="#eeb598"/>
<ellipse cx="637.1" cy="699.2" rx="2.5" ry="2.0" fill="#eeb699"/>
<ellipse cx="637.1" cy="700.2" rx="2.5" ry="2.0" fill="#efb89a"/>
<ellipse cx="637.1" cy="701.2" rx="2.5" ry="2.0" fill="#efba9b"/>
<ellipse cx="637.1" cy="702.2" rx="2.5" ry="2.0" fill="#f0bc9c"/>
<ellipse cx="637.1" cy="703.2" rx="2.5" ry="2.0" fill="#f0be9e"/>
<ellipse cx="637.1" cy="704.2" rx="2.5" ry="2.0" fill="#f1bf9f"/>
<ellipse cx="677.6" cy="596.8" rx="2.5" ry="2.0" fill="#b21032"/>
<ellipse cx="677.6" cy="597.8" rx="2.5" ry="2.0" fill="#b21032"/>
<ellipse cx="677.6" cy="598.8" rx="2.5" ry="2.0" fill="#b21032"/>
<ellipse cx="677.6" cy="599.8" rx="2.5" ry="2.0" fill="#b31233"/>
<ellipse cx="677.6" cy="600.8" rx="2.5" ry="2.0" fill="#b31334"/>
<ellipse cx="677.6" cy="601.8" rx="2.5" ry="2.0" fill="#b41535"/>
<ellipse cx="677.6" cy="657.9" rx="2.5" ry="2.0" fill="#d77170"/>
<ellipse cx="677.6" cy="658.9" rx="2.5" ry="2.0" fill="#d87271"/>
<ellipse cx="677.6" cy="659.9" rx="2.5" ry="2.0" fill="#d87472"/>
<ellipse cx="677.6" cy="660.9" rx="2.5" ry="2.0" fill="#d97673"/>
<ellipse cx="677.6" cy="661.9" rx="2.5" ry="2.0" fill="#da7774"/>
<ellipse cx="677.6" cy="662.9" rx="2.5" ry="2.0" fill="#da7975"/>
<ellipse cx="677.6" cy="663.9" rx="2.5" ry="2.0" fill="#db7a76"/>
<ellipse cx="677.6" cy="664.9" rx="2.5" ry="2.0" fill="#db7c77"/>
<ellipse cx="677.6" cy="665.9" rx="2.5" ry="2.0" fill="#dc7e78"/>
<ellipse cx="677.6" cy="666.9" rx="2.5" ry="2.0" fill="#dc7f79"/>
<ellipse cx="677.6" cy="667.9" rx="2.5" ry="2.0" fill="#dd817a"/>
<ellipse cx="677.6" cy="668.9" rx="2.5" ry="2.0" fill="#de837b"/>
<ellipse cx="677.6" cy="669.9" rx="2.5" ry="2.0" fill="#de847c"/>
<ellipse cx="677.6" cy="670.9" rx="2.5" ry="2.0" fill="#df867d"/>
<ellipse cx="677.6" cy="671.9" rx="2.5" ry="2.0" fill="#df877e"/>
<ellipse cx="677.6" cy="672.9" rx="2.5" ry="2.0" fill="#e0897f"/>
<ellipse cx="677.6" cy="673.9" rx="2.5" ry="2.0" fill="#e08b80"/>
<ellipse cx="677.6" cy="674.9" rx="2.5" ry="2.0" fill="#e18c81"/>
<ellipse cx="677.6" cy="675.9" rx="2.5" ry="2.0" fill="#e28e81"/>
<ellipse cx="677.6" cy="676.9" rx="2.5" ry="2.0" fill="#e29082"/>
<ellipse cx="677.6" cy="677.9" rx="2.5" ry="2.0" fill="#e39183"/>
<ellipse cx="677.6" cy="678.9" rx="2.5" ry="2.0" fill="#e39384"/>
<ellipse cx="677.6" cy="679.9" rx="2.5" ry="2.0" fill="#e49485"/>
<ellipse cx="677.6" cy="680.9" rx="2.5" ry="2.0" fill="#e49686"/>
<ellipse cx="677.6" cy="681.9" rx="2.5" ry="2.0" fill="#e59887"/>
<ellipse cx="677.6" cy="682.9" rx="2.5" ry="2.0" fill="#e69988"/>
<ellipse cx="677.6" cy="683.9" rx="2.5" ry="2.0" fill="#e69b89"/>
<ellipse cx="677.6" cy="684.9" rx="2.5" ry="2.0" fill="#e79d8a"/>
<ellipse cx="677.6" cy="685.9" rx="2.5" ry="2.0" fill="#e79e8b"/>
<ellipse cx="677.6" cy="686.9" rx="2.5" ry="2.0" fill="#e8a08c"/>
<ellipse cx="677.6" cy="687.9" rx="2.5" ry="2.0" fill="#e8a28d"/>
<ellipse cx="677.6" cy="688.9" rx="2.5" ry="2.0" fill="#e9a38e"/>
<ellipse cx="677.6" cy="689.9" rx="2.5" ry="2.0" fill="#e9a58f"/>
<ellipse cx="677.6" cy="690.9" rx="2.5" ry="2.0" fill="#eaa790"/>
<ellipse cx="677.6" cy="691.9" rx="2.5" ry="2.0" fill="#eaa991"/>
<ellipse cx="677.6" cy="692.9" rx="2.5" ry="2.0" fill="#ebab92"/>
<ellipse cx="677.6" cy="693.9" rx="2.5" ry="2.0" fill="#ecad93"/>
<ellipse cx="677.6" cy="694.9" rx="2.5" ry="2.0" fill="#ecae95"/>
<ellipse cx="677.6" cy="695.9" rx="2.5" ry="2.0" fill="#edb096"/>
<ellipse cx="677.6" cy="696.9" rx="2.5" ry="2.0" fill="#edb297"/>
<ellipse cx="677.6" cy="697.9" rx="2.5" ry="2.0" fill="#eeb498"/>
<ellipse cx="677.6" cy="698.9" rx="2.5" ry="2.0" fill="#eeb699"/>
<ellipse cx="677.6" cy="699.9" rx="2.5" ry="2.0" fill="#efb89a"/>
<ellipse cx="677.6" cy="700.9" rx="2.5" ry="2.0" fill="#efb99b"/>
<ellipse cx="677.6" cy="701.9" rx="2.5" ry="2.0" fill="#f0bb9c"/>
<ellipse cx="677.6" cy="702.9" rx="2.5" ry="2.0" fill="#f0bd9d"/>
<ellipse cx="677.6" cy="703.9" rx="2.5" ry="2.0" fill="#f1bf9e"/>
<ellipse cx="677.6" cy="704.9" rx="2.5" ry="2.0" fill="#f1c19f"/>
<ellipse cx="677.6" cy="705.9" rx="2.5" ry="2.0" fill="#f2c3a1"/>
<ellipse cx="677.6" cy="706.9" rx="2.5" ry="2.0" fill="#f2c4a2"/>
<ellipse cx="677.6" cy="707.9" rx="2.5" ry="2.0" fill="#f3c6a3"/>
<ellipse cx="677.6" cy="708.9" rx="2.5" ry="2.0" fill="#f3c8a4"/>
<ellipse cx="677.6" cy="709.9" rx="2.5" ry="2.0" fill="#f4caa5"/>
<ellipse cx="677.6" cy="710.9" rx="2.5" ry="2.0" fill="#f4cca6"/>
<ellipse cx="677.6" cy="711.9" rx="2.5" ry="2.0" fill="#f5cea7"/>
<ellipse cx="677.6" cy="712.9" rx="2.5" ry="2.0" fill="#f5cfa8"/>
<ellipse cx="677.6" cy="713.9" rx="2.5" ry="2.0" fill="#f6d1a9"/>
<ellipse cx="677.6" cy="714.9" rx="2.5" ry="2.0" fill="#f6d3aa"/>
<ellipse cx="677.6" cy="715.9" rx="2.5" ry="2.0" fill="#f7d5ab"/>
<ellipse cx="677.6" cy="716.9" rx="2.5" ry="2.0" fill="#f7d6ac"/>
<ellipse cx="677.6" cy="717.9" rx="2.5" ry="2.0" fill="#f7d8ae"/>
<ellipse cx="677.6" cy="718.9" rx="2.5" ry="2.0" fill="#f8d9af"/>
<ellipse cx="677.6" cy="719.9" rx="2.5" ry="2.0" fill="#f8dab0"/>
<ellipse cx="677.6" cy="720.9" rx="2.5" ry="2.0" fill="#f8dbb1"/>
<ellipse cx="677.6" cy="721.9" rx="2.5" ry="2.0" fill="#f8dcb2"/>
<ellipse cx="677.6" cy="722.9" rx="2.5" ry="2.0" fill="#f9ddb3"/>
<ellipse cx="677.6" cy="723.9" rx="2.5" ry="2.0" fill="#f9dfb4"/>
<ellipse cx="677.6" cy="724.9" rx="2.5" ry="2.0" fill="#f9e0b5"/>
<ellipse cx="677.6" cy="725.9" rx="2.5" ry="2.0" fill="#fae1b7"/>
<ellipse cx="677.6" cy="726.9" rx="2.5" ry="2.0" fill="#fae2b8"/>
<ellipse cx="677.6" cy="727.9" rx="2.5" ry="2.0" fill="#fae3b9"/>
<ellipse cx="677.6" cy="728.9" rx="2.5" ry="2.0" fill="#fae4ba"/>
<ellipse cx="677.6" cy="729.9" rx="2.5" ry="2.0" fill="#fbe5bb"/>
<ellipse cx="677.6" cy="730.9" rx="2.5" ry="2.0" fill="#fbe7bc"/>
<ellipse cx="677.6" cy="731.9" rx="2.5" ry="2.0" fill="#fbe8bd"/>
<ellipse cx="677.6" cy="732.9" rx="2.5" ry="2.0" fill="#fbe9be"/>
<ellipse cx="677.6" cy="733.9" rx="2.5" ry="2.0" fill="#fceabf"/>
<ellipse cx="677.6" cy="734.9" rx="2.5" ry="2.0" fill="#fcebc1"/>
<ellipse cx="677.6" cy="735.9" rx="2.5" ry="2.0" fill="#fcecc2"/>
<ellipse cx="677.6" cy="736.9" rx="2.5" ry="2.0" fill="#fdeec3"/>
<ellipse cx="677.6" cy="737.9" rx="2.5" ry="2.0" fill="#fdefc4"/>
<ellipse cx="677.6" cy="738.9" rx="2.5" ry="2.0" fill="#fdf0c5"/>
<ellipse cx="677.6" cy="739.9" rx="2.5" ry="2.0" fill="#fdf1c6"/>
<ellipse cx="677.6" cy="740.9" rx="2.5" ry="2.0" fill="#fef2c7"/>
<ellipse cx="677.6" cy="741.9" rx="2.5" ry="2.0" fill="#fef3c8"/>
<ellipse cx="677.6" cy="742.9" rx="2.5" ry="2.0" fill="#fef4ca"/>
<ellipse cx="677.6" cy="743.9" rx="2.5" ry="2.0" fill="#fef6cb"/>
</svg></body></html>
